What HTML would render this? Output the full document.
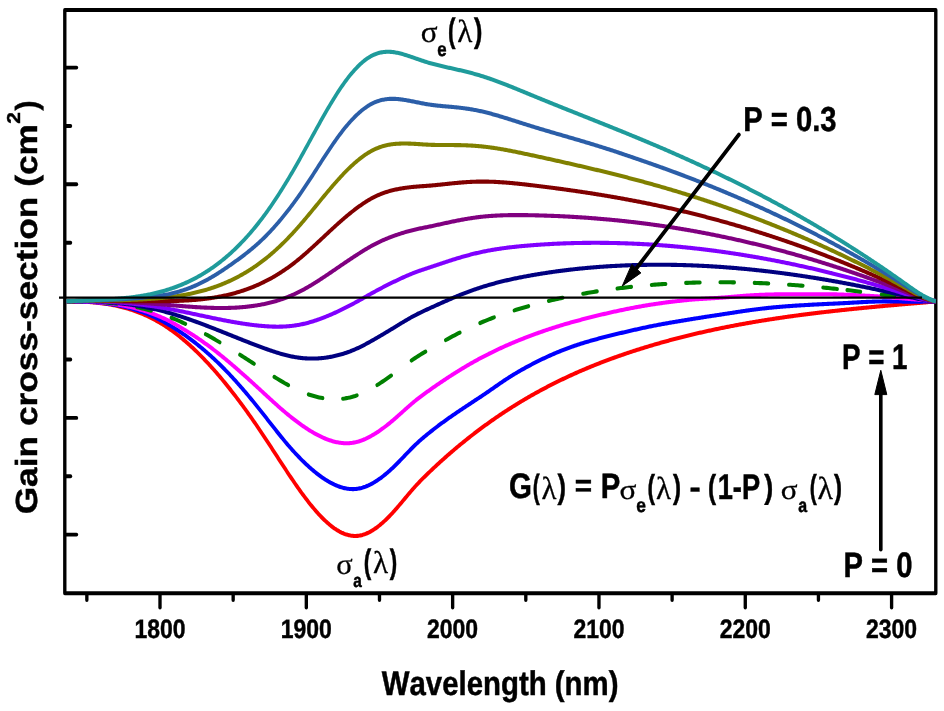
<!DOCTYPE html>
<html><head><meta charset="utf-8"><style>
html,body{margin:0;padding:0;background:#fff;width:944px;height:711px;overflow:hidden}
svg{display:block}
text{font-family:"Liberation Sans",sans-serif;font-weight:bold;fill:#000;font-kerning:none;text-rendering:geometricPrecision}
</style></head><body>
<svg style="will-change:transform" width="944" height="711" viewBox="0 0 944 711">
<rect width="944" height="711" fill="#fff"/>
<g stroke="#000" stroke-width="3.9" stroke-linecap="round" fill="none" transform="scale(0.86,1)">
<rect x="75.35" y="10.0" width="1012.79" height="583.3" stroke-linejoin="round"/>
<line x1="100.98" y1="594.3" x2="100.98" y2="600"/>
<line x1="186.05" y1="594.3" x2="186.05" y2="607.6"/>
<line x1="271.12" y1="594.3" x2="271.12" y2="600"/>
<line x1="356.19" y1="594.3" x2="356.19" y2="607.6"/>
<line x1="441.26" y1="594.3" x2="441.26" y2="600"/>
<line x1="526.33" y1="594.3" x2="526.33" y2="607.6"/>
<line x1="611.40" y1="594.3" x2="611.40" y2="600"/>
<line x1="696.47" y1="594.3" x2="696.47" y2="607.6"/>
<line x1="781.53" y1="594.3" x2="781.53" y2="600"/>
<line x1="866.60" y1="594.3" x2="866.60" y2="607.6"/>
<line x1="951.67" y1="594.3" x2="951.67" y2="600"/>
<line x1="1036.74" y1="594.3" x2="1036.74" y2="607.6"/>
<line x1="76.51" y1="67.6" x2="88.95" y2="67.6"/>
<line x1="76.51" y1="184.3" x2="88.95" y2="184.3"/>
<line x1="76.51" y1="301.1" x2="88.95" y2="301.1"/>
<line x1="76.51" y1="417.9" x2="88.95" y2="417.9"/>
<line x1="76.51" y1="534.6" x2="88.95" y2="534.6"/>
<line x1="76.51" y1="126.0" x2="81.98" y2="126.0"/>
<line x1="76.51" y1="242.7" x2="81.98" y2="242.7"/>
<line x1="76.51" y1="359.5" x2="81.98" y2="359.5"/>
<line x1="76.51" y1="476.2" x2="81.98" y2="476.2"/>
</g>
<g fill="none" stroke-width="4.1" stroke-linejoin="round" transform="scale(0.86,1)">
<path d="M77.33,301.47 L78.49,301.46 L79.65,301.46 L80.81,301.46 L81.98,301.46 L83.14,301.46 L84.30,301.46 L85.47,301.47 L86.63,301.48 L87.79,301.50 L88.95,301.52 L90.12,301.54 L91.28,301.56 L92.44,301.59 L93.60,301.62 L94.77,301.65 L95.93,301.69 L97.09,301.73 L98.26,301.78 L99.42,301.83 L100.58,301.88 L101.74,301.94 L102.91,302.00 L104.07,302.06 L105.23,302.13 L106.40,302.21 L107.56,302.28 L108.72,302.37 L109.88,302.46 L111.05,302.55 L112.21,302.65 L113.37,302.75 L114.53,302.86 L115.70,302.97 L116.86,303.09 L118.02,303.21 L119.19,303.34 L120.35,303.47 L121.51,303.61 L122.67,303.76 L123.84,303.91 L125.00,304.07 L126.16,304.23 L127.33,304.40 L128.49,304.57 L129.65,304.75 L130.81,304.94 L131.98,305.14 L133.14,305.34 L134.30,305.54 L135.47,305.76 L136.63,305.98 L137.79,306.20 L138.95,306.44 L140.12,306.68 L141.28,306.93 L142.44,307.18 L143.60,307.45 L144.77,307.72 L145.93,307.99 L147.09,308.28 L148.26,308.57 L149.42,308.87 L150.58,309.18 L151.74,309.50 L152.91,309.82 L154.07,310.15 L155.23,310.49 L156.40,310.84 L157.56,311.20 L158.72,311.56 L159.88,311.94 L161.05,312.32 L162.21,312.71 L163.37,313.11 L164.53,313.52 L165.70,313.94 L166.86,314.36 L168.02,314.80 L169.19,315.24 L170.35,315.70 L171.51,316.16 L172.67,316.64 L173.84,317.12 L175.00,317.61 L176.16,318.11 L177.33,318.63 L178.49,319.15 L179.65,319.68 L180.81,320.22 L181.98,320.78 L183.14,321.34 L184.30,321.91 L185.47,322.50 L186.63,323.09 L187.79,323.70 L188.95,324.31 L190.12,324.94 L191.28,325.58 L192.44,326.23 L193.60,326.88 L194.77,327.56 L195.93,328.24 L197.09,328.93 L198.26,329.63 L199.42,330.34 L200.58,331.07 L201.74,331.80 L202.91,332.55 L204.07,333.31 L205.23,334.07 L206.40,334.85 L207.56,335.64 L208.72,336.43 L209.88,337.24 L211.05,338.06 L212.21,338.89 L213.37,339.73 L214.53,340.57 L215.70,341.43 L216.86,342.30 L218.02,343.18 L219.19,344.07 L220.35,344.97 L221.51,345.88 L222.67,346.79 L223.84,347.72 L225.00,348.66 L226.16,349.61 L227.33,350.56 L228.49,351.53 L229.65,352.51 L230.81,353.49 L231.98,354.49 L233.14,355.49 L234.30,356.50 L235.47,357.53 L236.63,358.56 L237.79,359.60 L238.95,360.65 L240.12,361.71 L241.28,362.78 L242.44,363.86 L243.60,364.94 L244.77,366.04 L245.93,367.14 L247.09,368.26 L248.26,369.38 L249.42,370.51 L250.58,371.65 L251.74,372.80 L252.91,373.95 L254.07,375.12 L255.23,376.29 L256.40,377.47 L257.56,378.66 L258.72,379.86 L259.88,381.07 L261.05,382.29 L262.21,383.51 L263.37,384.74 L264.53,385.98 L265.70,387.23 L266.86,388.49 L268.02,389.75 L269.19,391.02 L270.35,392.30 L271.51,393.59 L272.67,394.89 L273.84,396.19 L275.00,397.50 L276.16,398.82 L277.33,400.15 L278.49,401.48 L279.65,402.82 L280.81,404.17 L281.98,405.53 L283.14,406.89 L284.30,408.27 L285.47,409.64 L286.63,411.03 L287.79,412.42 L288.95,413.83 L290.12,415.23 L291.28,416.65 L292.44,418.07 L293.60,419.50 L294.77,420.93 L295.93,422.38 L297.09,423.83 L298.26,425.28 L299.42,426.75 L300.58,428.22 L301.74,429.69 L302.91,431.18 L304.07,432.67 L305.23,434.16 L306.40,435.67 L307.56,437.17 L308.72,438.69 L309.88,440.21 L311.05,441.73 L312.21,443.26 L313.37,444.79 L314.53,446.32 L315.70,447.86 L316.86,449.40 L318.02,450.94 L319.19,452.48 L320.35,454.02 L321.51,455.56 L322.67,457.10 L323.84,458.65 L325.00,460.18 L326.16,461.72 L327.33,463.26 L328.49,464.79 L329.65,466.32 L330.81,467.84 L331.98,469.36 L333.14,470.88 L334.30,472.39 L335.47,473.89 L336.63,475.39 L337.79,476.88 L338.95,478.37 L340.12,479.84 L341.28,481.31 L342.44,482.77 L343.60,484.22 L344.77,485.66 L345.93,487.09 L347.09,488.51 L348.26,489.92 L349.42,491.32 L350.58,492.70 L351.74,494.07 L352.91,495.43 L354.07,496.78 L355.23,498.11 L356.40,499.43 L357.56,500.73 L358.72,502.01 L359.88,503.28 L361.05,504.54 L362.21,505.77 L363.37,506.99 L364.53,508.20 L365.70,509.38 L366.86,510.54 L368.02,511.69 L369.19,512.81 L370.35,513.91 L371.51,515.00 L372.67,516.06 L373.84,517.10 L375.00,518.12 L376.16,519.11 L377.33,520.08 L378.49,521.03 L379.65,521.95 L380.81,522.85 L381.98,523.72 L383.14,524.57 L384.30,525.39 L385.47,526.19 L386.63,526.95 L387.79,527.69 L388.95,528.40 L390.12,529.08 L391.28,529.74 L392.44,530.36 L393.60,530.95 L394.77,531.52 L395.93,532.05 L397.09,532.55 L398.26,533.01 L399.42,533.45 L400.58,533.85 L401.74,534.22 L402.91,534.55 L404.07,534.85 L405.23,535.12 L406.40,535.34 L407.56,535.54 L408.72,535.69 L409.88,535.81 L411.05,535.89 L412.21,535.94 L413.37,535.94 L414.53,535.91 L415.70,535.84 L416.86,535.72 L418.02,535.57 L419.19,535.38 L420.35,535.15 L421.51,534.89 L422.67,534.59 L423.84,534.25 L425.00,533.88 L426.16,533.48 L427.33,533.04 L428.49,532.56 L429.65,532.06 L430.81,531.52 L431.98,530.95 L433.14,530.35 L434.30,529.72 L435.47,529.07 L436.63,528.38 L437.79,527.66 L438.95,526.92 L440.12,526.15 L441.28,525.36 L442.44,524.53 L443.60,523.69 L444.77,522.82 L445.93,521.92 L447.09,521.01 L448.26,520.07 L449.42,519.10 L450.58,518.12 L451.74,517.12 L452.91,516.09 L454.07,515.05 L455.23,513.99 L456.40,512.91 L457.56,511.82 L458.72,510.70 L459.88,509.57 L461.05,508.43 L462.21,507.28 L463.37,506.11 L464.53,504.93 L465.70,503.75 L466.86,502.56 L468.02,501.37 L469.19,500.17 L470.35,498.97 L471.51,497.77 L472.67,496.57 L473.84,495.38 L475.00,494.19 L476.16,493.01 L477.33,491.83 L478.49,490.67 L479.65,489.52 L480.81,488.38 L481.98,487.25 L483.14,486.14 L484.30,485.05 L485.47,483.98 L486.63,482.91 L487.79,481.87 L488.95,480.83 L490.12,479.81 L491.28,478.80 L492.44,477.81 L493.60,476.82 L494.77,475.83 L495.93,474.86 L497.09,473.89 L498.26,472.93 L499.42,471.97 L500.58,471.02 L501.74,470.07 L502.91,469.13 L504.07,468.19 L505.23,467.25 L506.40,466.32 L507.56,465.39 L508.72,464.47 L509.88,463.55 L511.05,462.64 L512.21,461.73 L513.37,460.83 L514.53,459.93 L515.70,459.03 L516.86,458.14 L518.02,457.25 L519.19,456.37 L520.35,455.49 L521.51,454.61 L522.67,453.74 L523.84,452.88 L525.00,452.02 L526.16,451.16 L527.33,450.30 L528.49,449.46 L529.65,448.61 L530.81,447.77 L531.98,446.93 L533.14,446.10 L534.30,445.27 L535.47,444.44 L536.63,443.62 L537.79,442.81 L538.95,441.99 L540.12,441.19 L541.28,440.38 L542.44,439.58 L543.60,438.78 L544.77,437.99 L545.93,437.20 L547.09,436.42 L548.26,435.64 L549.42,434.86 L550.58,434.09 L551.74,433.32 L552.91,432.55 L554.07,431.79 L555.23,431.03 L556.40,430.28 L557.56,429.53 L558.72,428.78 L559.88,428.04 L561.05,427.30 L562.21,426.57 L563.37,425.84 L564.53,425.11 L565.70,424.39 L566.86,423.67 L568.02,422.95 L569.19,422.24 L570.35,421.53 L571.51,420.82 L572.67,420.12 L573.84,419.42 L575.00,418.73 L576.16,418.04 L577.33,417.35 L578.49,416.67 L579.65,415.99 L580.81,415.31 L581.98,414.64 L583.14,413.97 L584.30,413.30 L585.47,412.64 L586.63,411.98 L587.79,411.33 L588.95,410.67 L590.12,410.03 L591.28,409.38 L592.44,408.74 L593.60,408.10 L594.77,407.47 L595.93,406.83 L597.09,406.21 L598.26,405.58 L599.42,404.96 L600.58,404.34 L601.74,403.73 L602.91,403.11 L604.07,402.51 L605.23,401.90 L606.40,401.30 L607.56,400.70 L608.72,400.10 L609.88,399.51 L611.05,398.92 L612.21,398.34 L613.37,397.75 L614.53,397.17 L615.70,396.60 L616.86,396.02 L618.02,395.45 L619.19,394.89 L620.35,394.32 L621.51,393.76 L622.67,393.20 L623.84,392.65 L625.00,392.10 L626.16,391.55 L627.33,391.00 L628.49,390.46 L629.65,389.92 L630.81,389.38 L631.98,388.85 L633.14,388.31 L634.30,387.79 L635.47,387.26 L636.63,386.74 L637.79,386.22 L638.95,385.70 L640.12,385.19 L641.28,384.68 L642.44,384.17 L643.60,383.66 L644.77,383.16 L645.93,382.66 L647.09,382.16 L648.26,381.67 L649.42,381.18 L650.58,380.69 L651.74,380.20 L652.91,379.72 L654.07,379.24 L655.23,378.76 L656.40,378.28 L657.56,377.81 L658.72,377.34 L659.88,376.87 L661.05,376.40 L662.21,375.94 L663.37,375.48 L664.53,375.02 L665.70,374.57 L666.86,374.12 L668.02,373.67 L669.19,373.22 L670.35,372.77 L671.51,372.33 L672.67,371.89 L673.84,371.45 L675.00,371.02 L676.16,370.59 L677.33,370.16 L678.49,369.73 L679.65,369.30 L680.81,368.88 L681.98,368.46 L683.14,368.04 L684.30,367.62 L685.47,367.21 L686.63,366.80 L687.79,366.39 L688.95,365.98 L690.12,365.58 L691.28,365.17 L692.44,364.77 L693.60,364.37 L694.77,363.98 L695.93,363.59 L697.09,363.19 L698.26,362.80 L699.42,362.42 L700.58,362.03 L701.74,361.65 L702.91,361.27 L704.07,360.89 L705.23,360.51 L706.40,360.14 L707.56,359.76 L708.72,359.39 L709.88,359.02 L711.05,358.66 L712.21,358.29 L713.37,357.93 L714.53,357.57 L715.70,357.21 L716.86,356.85 L718.02,356.50 L719.19,356.15 L720.35,355.79 L721.51,355.44 L722.67,355.10 L723.84,354.75 L725.00,354.41 L726.16,354.07 L727.33,353.73 L728.49,353.39 L729.65,353.05 L730.81,352.72 L731.98,352.38 L733.14,352.05 L734.30,351.72 L735.47,351.39 L736.63,351.07 L737.79,350.74 L738.95,350.42 L740.12,350.10 L741.28,349.78 L742.44,349.46 L743.60,349.15 L744.77,348.83 L745.93,348.52 L747.09,348.21 L748.26,347.90 L749.42,347.59 L750.58,347.28 L751.74,346.98 L752.91,346.67 L754.07,346.37 L755.23,346.07 L756.40,345.77 L757.56,345.47 L758.72,345.18 L759.88,344.88 L761.05,344.59 L762.21,344.30 L763.37,344.01 L764.53,343.72 L765.70,343.43 L766.86,343.15 L768.02,342.86 L769.19,342.58 L770.35,342.30 L771.51,342.02 L772.67,341.74 L773.84,341.46 L775.00,341.19 L776.16,340.91 L777.33,340.64 L778.49,340.37 L779.65,340.10 L780.81,339.83 L781.98,339.56 L783.14,339.30 L784.30,339.03 L785.47,338.77 L786.63,338.51 L787.79,338.25 L788.95,337.99 L790.12,337.73 L791.28,337.48 L792.44,337.22 L793.60,336.97 L794.77,336.72 L795.93,336.46 L797.09,336.22 L798.26,335.97 L799.42,335.72 L800.58,335.48 L801.74,335.23 L802.91,334.99 L804.07,334.75 L805.23,334.51 L806.40,334.27 L807.56,334.03 L808.72,333.79 L809.88,333.56 L811.05,333.33 L812.21,333.09 L813.37,332.86 L814.53,332.63 L815.70,332.40 L816.86,332.17 L818.02,331.95 L819.19,331.72 L820.35,331.50 L821.51,331.28 L822.67,331.06 L823.84,330.84 L825.00,330.62 L826.16,330.40 L827.33,330.18 L828.49,329.97 L829.65,329.75 L830.81,329.54 L831.98,329.33 L833.14,329.12 L834.30,328.91 L835.47,328.70 L836.63,328.49 L837.79,328.28 L838.95,328.08 L840.12,327.88 L841.28,327.67 L842.44,327.47 L843.60,327.27 L844.77,327.07 L845.93,326.87 L847.09,326.68 L848.26,326.48 L849.42,326.29 L850.58,326.09 L851.74,325.90 L852.91,325.71 L854.07,325.52 L855.23,325.33 L856.40,325.14 L857.56,324.95 L858.72,324.76 L859.88,324.58 L861.05,324.39 L862.21,324.21 L863.37,324.03 L864.53,323.85 L865.70,323.67 L866.86,323.49 L868.02,323.31 L869.19,323.13 L870.35,322.96 L871.51,322.78 L872.67,322.61 L873.84,322.43 L875.00,322.26 L876.16,322.09 L877.33,321.92 L878.49,321.75 L879.65,321.58 L880.81,321.41 L881.98,321.25 L883.14,321.08 L884.30,320.92 L885.47,320.75 L886.63,320.59 L887.79,320.43 L888.95,320.27 L890.12,320.10 L891.28,319.95 L892.44,319.79 L893.60,319.63 L894.77,319.47 L895.93,319.32 L897.09,319.16 L898.26,319.01 L899.42,318.85 L900.58,318.70 L901.74,318.55 L902.91,318.40 L904.07,318.25 L905.23,318.10 L906.40,317.95 L907.56,317.81 L908.72,317.66 L909.88,317.51 L911.05,317.37 L912.21,317.22 L913.37,317.08 L914.53,316.94 L915.70,316.80 L916.86,316.66 L918.02,316.52 L919.19,316.38 L920.35,316.24 L921.51,316.10 L922.67,315.96 L923.84,315.83 L925.00,315.69 L926.16,315.55 L927.33,315.42 L928.49,315.29 L929.65,315.15 L930.81,315.02 L931.98,314.89 L933.14,314.76 L934.30,314.63 L935.47,314.50 L936.63,314.37 L937.79,314.24 L938.95,314.12 L940.12,313.99 L941.28,313.86 L942.44,313.74 L943.60,313.61 L944.77,313.49 L945.93,313.37 L947.09,313.24 L948.26,313.12 L949.42,313.00 L950.58,312.88 L951.74,312.76 L952.91,312.64 L954.07,312.52 L955.23,312.40 L956.40,312.29 L957.56,312.17 L958.72,312.05 L959.88,311.94 L961.05,311.82 L962.21,311.71 L963.37,311.59 L964.53,311.48 L965.70,311.36 L966.86,311.25 L968.02,311.14 L969.19,311.03 L970.35,310.92 L971.51,310.81 L972.67,310.70 L973.84,310.59 L975.00,310.48 L976.16,310.37 L977.33,310.26 L978.49,310.15 L979.65,310.05 L980.81,309.94 L981.98,309.84 L983.14,309.73 L984.30,309.62 L985.47,309.52 L986.63,309.42 L987.79,309.31 L988.95,309.21 L990.12,309.11 L991.28,309.00 L992.44,308.90 L993.60,308.80 L994.77,308.70 L995.93,308.60 L997.09,308.50 L998.26,308.40 L999.42,308.30 L1000.58,308.20 L1001.74,308.10 L1002.91,308.00 L1004.07,307.90 L1005.23,307.81 L1006.40,307.71 L1007.56,307.61 L1008.72,307.52 L1009.88,307.42 L1011.05,307.32 L1012.21,307.23 L1013.37,307.13 L1014.53,307.04 L1015.70,306.94 L1016.86,306.85 L1018.02,306.76 L1019.19,306.66 L1020.35,306.57 L1021.51,306.48 L1022.67,306.38 L1023.84,306.29 L1025.00,306.20 L1026.16,306.11 L1027.33,306.02 L1028.49,305.92 L1029.65,305.83 L1030.81,305.74 L1031.98,305.65 L1033.14,305.56 L1034.30,305.47 L1035.47,305.38 L1036.63,305.29 L1037.79,305.20 L1038.95,305.11 L1040.12,305.02 L1041.28,304.94 L1042.44,304.85 L1043.60,304.76 L1044.77,304.67 L1045.93,304.58 L1047.09,304.49 L1048.26,304.41 L1049.42,304.32 L1050.58,304.23 L1051.74,304.14 L1052.91,304.06 L1054.07,303.97 L1055.23,303.88 L1056.40,303.80 L1057.56,303.71 L1058.72,303.62 L1059.88,303.54 L1061.05,303.45 L1062.21,303.37 L1063.37,303.28 L1064.53,303.19 L1065.70,303.11 L1066.86,303.02 L1068.02,302.94 L1069.19,302.85 L1070.35,302.77 L1071.51,302.68 L1072.67,302.60 L1073.84,302.51 L1075.00,302.42 L1076.16,302.34 L1077.33,302.25 L1078.49,302.17 L1079.65,302.08 L1080.81,302.00 L1081.98,301.91 L1083.14,301.83 L1084.30,301.74 L1085.47,301.66 L1086.63,301.57 L1088.14,301.49" stroke="#ff0000"/>
<path d="M77.33,301.46 L78.49,301.45 L79.65,301.44 L80.81,301.43 L81.98,301.42 L83.14,301.42 L84.30,301.42 L85.47,301.42 L86.63,301.43 L87.79,301.44 L88.95,301.45 L90.12,301.46 L91.28,301.48 L92.44,301.50 L93.60,301.52 L94.77,301.55 L95.93,301.58 L97.09,301.61 L98.26,301.65 L99.42,301.69 L100.58,301.73 L101.74,301.78 L102.91,301.83 L104.07,301.89 L105.23,301.94 L106.40,302.01 L107.56,302.07 L108.72,302.14 L109.88,302.22 L111.05,302.30 L112.21,302.38 L113.37,302.47 L114.53,302.56 L115.70,302.66 L116.86,302.76 L118.02,302.87 L119.19,302.98 L120.35,303.09 L121.51,303.21 L122.67,303.34 L123.84,303.47 L125.00,303.60 L126.16,303.74 L127.33,303.89 L128.49,304.04 L129.65,304.20 L130.81,304.36 L131.98,304.53 L133.14,304.70 L134.30,304.88 L135.47,305.06 L136.63,305.25 L137.79,305.45 L138.95,305.65 L140.12,305.86 L141.28,306.08 L142.44,306.30 L143.60,306.52 L144.77,306.76 L145.93,307.00 L147.09,307.24 L148.26,307.50 L149.42,307.76 L150.58,308.02 L151.74,308.30 L152.91,308.58 L154.07,308.86 L155.23,309.16 L156.40,309.46 L157.56,309.77 L158.72,310.08 L159.88,310.41 L161.05,310.74 L162.21,311.08 L163.37,311.42 L164.53,311.78 L165.70,312.14 L166.86,312.51 L168.02,312.89 L169.19,313.28 L170.35,313.67 L171.51,314.08 L172.67,314.49 L173.84,314.91 L175.00,315.34 L176.16,315.78 L177.33,316.23 L178.49,316.68 L179.65,317.15 L180.81,317.62 L181.98,318.10 L183.14,318.59 L184.30,319.10 L185.47,319.61 L186.63,320.12 L187.79,320.65 L188.95,321.19 L190.12,321.73 L191.28,322.29 L192.44,322.85 L193.60,323.42 L194.77,324.00 L195.93,324.59 L197.09,325.18 L198.26,325.77 L199.42,326.36 L200.58,326.97 L201.74,327.58 L202.91,328.20 L204.07,328.83 L205.23,329.47 L206.40,330.12 L207.56,330.77 L208.72,331.43 L209.88,332.10 L211.05,332.78 L212.21,333.46 L213.37,334.15 L214.53,334.85 L215.70,335.56 L216.86,336.28 L218.02,337.00 L219.19,337.73 L220.35,338.47 L221.51,339.21 L222.67,339.97 L223.84,340.73 L225.00,341.49 L226.16,342.27 L227.33,343.05 L228.49,343.84 L229.65,344.64 L230.81,345.44 L231.98,346.25 L233.14,347.07 L234.30,347.90 L235.47,348.74 L236.63,349.58 L237.79,350.43 L238.95,351.29 L240.12,352.15 L241.28,353.03 L242.44,353.91 L243.60,354.80 L244.77,355.70 L245.93,356.60 L247.09,357.52 L248.26,358.44 L249.42,359.37 L250.58,360.31 L251.74,361.26 L252.91,362.22 L254.07,363.18 L255.23,364.15 L256.40,365.14 L257.56,366.13 L258.72,367.13 L259.88,368.13 L261.05,369.15 L262.21,370.17 L263.37,371.21 L264.53,372.25 L265.70,373.30 L266.86,374.35 L268.02,375.42 L269.19,376.49 L270.35,377.57 L271.51,378.66 L272.67,379.76 L273.84,380.86 L275.00,381.98 L276.16,383.10 L277.33,384.22 L278.49,385.36 L279.65,386.50 L280.81,387.65 L281.98,388.80 L283.14,389.97 L284.30,391.13 L285.47,392.31 L286.63,393.49 L287.79,394.68 L288.95,395.87 L290.12,397.07 L291.28,398.28 L292.44,399.49 L293.60,400.71 L294.77,401.93 L295.93,403.16 L297.09,404.39 L298.26,405.63 L299.42,406.87 L300.58,408.12 L301.74,409.37 L302.91,410.62 L304.07,411.89 L305.23,413.15 L306.40,414.42 L307.56,415.69 L308.72,416.97 L309.88,418.24 L311.05,419.52 L312.21,420.80 L313.37,422.08 L314.53,423.36 L315.70,424.64 L316.86,425.92 L318.02,427.19 L319.19,428.46 L320.35,429.73 L321.51,430.99 L322.67,432.25 L323.84,433.51 L325.00,434.75 L326.16,436.00 L327.33,437.23 L328.49,438.45 L329.65,439.67 L330.81,440.88 L331.98,442.08 L333.14,443.27 L334.30,444.44 L335.47,445.61 L336.63,446.77 L337.79,447.91 L338.95,449.04 L340.12,450.17 L341.28,451.27 L342.44,452.37 L343.60,453.46 L344.77,454.53 L345.93,455.59 L347.09,456.63 L348.26,457.66 L349.42,458.69 L350.58,459.69 L351.74,460.69 L352.91,461.67 L354.07,462.64 L355.23,463.59 L356.40,464.53 L357.56,465.46 L358.72,466.38 L359.88,467.28 L361.05,468.16 L362.21,469.04 L363.37,469.90 L364.53,470.74 L365.70,471.57 L366.86,472.39 L368.02,473.19 L369.19,473.97 L370.35,474.74 L371.51,475.49 L372.67,476.23 L373.84,476.95 L375.00,477.65 L376.16,478.34 L377.33,479.00 L378.49,479.66 L379.65,480.29 L380.81,480.90 L381.98,481.50 L383.14,482.07 L384.30,482.63 L385.47,483.16 L386.63,483.68 L387.79,484.17 L388.95,484.65 L390.12,485.10 L391.28,485.53 L392.44,485.93 L393.60,486.32 L394.77,486.68 L395.93,487.02 L397.09,487.33 L398.26,487.62 L399.42,487.89 L400.58,488.13 L401.74,488.34 L402.91,488.53 L404.07,488.69 L405.23,488.83 L406.40,488.93 L407.56,489.01 L408.72,489.06 L409.88,489.08 L411.05,489.08 L412.21,489.04 L413.37,488.97 L414.53,488.87 L415.70,488.74 L416.86,488.58 L418.02,488.38 L419.19,488.16 L420.35,487.91 L421.51,487.63 L422.67,487.31 L423.84,486.97 L425.00,486.61 L426.16,486.21 L427.33,485.79 L428.49,485.35 L429.65,484.87 L430.81,484.38 L431.98,483.85 L433.14,483.31 L434.30,482.74 L435.47,482.15 L436.63,481.53 L437.79,480.90 L438.95,480.24 L440.12,479.56 L441.28,478.86 L442.44,478.14 L443.60,477.40 L444.77,476.64 L445.93,475.86 L447.09,475.06 L448.26,474.24 L449.42,473.40 L450.58,472.55 L451.74,471.68 L452.91,470.79 L454.07,469.89 L455.23,468.97 L456.40,468.03 L457.56,467.08 L458.72,466.12 L459.88,465.14 L461.05,464.14 L462.21,463.14 L463.37,462.12 L464.53,461.10 L465.70,460.06 L466.86,459.02 L468.02,457.98 L469.19,456.93 L470.35,455.88 L471.51,454.83 L472.67,453.78 L473.84,452.74 L475.00,451.70 L476.16,450.66 L477.33,449.63 L478.49,448.62 L479.65,447.61 L480.81,446.61 L481.98,445.63 L483.14,444.67 L484.30,443.72 L485.47,442.79 L486.63,441.87 L487.79,440.97 L488.95,440.08 L490.12,439.21 L491.28,438.34 L492.44,437.49 L493.60,436.65 L494.77,435.82 L495.93,434.99 L497.09,434.18 L498.26,433.37 L499.42,432.56 L500.58,431.77 L501.74,430.97 L502.91,430.19 L504.07,429.41 L505.23,428.63 L506.40,427.86 L507.56,427.10 L508.72,426.34 L509.88,425.58 L511.05,424.84 L512.21,424.09 L513.37,423.35 L514.53,422.62 L515.70,421.89 L516.86,421.17 L518.02,420.45 L519.19,419.73 L520.35,419.02 L521.51,418.32 L522.67,417.61 L523.84,416.91 L525.00,416.22 L526.16,415.52 L527.33,414.83 L528.49,414.15 L529.65,413.46 L530.81,412.78 L531.98,412.10 L533.14,411.43 L534.30,410.75 L535.47,410.08 L536.63,409.41 L537.79,408.75 L538.95,408.08 L540.12,407.42 L541.28,406.75 L542.44,406.09 L543.60,405.43 L544.77,404.77 L545.93,404.11 L547.09,403.45 L548.26,402.80 L549.42,402.14 L550.58,401.48 L551.74,400.82 L552.91,400.16 L554.07,399.50 L555.23,398.84 L556.40,398.18 L557.56,397.52 L558.72,396.85 L559.88,396.19 L561.05,395.52 L562.21,394.84 L563.37,394.17 L564.53,393.49 L565.70,392.81 L566.86,392.13 L568.02,391.44 L569.19,390.75 L570.35,390.06 L571.51,389.36 L572.67,388.67 L573.84,387.97 L575.00,387.27 L576.16,386.57 L577.33,385.87 L578.49,385.18 L579.65,384.48 L580.81,383.79 L581.98,383.10 L583.14,382.42 L584.30,381.74 L585.47,381.07 L586.63,380.40 L587.79,379.73 L588.95,379.08 L590.12,378.43 L591.28,377.78 L592.44,377.15 L593.60,376.51 L594.77,375.89 L595.93,375.27 L597.09,374.66 L598.26,374.05 L599.42,373.45 L600.58,372.86 L601.74,372.27 L602.91,371.68 L604.07,371.11 L605.23,370.53 L606.40,369.96 L607.56,369.40 L608.72,368.84 L609.88,368.28 L611.05,367.73 L612.21,367.18 L613.37,366.64 L614.53,366.10 L615.70,365.57 L616.86,365.04 L618.02,364.51 L619.19,363.99 L620.35,363.47 L621.51,362.95 L622.67,362.44 L623.84,361.93 L625.00,361.43 L626.16,360.93 L627.33,360.44 L628.49,359.95 L629.65,359.46 L630.81,358.98 L631.98,358.50 L633.14,358.03 L634.30,357.56 L635.47,357.09 L636.63,356.63 L637.79,356.18 L638.95,355.72 L640.12,355.28 L641.28,354.83 L642.44,354.40 L643.60,353.96 L644.77,353.53 L645.93,353.11 L647.09,352.68 L648.26,352.27 L649.42,351.86 L650.58,351.45 L651.74,351.04 L652.91,350.64 L654.07,350.25 L655.23,349.86 L656.40,349.47 L657.56,349.09 L658.72,348.71 L659.88,348.34 L661.05,347.97 L662.21,347.60 L663.37,347.24 L664.53,346.88 L665.70,346.53 L666.86,346.18 L668.02,345.84 L669.19,345.49 L670.35,345.16 L671.51,344.82 L672.67,344.49 L673.84,344.17 L675.00,343.85 L676.16,343.53 L677.33,343.22 L678.49,342.91 L679.65,342.60 L680.81,342.30 L681.98,342.00 L683.14,341.70 L684.30,341.41 L685.47,341.12 L686.63,340.83 L687.79,340.54 L688.95,340.26 L690.12,339.98 L691.28,339.71 L692.44,339.43 L693.60,339.16 L694.77,338.89 L695.93,338.62 L697.09,338.36 L698.26,338.09 L699.42,337.83 L700.58,337.57 L701.74,337.31 L702.91,337.06 L704.07,336.80 L705.23,336.55 L706.40,336.30 L707.56,336.04 L708.72,335.79 L709.88,335.54 L711.05,335.30 L712.21,335.05 L713.37,334.80 L714.53,334.56 L715.70,334.32 L716.86,334.07 L718.02,333.83 L719.19,333.59 L720.35,333.35 L721.51,333.11 L722.67,332.87 L723.84,332.63 L725.00,332.40 L726.16,332.16 L727.33,331.93 L728.49,331.69 L729.65,331.46 L730.81,331.23 L731.98,330.99 L733.14,330.76 L734.30,330.53 L735.47,330.30 L736.63,330.08 L737.79,329.85 L738.95,329.62 L740.12,329.40 L741.28,329.18 L742.44,328.95 L743.60,328.73 L744.77,328.51 L745.93,328.29 L747.09,328.08 L748.26,327.86 L749.42,327.65 L750.58,327.43 L751.74,327.22 L752.91,327.01 L754.07,326.80 L755.23,326.60 L756.40,326.39 L757.56,326.19 L758.72,325.99 L759.88,325.79 L761.05,325.59 L762.21,325.40 L763.37,325.20 L764.53,325.01 L765.70,324.82 L766.86,324.63 L768.02,324.44 L769.19,324.25 L770.35,324.07 L771.51,323.89 L772.67,323.71 L773.84,323.52 L775.00,323.35 L776.16,323.17 L777.33,322.99 L778.49,322.82 L779.65,322.64 L780.81,322.47 L781.98,322.30 L783.14,322.13 L784.30,321.96 L785.47,321.79 L786.63,321.62 L787.79,321.45 L788.95,321.28 L790.12,321.11 L791.28,320.95 L792.44,320.78 L793.60,320.61 L794.77,320.45 L795.93,320.28 L797.09,320.12 L798.26,319.95 L799.42,319.79 L800.58,319.62 L801.74,319.46 L802.91,319.30 L804.07,319.14 L805.23,318.97 L806.40,318.81 L807.56,318.65 L808.72,318.49 L809.88,318.33 L811.05,318.17 L812.21,318.01 L813.37,317.85 L814.53,317.69 L815.70,317.53 L816.86,317.37 L818.02,317.22 L819.19,317.06 L820.35,316.90 L821.51,316.75 L822.67,316.59 L823.84,316.44 L825.00,316.28 L826.16,316.13 L827.33,315.98 L828.49,315.82 L829.65,315.67 L830.81,315.52 L831.98,315.37 L833.14,315.21 L834.30,315.06 L835.47,314.91 L836.63,314.75 L837.79,314.60 L838.95,314.45 L840.12,314.30 L841.28,314.14 L842.44,313.99 L843.60,313.84 L844.77,313.68 L845.93,313.53 L847.09,313.37 L848.26,313.22 L849.42,313.06 L850.58,312.91 L851.74,312.75 L852.91,312.60 L854.07,312.44 L855.23,312.29 L856.40,312.14 L857.56,311.98 L858.72,311.83 L859.88,311.68 L861.05,311.53 L862.21,311.38 L863.37,311.23 L864.53,311.08 L865.70,310.93 L866.86,310.79 L868.02,310.64 L869.19,310.50 L870.35,310.36 L871.51,310.22 L872.67,310.08 L873.84,309.95 L875.00,309.81 L876.16,309.68 L877.33,309.55 L878.49,309.42 L879.65,309.29 L880.81,309.17 L881.98,309.04 L883.14,308.92 L884.30,308.80 L885.47,308.68 L886.63,308.57 L887.79,308.45 L888.95,308.34 L890.12,308.23 L891.28,308.12 L892.44,308.01 L893.60,307.91 L894.77,307.80 L895.93,307.70 L897.09,307.60 L898.26,307.50 L899.42,307.41 L900.58,307.31 L901.74,307.22 L902.91,307.13 L904.07,307.04 L905.23,306.95 L906.40,306.87 L907.56,306.78 L908.72,306.70 L909.88,306.62 L911.05,306.54 L912.21,306.46 L913.37,306.38 L914.53,306.30 L915.70,306.23 L916.86,306.16 L918.02,306.08 L919.19,306.01 L920.35,305.94 L921.51,305.87 L922.67,305.81 L923.84,305.74 L925.00,305.67 L926.16,305.61 L927.33,305.54 L928.49,305.48 L929.65,305.42 L930.81,305.36 L931.98,305.30 L933.14,305.24 L934.30,305.18 L935.47,305.12 L936.63,305.06 L937.79,305.00 L938.95,304.95 L940.12,304.89 L941.28,304.84 L942.44,304.78 L943.60,304.73 L944.77,304.67 L945.93,304.62 L947.09,304.57 L948.26,304.51 L949.42,304.46 L950.58,304.41 L951.74,304.36 L952.91,304.31 L954.07,304.26 L955.23,304.21 L956.40,304.16 L957.56,304.11 L958.72,304.06 L959.88,304.01 L961.05,303.96 L962.21,303.91 L963.37,303.87 L964.53,303.82 L965.70,303.77 L966.86,303.72 L968.02,303.68 L969.19,303.63 L970.35,303.58 L971.51,303.53 L972.67,303.49 L973.84,303.44 L975.00,303.39 L976.16,303.34 L977.33,303.30 L978.49,303.25 L979.65,303.20 L980.81,303.15 L981.98,303.10 L983.14,303.05 L984.30,303.00 L985.47,302.94 L986.63,302.89 L987.79,302.84 L988.95,302.78 L990.12,302.73 L991.28,302.67 L992.44,302.61 L993.60,302.56 L994.77,302.50 L995.93,302.44 L997.09,302.38 L998.26,302.33 L999.42,302.27 L1000.58,302.21 L1001.74,302.16 L1002.91,302.10 L1004.07,302.05 L1005.23,302.00 L1006.40,301.95 L1007.56,301.90 L1008.72,301.86 L1009.88,301.81 L1011.05,301.77 L1012.21,301.73 L1013.37,301.70 L1014.53,301.66 L1015.70,301.63 L1016.86,301.59 L1018.02,301.57 L1019.19,301.54 L1020.35,301.51 L1021.51,301.49 L1022.67,301.47 L1023.84,301.45 L1025.00,301.43 L1026.16,301.42 L1027.33,301.40 L1028.49,301.39 L1029.65,301.38 L1030.81,301.38 L1031.98,301.37 L1033.14,301.38 L1034.30,301.39 L1035.47,301.41 L1036.63,301.42 L1037.79,301.44 L1038.95,301.45 L1040.12,301.47 L1041.28,301.49 L1042.44,301.50 L1043.60,301.52 L1044.77,301.53 L1045.93,301.55 L1047.09,301.56 L1048.26,301.57 L1049.42,301.59 L1050.58,301.60 L1051.74,301.61 L1052.91,301.62 L1054.07,301.63 L1055.23,301.63 L1056.40,301.64 L1057.56,301.64 L1058.72,301.64 L1059.88,301.65 L1061.05,301.65 L1062.21,301.65 L1063.37,301.64 L1064.53,301.64 L1065.70,301.64 L1066.86,301.64 L1068.02,301.63 L1069.19,301.62 L1070.35,301.61 L1071.51,301.60 L1072.67,301.59 L1073.84,301.57 L1075.00,301.55 L1076.16,301.53 L1077.33,301.51 L1078.49,301.49 L1079.65,301.47 L1080.81,301.44 L1081.98,301.42 L1083.14,301.39 L1084.30,301.36 L1085.47,301.33 L1086.63,301.30 L1088.14,301.26" stroke="#0000ff"/>
<path d="M77.33,301.45 L78.49,301.43 L79.65,301.42 L80.81,301.40 L81.98,301.39 L83.14,301.38 L84.30,301.38 L85.47,301.38 L86.63,301.37 L87.79,301.38 L88.95,301.38 L90.12,301.39 L91.28,301.40 L92.44,301.41 L93.60,301.43 L94.77,301.45 L95.93,301.47 L97.09,301.49 L98.26,301.52 L99.42,301.55 L100.58,301.59 L101.74,301.62 L102.91,301.66 L104.07,301.71 L105.23,301.76 L106.40,301.81 L107.56,301.86 L108.72,301.92 L109.88,301.98 L111.05,302.05 L112.21,302.12 L113.37,302.19 L114.53,302.27 L115.70,302.35 L116.86,302.43 L118.02,302.52 L119.19,302.61 L120.35,302.71 L121.51,302.81 L122.67,302.92 L123.84,303.03 L125.00,303.14 L126.16,303.26 L127.33,303.38 L128.49,303.51 L129.65,303.64 L130.81,303.78 L131.98,303.92 L133.14,304.06 L134.30,304.21 L135.47,304.37 L136.63,304.53 L137.79,304.70 L138.95,304.87 L140.12,305.04 L141.28,305.22 L142.44,305.41 L143.60,305.60 L144.77,305.79 L145.93,306.00 L147.09,306.20 L148.26,306.42 L149.42,306.63 L150.58,306.86 L151.74,307.09 L152.91,307.32 L154.07,307.56 L155.23,307.81 L156.40,308.06 L157.56,308.32 L158.72,308.58 L159.88,308.85 L161.05,309.13 L162.21,309.41 L163.37,309.70 L164.53,310.00 L165.70,310.30 L166.86,310.60 L168.02,310.92 L169.19,311.24 L170.35,311.57 L171.51,311.90 L172.67,312.24 L173.84,312.59 L175.00,312.95 L176.16,313.31 L177.33,313.68 L178.49,314.06 L179.65,314.44 L180.81,314.83 L181.98,315.23 L183.14,315.64 L184.30,316.06 L185.47,316.48 L186.63,316.91 L187.79,317.35 L188.95,317.80 L190.12,318.26 L191.28,318.73 L192.44,319.20 L193.60,319.68 L194.77,320.18 L195.93,320.68 L197.09,321.19 L198.26,321.70 L199.42,322.23 L200.58,322.77 L201.74,323.31 L202.91,323.86 L204.07,324.43 L205.23,325.00 L206.40,325.57 L207.56,326.16 L208.72,326.75 L209.88,327.36 L211.05,327.97 L212.21,328.59 L213.37,329.21 L214.53,329.80 L215.70,330.40 L216.86,331.00 L218.02,331.61 L219.19,332.23 L220.35,332.85 L221.51,333.48 L222.67,334.11 L223.84,334.75 L225.00,335.40 L226.16,336.05 L227.33,336.71 L228.49,337.38 L229.65,338.05 L230.81,338.73 L231.98,339.41 L233.14,340.10 L234.30,340.80 L235.47,341.50 L236.63,342.20 L237.79,342.92 L238.95,343.63 L240.12,344.36 L241.28,345.09 L242.44,345.82 L243.60,346.56 L244.77,347.31 L245.93,348.06 L247.09,348.82 L248.26,349.59 L249.42,350.35 L250.58,351.13 L251.74,351.91 L252.91,352.69 L254.07,353.48 L255.23,354.28 L256.40,355.08 L257.56,355.89 L258.72,356.70 L259.88,357.51 L261.05,358.33 L262.21,359.16 L263.37,359.99 L264.53,360.82 L265.70,361.66 L266.86,362.50 L268.02,363.35 L269.19,364.20 L270.35,365.05 L271.51,365.91 L272.67,366.77 L273.84,367.64 L275.00,368.50 L276.16,369.38 L277.33,370.25 L278.49,371.13 L279.65,372.01 L280.81,372.89 L281.98,373.78 L283.14,374.67 L284.30,375.56 L285.47,376.45 L286.63,377.34 L287.79,378.24 L288.95,379.14 L290.12,380.04 L291.28,380.95 L292.44,381.85 L293.60,382.76 L294.77,383.67 L295.93,384.58 L297.09,385.49 L298.26,386.41 L299.42,387.33 L300.58,388.24 L301.74,389.16 L302.91,390.08 L304.07,391.00 L305.23,391.93 L306.40,392.85 L307.56,393.77 L308.72,394.70 L309.88,395.62 L311.05,396.55 L312.21,397.47 L313.37,398.39 L314.53,399.30 L315.70,400.22 L316.86,401.13 L318.02,402.04 L319.19,402.94 L320.35,403.84 L321.51,404.74 L322.67,405.63 L323.84,406.52 L325.00,407.40 L326.16,408.27 L327.33,409.14 L328.49,410.00 L329.65,410.86 L330.81,411.71 L331.98,412.55 L333.14,413.39 L334.30,414.21 L335.47,415.04 L336.63,415.85 L337.79,416.66 L338.95,417.46 L340.12,418.25 L341.28,419.03 L342.44,419.81 L343.60,420.57 L344.77,421.33 L345.93,422.08 L347.09,422.82 L348.26,423.55 L349.42,424.28 L350.58,424.99 L351.74,425.69 L352.91,426.38 L354.07,427.07 L355.23,427.74 L356.40,428.40 L357.56,429.06 L358.72,429.70 L359.88,430.33 L361.05,430.95 L362.21,431.55 L363.37,432.15 L364.53,432.73 L365.70,433.30 L366.86,433.86 L368.02,434.41 L369.19,434.94 L370.35,435.46 L371.51,435.97 L372.67,436.46 L373.84,436.94 L375.00,437.40 L376.16,437.85 L377.33,438.28 L378.49,438.70 L379.65,439.10 L380.81,439.48 L381.98,439.85 L383.14,440.20 L384.30,440.53 L385.47,440.85 L386.63,441.14 L387.79,441.42 L388.95,441.68 L390.12,441.92 L391.28,442.15 L392.44,442.35 L393.60,442.53 L394.77,442.69 L395.93,442.83 L397.09,442.95 L398.26,443.05 L399.42,443.13 L400.58,443.18 L401.74,443.21 L402.91,443.22 L404.07,443.21 L405.23,443.18 L406.40,443.12 L407.56,443.03 L408.72,442.93 L409.88,442.80 L411.05,442.64 L412.21,442.46 L413.37,442.25 L414.53,442.02 L415.70,441.76 L416.86,441.48 L418.02,441.17 L419.19,440.84 L420.35,440.48 L421.51,440.10 L422.67,439.70 L423.84,439.27 L425.00,438.83 L426.16,438.36 L427.33,437.87 L428.49,437.36 L429.65,436.84 L430.81,436.31 L431.98,435.76 L433.14,435.19 L434.30,434.60 L435.47,434.00 L436.63,433.38 L437.79,432.74 L438.95,432.09 L440.12,431.42 L441.28,430.74 L442.44,430.04 L443.60,429.33 L444.77,428.61 L445.93,427.87 L447.09,427.12 L448.26,426.36 L449.42,425.59 L450.58,424.80 L451.74,424.00 L452.91,423.19 L454.07,422.37 L455.23,421.54 L456.40,420.71 L457.56,419.86 L458.72,419.00 L459.88,418.13 L461.05,417.26 L462.21,416.37 L463.37,415.49 L464.53,414.60 L465.70,413.70 L466.86,412.80 L468.02,411.90 L469.19,411.00 L470.35,410.10 L471.51,409.21 L472.67,408.31 L473.84,407.42 L475.00,406.54 L476.16,405.66 L477.33,404.79 L478.49,403.92 L479.65,403.07 L480.81,402.23 L481.98,401.40 L483.14,400.58 L484.30,399.78 L485.47,398.99 L486.63,398.21 L487.79,397.44 L488.95,396.68 L490.12,395.94 L491.28,395.20 L492.44,394.46 L493.60,393.74 L494.77,393.02 L495.93,392.30 L497.09,391.59 L498.26,390.88 L499.42,390.17 L500.58,389.46 L501.74,388.76 L502.91,388.06 L504.07,387.36 L505.23,386.67 L506.40,385.98 L507.56,385.29 L508.72,384.60 L509.88,383.91 L511.05,383.23 L512.21,382.55 L513.37,381.88 L514.53,381.20 L515.70,380.53 L516.86,379.86 L518.02,379.20 L519.19,378.54 L520.35,377.88 L521.51,377.22 L522.67,376.57 L523.84,375.92 L525.00,375.28 L526.16,374.63 L527.33,374.00 L528.49,373.36 L529.65,372.73 L530.81,372.10 L531.98,371.48 L533.14,370.86 L534.30,370.24 L535.47,369.63 L536.63,369.02 L537.79,368.41 L538.95,367.81 L540.12,367.21 L541.28,366.61 L542.44,366.02 L543.60,365.44 L544.77,364.85 L545.93,364.27 L547.09,363.70 L548.26,363.13 L549.42,362.56 L550.58,361.99 L551.74,361.43 L552.91,360.88 L554.07,360.33 L555.23,359.78 L556.40,359.23 L557.56,358.69 L558.72,358.16 L559.88,357.63 L561.05,357.10 L562.21,356.57 L563.37,356.05 L564.53,355.54 L565.70,355.02 L566.86,354.51 L568.02,354.01 L569.19,353.51 L570.35,353.01 L571.51,352.52 L572.67,352.03 L573.84,351.54 L575.00,351.05 L576.16,350.58 L577.33,350.10 L578.49,349.63 L579.65,349.16 L580.81,348.69 L581.98,348.23 L583.14,347.77 L584.30,347.31 L585.47,346.86 L586.63,346.41 L587.79,345.96 L588.95,345.52 L590.12,345.08 L591.28,344.64 L592.44,344.21 L593.60,343.78 L594.77,343.35 L595.93,342.93 L597.09,342.50 L598.26,342.09 L599.42,341.67 L600.58,341.26 L601.74,340.85 L602.91,340.44 L604.07,340.03 L605.23,339.63 L606.40,339.23 L607.56,338.84 L608.72,338.44 L609.88,338.05 L611.05,337.66 L612.21,337.28 L613.37,336.89 L614.53,336.51 L615.70,336.13 L616.86,335.76 L618.02,335.38 L619.19,335.01 L620.35,334.64 L621.51,334.28 L622.67,333.91 L623.84,333.55 L625.00,333.19 L626.16,332.83 L627.33,332.48 L628.49,332.13 L629.65,331.78 L630.81,331.43 L631.98,331.08 L633.14,330.74 L634.30,330.40 L635.47,330.06 L636.63,329.72 L637.79,329.39 L638.95,329.05 L640.12,328.72 L641.28,328.40 L642.44,328.07 L643.60,327.75 L644.77,327.43 L645.93,327.11 L647.09,326.79 L648.26,326.48 L649.42,326.17 L650.58,325.86 L651.74,325.55 L652.91,325.24 L654.07,324.94 L655.23,324.64 L656.40,324.34 L657.56,324.05 L658.72,323.75 L659.88,323.46 L661.05,323.17 L662.21,322.89 L663.37,322.60 L664.53,322.32 L665.70,322.04 L666.86,321.76 L668.02,321.49 L669.19,321.22 L670.35,320.94 L671.51,320.67 L672.67,320.41 L673.84,320.14 L675.00,319.88 L676.16,319.62 L677.33,319.36 L678.49,319.10 L679.65,318.84 L680.81,318.59 L681.98,318.33 L683.14,318.08 L684.30,317.83 L685.47,317.57 L686.63,317.31 L687.79,317.06 L688.95,316.81 L690.12,316.55 L691.28,316.30 L692.44,316.05 L693.60,315.81 L694.77,315.56 L695.93,315.32 L697.09,315.07 L698.26,314.83 L699.42,314.59 L700.58,314.36 L701.74,314.12 L702.91,313.88 L704.07,313.65 L705.23,313.42 L706.40,313.19 L707.56,312.96 L708.72,312.73 L709.88,312.50 L711.05,312.28 L712.21,312.05 L713.37,311.83 L714.53,311.61 L715.70,311.39 L716.86,311.17 L718.02,310.96 L719.19,310.74 L720.35,310.53 L721.51,310.32 L722.67,310.11 L723.84,309.90 L725.00,309.69 L726.16,309.49 L727.33,309.28 L728.49,309.08 L729.65,308.88 L730.81,308.68 L731.98,308.48 L733.14,308.29 L734.30,308.09 L735.47,307.90 L736.63,307.71 L737.79,307.52 L738.95,307.33 L740.12,307.14 L741.28,306.96 L742.44,306.78 L743.60,306.60 L744.77,306.42 L745.93,306.24 L747.09,306.07 L748.26,305.89 L749.42,305.72 L750.58,305.55 L751.74,305.39 L752.91,305.22 L754.07,305.06 L755.23,304.89 L756.40,304.73 L757.56,304.57 L758.72,304.42 L759.88,304.26 L761.05,304.11 L762.21,303.96 L763.37,303.81 L764.53,303.66 L765.70,303.52 L766.86,303.37 L768.02,303.23 L769.19,303.09 L770.35,302.95 L771.51,302.81 L772.67,302.68 L773.84,302.54 L775.00,302.41 L776.16,302.28 L777.33,302.15 L778.49,302.03 L779.65,301.90 L780.81,301.78 L781.98,301.66 L783.14,301.53 L784.30,301.42 L785.47,301.30 L786.63,301.18 L787.79,301.07 L788.95,300.96 L790.12,300.85 L791.28,300.74 L792.44,300.63 L793.60,300.52 L794.77,300.42 L795.93,300.32 L797.09,300.22 L798.26,300.12 L799.42,300.02 L800.58,299.93 L801.74,299.83 L802.91,299.74 L804.07,299.66 L805.23,299.57 L806.40,299.48 L807.56,299.40 L808.72,299.32 L809.88,299.25 L811.05,299.17 L812.21,299.10 L813.37,299.03 L814.53,298.96 L815.70,298.89 L816.86,298.83 L818.02,298.77 L819.19,298.70 L820.35,298.65 L821.51,298.59 L822.67,298.53 L823.84,298.47 L825.00,298.42 L826.16,298.36 L827.33,298.30 L828.49,298.25 L829.65,298.19 L830.81,298.13 L831.98,298.07 L833.14,298.01 L834.30,297.94 L835.47,297.88 L836.63,297.81 L837.79,297.74 L838.95,297.67 L840.12,297.60 L841.28,297.52 L842.44,297.45 L843.60,297.37 L844.77,297.29 L845.93,297.21 L847.09,297.12 L848.26,297.04 L849.42,296.96 L850.58,296.87 L851.74,296.79 L852.91,296.71 L854.07,296.62 L855.23,296.54 L856.40,296.45 L857.56,296.37 L858.72,296.28 L859.88,296.20 L861.05,296.12 L862.21,296.04 L863.37,295.96 L864.53,295.88 L865.70,295.81 L866.86,295.73 L868.02,295.66 L869.19,295.59 L870.35,295.52 L871.51,295.45 L872.67,295.38 L873.84,295.32 L875.00,295.26 L876.16,295.20 L877.33,295.14 L878.49,295.09 L879.65,295.04 L880.81,294.99 L881.98,294.94 L883.14,294.89 L884.30,294.85 L885.47,294.80 L886.63,294.76 L887.79,294.73 L888.95,294.69 L890.12,294.66 L891.28,294.62 L892.44,294.59 L893.60,294.56 L894.77,294.54 L895.93,294.51 L897.09,294.48 L898.26,294.46 L899.42,294.44 L900.58,294.42 L901.74,294.40 L902.91,294.38 L904.07,294.36 L905.23,294.35 L906.40,294.33 L907.56,294.32 L908.72,294.31 L909.88,294.30 L911.05,294.28 L912.21,294.27 L913.37,294.27 L914.53,294.26 L915.70,294.25 L916.86,294.24 L918.02,294.24 L919.19,294.23 L920.35,294.23 L921.51,294.22 L922.67,294.22 L923.84,294.22 L925.00,294.22 L926.16,294.22 L927.33,294.21 L928.49,294.21 L929.65,294.21 L930.81,294.21 L931.98,294.21 L933.14,294.21 L934.30,294.21 L935.47,294.21 L936.63,294.21 L937.79,294.21 L938.95,294.21 L940.12,294.21 L941.28,294.21 L942.44,294.21 L943.60,294.20 L944.77,294.20 L945.93,294.20 L947.09,294.19 L948.26,294.19 L949.42,294.19 L950.58,294.19 L951.74,294.20 L952.91,294.20 L954.07,294.20 L955.23,294.20 L956.40,294.19 L957.56,294.19 L958.72,294.20 L959.88,294.21 L961.05,294.22 L962.21,294.23 L963.37,294.24 L964.53,294.26 L965.70,294.28 L966.86,294.30 L968.02,294.32 L969.19,294.34 L970.35,294.37 L971.51,294.39 L972.67,294.42 L973.84,294.45 L975.00,294.48 L976.16,294.51 L977.33,294.55 L978.49,294.58 L979.65,294.62 L980.81,294.65 L981.98,294.69 L983.14,294.73 L984.30,294.77 L985.47,294.81 L986.63,294.85 L987.79,294.90 L988.95,294.94 L990.12,294.98 L991.28,295.03 L992.44,295.08 L993.60,295.12 L994.77,295.17 L995.93,295.22 L997.09,295.27 L998.26,295.32 L999.42,295.37 L1000.58,295.42 L1001.74,295.47 L1002.91,295.52 L1004.07,295.58 L1005.23,295.63 L1006.40,295.69 L1007.56,295.74 L1008.72,295.80 L1009.88,295.86 L1011.05,295.92 L1012.21,295.98 L1013.37,296.04 L1014.53,296.10 L1015.70,296.16 L1016.86,296.22 L1018.02,296.29 L1019.19,296.35 L1020.35,296.42 L1021.51,296.49 L1022.67,296.56 L1023.84,296.63 L1025.00,296.70 L1026.16,296.77 L1027.33,296.85 L1028.49,296.92 L1029.65,297.00 L1030.81,297.07 L1031.98,297.15 L1033.14,297.23 L1034.30,297.31 L1035.47,297.39 L1036.63,297.47 L1037.79,297.55 L1038.95,297.63 L1040.12,297.72 L1041.28,297.80 L1042.44,297.88 L1043.60,297.97 L1044.77,298.05 L1045.93,298.13 L1047.09,298.22 L1048.26,298.30 L1049.42,298.39 L1050.58,298.47 L1051.74,298.55 L1052.91,298.64 L1054.07,298.72 L1055.23,298.80 L1056.40,298.89 L1057.56,298.97 L1058.72,299.04 L1059.88,299.12 L1061.05,299.20 L1062.21,299.27 L1063.37,299.35 L1064.53,299.42 L1065.70,299.49 L1066.86,299.55 L1068.02,299.62 L1069.19,299.72 L1070.35,299.82 L1071.51,299.92 L1072.67,300.01 L1073.84,300.10 L1075.00,300.19 L1076.16,300.28 L1077.33,300.36 L1078.49,300.44 L1079.65,300.52 L1080.81,300.59 L1081.98,300.66 L1083.14,300.72 L1084.30,300.78 L1085.47,300.83 L1086.63,300.87 L1088.14,300.92" stroke="#ff00ff"/>
<path d="M79.65,301.39 L81.69,301.36 L83.72,301.34 L85.76,301.32 L87.79,301.32 L89.83,301.31 L91.86,301.32 L93.90,301.34 L95.93,301.36 M119.53,302.27 L121.57,302.41 L123.60,302.57 L125.64,302.73 L127.67,302.90 L129.71,303.09 L131.74,303.28 L133.78,303.49 L135.81,303.71 M159.42,307.22 L161.45,307.61 L163.49,308.01 L165.52,308.43 L167.56,308.87 L169.59,309.32 L171.63,309.78 L173.66,310.26 L175.70,310.76 M199.30,317.74 L201.34,318.45 L203.37,319.18 L205.41,319.92 L207.44,320.68 L209.48,321.45 L211.51,322.24 L213.55,323.04 L215.58,323.85 M239.19,334.25 L241.22,335.22 L243.26,336.20 L245.29,337.19 L247.33,338.18 L249.36,339.19 L251.40,340.21 L253.43,341.23 L255.47,342.26 M279.07,354.75 L281.10,355.86 L283.14,356.97 L285.17,358.09 L287.21,359.21 L289.24,360.34 L291.28,361.47 L293.31,362.60 L295.35,363.73 M318.95,376.85 L320.99,377.95 L323.02,379.03 L325.06,380.10 L327.09,381.16 L329.13,382.19 L331.16,383.21 L333.20,384.21 L335.23,385.19 M358.84,394.42 L360.87,395.01 L362.91,395.56 L364.94,396.07 L366.98,396.55 L369.01,396.99 L371.05,397.39 L373.08,397.75 L375.12,398.08 M398.72,398.67 L400.76,398.44 L402.79,398.15 L404.83,397.82 L406.86,397.43 L408.90,396.99 L410.93,396.50 L412.97,395.96 L415.00,395.36 M438.60,385.04 L440.64,383.94 L442.67,382.81 L444.71,381.66 L446.74,380.49 L448.78,379.29 L450.81,378.07 L452.85,376.84 L454.88,375.59 M478.49,360.55 L480.52,359.33 L482.56,358.14 L484.59,356.98 L486.63,355.86 L488.66,354.76 L490.70,353.69 L492.73,352.64 L494.77,351.61 M518.37,340.01 L520.41,339.05 L522.44,338.09 L524.48,337.15 L526.51,336.21 L528.55,335.29 L530.58,334.37 L532.62,333.47 L534.65,332.57 M558.26,323.02 L560.29,322.27 L562.33,321.53 L564.36,320.81 L566.40,320.10 L568.43,319.40 L570.47,318.71 L572.50,318.03 L574.53,317.37 M598.14,310.37 L600.17,309.82 L602.21,309.28 L604.24,308.75 L606.28,308.23 L608.31,307.72 L610.35,307.21 L612.38,306.71 L614.42,306.21 M638.02,300.92 L640.06,300.50 L642.09,300.09 L644.13,299.68 L646.16,299.28 L648.20,298.88 L650.23,298.49 L652.27,298.11 L654.30,297.73 M677.91,293.72 L679.94,293.41 L681.98,293.10 L684.01,292.80 L686.05,292.50 L688.08,292.21 L690.12,291.92 L692.15,291.64 L694.19,291.36 M717.79,288.48 L719.83,288.26 L721.86,288.05 L723.90,287.84 L725.93,287.63 L727.97,287.43 L730.00,287.23 L732.03,287.04 L734.07,286.85 M757.67,284.94 L759.71,284.80 L761.74,284.67 L763.78,284.54 L765.81,284.41 L767.85,284.28 L769.88,284.16 L771.92,284.05 L773.95,283.93 M797.56,282.90 L799.59,282.84 L801.63,282.78 L803.66,282.72 L805.70,282.66 L807.73,282.61 L809.77,282.56 L811.80,282.52 L813.84,282.48 M837.44,282.26 L839.48,282.26 L841.51,282.27 L843.55,282.28 L845.58,282.29 L847.62,282.30 L849.65,282.32 L851.69,282.34 L853.72,282.37 M877.33,282.89 L879.36,282.96 L881.40,283.02 L883.43,283.09 L885.47,283.17 L887.50,283.24 L889.53,283.32 L891.57,283.41 L893.60,283.49 M917.21,284.69 L919.24,284.81 L921.28,284.93 L923.31,285.06 L925.35,285.19 L927.38,285.32 L929.42,285.45 L931.45,285.59 L933.49,285.73 M957.09,287.54 L959.13,287.71 L961.16,287.88 L963.20,288.06 L965.23,288.24 L967.27,288.42 L969.30,288.60 L971.34,288.79 L973.37,288.97 M985.12,290.11 L987.31,290.32 L989.50,290.55 L991.69,290.77 L993.89,291.00 L996.08,291.23 L998.27,291.46 L1000.47,291.69 M1025.00,294.48 L1027.16,294.74 L1029.32,295.00 L1031.48,295.27 L1033.64,295.53 L1035.80,295.80 L1037.96,296.07 L1040.12,296.34" stroke="#008000" stroke-linecap="round"/>
<path d="M77.33,301.42 L78.49,301.40 L79.65,301.37 L80.81,301.35 L81.98,301.33 L83.14,301.31 L84.30,301.29 L85.47,301.28 L86.63,301.27 L87.79,301.26 L88.95,301.25 L90.12,301.24 L91.28,301.24 L92.44,301.24 L93.60,301.24 L94.77,301.24 L95.93,301.25 L97.09,301.26 L98.26,301.27 L99.42,301.28 L100.58,301.29 L101.74,301.31 L102.91,301.33 L104.07,301.35 L105.23,301.38 L106.40,301.41 L107.56,301.44 L108.72,301.47 L109.88,301.51 L111.05,301.54 L112.21,301.59 L113.37,301.63 L114.53,301.67 L115.70,301.72 L116.86,301.77 L118.02,301.83 L119.19,301.89 L120.35,301.95 L121.51,302.01 L122.67,302.07 L123.84,302.14 L125.00,302.21 L126.16,302.29 L127.33,302.36 L128.49,302.44 L129.65,302.52 L130.81,302.61 L131.98,302.70 L133.14,302.79 L134.30,302.88 L135.47,302.98 L136.63,303.08 L137.79,303.19 L138.95,303.29 L140.12,303.40 L141.28,303.52 L142.44,303.63 L143.60,303.75 L144.77,303.87 L145.93,304.00 L147.09,304.13 L148.26,304.26 L149.42,304.40 L150.58,304.53 L151.74,304.68 L152.91,304.82 L154.07,304.97 L155.23,305.12 L156.40,305.28 L157.56,305.44 L158.72,305.60 L159.88,305.77 L161.05,305.93 L162.21,306.11 L163.37,306.28 L164.53,306.46 L165.70,306.65 L166.86,306.83 L168.02,307.02 L169.19,307.22 L170.35,307.42 L171.51,307.62 L172.67,307.82 L173.84,308.03 L175.00,308.24 L176.16,308.46 L177.33,308.68 L178.49,308.90 L179.65,309.13 L180.81,309.36 L181.98,309.60 L183.14,309.84 L184.30,310.08 L185.47,310.33 L186.63,310.58 L187.79,310.83 L188.95,311.09 L190.12,311.36 L191.28,311.62 L192.44,311.89 L193.60,312.17 L194.77,312.45 L195.93,312.73 L197.09,313.01 L198.26,313.30 L199.42,313.60 L200.58,313.89 L201.74,314.20 L202.91,314.50 L204.07,314.81 L205.23,315.12 L206.40,315.43 L207.56,315.75 L208.72,316.07 L209.88,316.39 L211.05,316.72 L212.21,317.05 L213.37,317.38 L214.53,317.72 L215.70,318.05 L216.86,318.39 L218.02,318.74 L219.19,319.08 L220.35,319.43 L221.51,319.78 L222.67,320.14 L223.84,320.49 L225.00,320.85 L226.16,321.21 L227.33,321.57 L228.49,321.94 L229.65,322.30 L230.81,322.67 L231.98,323.04 L233.14,323.42 L234.30,323.79 L235.47,324.17 L236.63,324.54 L237.79,324.92 L238.95,325.30 L240.12,325.69 L241.28,326.07 L242.44,326.45 L243.60,326.84 L244.77,327.23 L245.93,327.62 L247.09,328.01 L248.26,328.40 L249.42,328.79 L250.58,329.18 L251.74,329.58 L252.91,329.97 L254.07,330.37 L255.23,330.76 L256.40,331.16 L257.56,331.56 L258.72,331.96 L259.88,332.36 L261.05,332.75 L262.21,333.15 L263.37,333.55 L264.53,333.95 L265.70,334.35 L266.86,334.75 L268.02,335.15 L269.19,335.55 L270.35,335.95 L271.51,336.35 L272.67,336.75 L273.84,337.15 L275.00,337.55 L276.16,337.95 L277.33,338.35 L278.49,338.75 L279.65,339.14 L280.81,339.54 L281.98,339.94 L283.14,340.33 L284.30,340.73 L285.47,341.12 L286.63,341.51 L287.79,341.90 L288.95,342.30 L290.12,342.68 L291.28,343.07 L292.44,343.46 L293.60,343.85 L294.77,344.23 L295.93,344.61 L297.09,344.99 L298.26,345.37 L299.42,345.75 L300.58,346.13 L301.74,346.50 L302.91,346.88 L304.07,347.25 L305.23,347.62 L306.40,347.99 L307.56,348.35 L308.72,348.71 L309.88,349.07 L311.05,349.43 L312.21,349.78 L313.37,350.13 L314.53,350.48 L315.70,350.82 L316.86,351.15 L318.02,351.49 L319.19,351.81 L320.35,352.14 L321.51,352.45 L322.67,352.77 L323.84,353.07 L325.00,353.37 L326.16,353.67 L327.33,353.95 L328.49,354.23 L329.65,354.51 L330.81,354.77 L331.98,355.03 L333.14,355.28 L334.30,355.53 L335.47,355.76 L336.63,355.99 L337.79,356.21 L338.95,356.42 L340.12,356.62 L341.28,356.81 L342.44,357.00 L343.60,357.17 L344.77,357.33 L345.93,357.49 L347.09,357.63 L348.26,357.76 L349.42,357.89 L350.58,358.00 L351.74,358.10 L352.91,358.19 L354.07,358.28 L355.23,358.35 L356.40,358.41 L357.56,358.46 L358.72,358.51 L359.88,358.54 L361.05,358.56 L362.21,358.57 L363.37,358.57 L364.53,358.57 L365.70,358.55 L366.86,358.52 L368.02,358.48 L369.19,358.43 L370.35,358.37 L371.51,358.31 L372.67,358.23 L373.84,358.14 L375.00,358.04 L376.16,357.93 L377.33,357.81 L378.49,357.68 L379.65,357.54 L380.81,357.40 L381.98,357.24 L383.14,357.07 L384.30,356.89 L385.47,356.70 L386.63,356.50 L387.79,356.29 L388.95,356.07 L390.12,355.84 L391.28,355.60 L392.44,355.35 L393.60,355.10 L394.77,354.83 L395.93,354.55 L397.09,354.26 L398.26,353.96 L399.42,353.65 L400.58,353.33 L401.74,353.00 L402.91,352.66 L404.07,352.31 L405.23,351.95 L406.40,351.58 L407.56,351.21 L408.72,350.81 L409.88,350.41 L411.05,350.00 L412.21,349.58 L413.37,349.15 L414.53,348.70 L415.70,348.25 L416.86,347.78 L418.02,347.30 L419.19,346.82 L420.35,346.32 L421.51,345.81 L422.67,345.30 L423.84,344.78 L425.00,344.25 L426.16,343.71 L427.33,343.17 L428.49,342.62 L429.65,342.06 L430.81,341.51 L431.98,340.94 L433.14,340.38 L434.30,339.81 L435.47,339.24 L436.63,338.66 L437.79,338.08 L438.95,337.50 L440.12,336.92 L441.28,336.33 L442.44,335.75 L443.60,335.16 L444.77,334.56 L445.93,333.97 L447.09,333.38 L448.26,332.78 L449.42,332.18 L450.58,331.58 L451.74,330.98 L452.91,330.37 L454.07,329.77 L455.23,329.16 L456.40,328.56 L457.56,327.95 L458.72,327.34 L459.88,326.73 L461.05,326.12 L462.21,325.51 L463.37,324.89 L464.53,324.28 L465.70,323.67 L466.86,323.06 L468.02,322.46 L469.19,321.85 L470.35,321.25 L471.51,320.66 L472.67,320.06 L473.84,319.47 L475.00,318.89 L476.16,318.31 L477.33,317.74 L478.49,317.18 L479.65,316.63 L480.81,316.08 L481.98,315.55 L483.14,315.02 L484.30,314.51 L485.47,314.00 L486.63,313.50 L487.79,313.02 L488.95,312.53 L490.12,312.06 L491.28,311.59 L492.44,311.12 L493.60,310.66 L494.77,310.20 L495.93,309.74 L497.09,309.28 L498.26,308.82 L499.42,308.37 L500.58,307.91 L501.74,307.45 L502.91,307.00 L504.07,306.54 L505.23,306.09 L506.40,305.63 L507.56,305.18 L508.72,304.72 L509.88,304.27 L511.05,303.82 L512.21,303.37 L513.37,302.92 L514.53,302.48 L515.70,302.03 L516.86,301.59 L518.02,301.15 L519.19,300.71 L520.35,300.27 L521.51,299.83 L522.67,299.40 L523.84,298.97 L525.00,298.54 L526.16,298.11 L527.33,297.69 L528.49,297.27 L529.65,296.85 L530.81,296.43 L531.98,296.02 L533.14,295.61 L534.30,295.21 L535.47,294.81 L536.63,294.41 L537.79,294.01 L538.95,293.62 L540.12,293.23 L541.28,292.85 L542.44,292.47 L543.60,292.09 L544.77,291.71 L545.93,291.34 L547.09,290.98 L548.26,290.62 L549.42,290.26 L550.58,289.90 L551.74,289.55 L552.91,289.21 L554.07,288.86 L555.23,288.52 L556.40,288.19 L557.56,287.86 L558.72,287.53 L559.88,287.21 L561.05,286.89 L562.21,286.58 L563.37,286.27 L564.53,285.96 L565.70,285.66 L566.86,285.36 L568.02,285.07 L569.19,284.78 L570.35,284.49 L571.51,284.21 L572.67,283.93 L573.84,283.65 L575.00,283.38 L576.16,283.11 L577.33,282.85 L578.49,282.58 L579.65,282.32 L580.81,282.07 L581.98,281.82 L583.14,281.57 L584.30,281.32 L585.47,281.08 L586.63,280.84 L587.79,280.60 L588.95,280.37 L590.12,280.13 L591.28,279.91 L592.44,279.68 L593.60,279.46 L594.77,279.24 L595.93,279.02 L597.09,278.80 L598.26,278.59 L599.42,278.38 L600.58,278.17 L601.74,277.97 L602.91,277.76 L604.07,277.56 L605.23,277.36 L606.40,277.17 L607.56,276.97 L608.72,276.78 L609.88,276.59 L611.05,276.40 L612.21,276.22 L613.37,276.03 L614.53,275.85 L615.70,275.67 L616.86,275.49 L618.02,275.31 L619.19,275.14 L620.35,274.97 L621.51,274.79 L622.67,274.62 L623.84,274.45 L625.00,274.29 L626.16,274.12 L627.33,273.96 L628.49,273.79 L629.65,273.63 L630.81,273.47 L631.98,273.32 L633.14,273.16 L634.30,273.01 L635.47,272.85 L636.63,272.70 L637.79,272.55 L638.95,272.40 L640.12,272.26 L641.28,272.11 L642.44,271.97 L643.60,271.83 L644.77,271.68 L645.93,271.55 L647.09,271.41 L648.26,271.27 L649.42,271.14 L650.58,271.01 L651.74,270.87 L652.91,270.74 L654.07,270.62 L655.23,270.49 L656.40,270.36 L657.56,270.24 L658.72,270.12 L659.88,270.00 L661.05,269.88 L662.21,269.76 L663.37,269.64 L664.53,269.53 L665.70,269.42 L666.86,269.30 L668.02,269.19 L669.19,269.08 L670.35,268.98 L671.51,268.87 L672.67,268.77 L673.84,268.66 L675.00,268.56 L676.16,268.46 L677.33,268.36 L678.49,268.26 L679.65,268.17 L680.81,268.07 L681.98,267.98 L683.14,267.89 L684.30,267.80 L685.47,267.71 L686.63,267.62 L687.79,267.54 L688.95,267.45 L690.12,267.37 L691.28,267.29 L692.44,267.21 L693.60,267.13 L694.77,267.05 L695.93,266.97 L697.09,266.90 L698.26,266.82 L699.42,266.75 L700.58,266.68 L701.74,266.61 L702.91,266.54 L704.07,266.48 L705.23,266.41 L706.40,266.35 L707.56,266.28 L708.72,266.22 L709.88,266.16 L711.05,266.10 L712.21,266.04 L713.37,265.99 L714.53,265.93 L715.70,265.88 L716.86,265.83 L718.02,265.77 L719.19,265.72 L720.35,265.68 L721.51,265.63 L722.67,265.58 L723.84,265.54 L725.00,265.49 L726.16,265.45 L727.33,265.41 L728.49,265.37 L729.65,265.33 L730.81,265.30 L731.98,265.26 L733.14,265.23 L734.30,265.19 L735.47,265.16 L736.63,265.13 L737.79,265.10 L738.95,265.07 L740.12,265.04 L741.28,265.02 L742.44,264.99 L743.60,264.97 L744.77,264.94 L745.93,264.92 L747.09,264.90 L748.26,264.88 L749.42,264.87 L750.58,264.85 L751.74,264.83 L752.91,264.82 L754.07,264.81 L755.23,264.80 L756.40,264.78 L757.56,264.78 L758.72,264.77 L759.88,264.76 L761.05,264.75 L762.21,264.75 L763.37,264.75 L764.53,264.74 L765.70,264.74 L766.86,264.74 L768.02,264.74 L769.19,264.75 L770.35,264.75 L771.51,264.75 L772.67,264.76 L773.84,264.77 L775.00,264.78 L776.16,264.79 L777.33,264.80 L778.49,264.81 L779.65,264.82 L780.81,264.84 L781.98,264.85 L783.14,264.87 L784.30,264.88 L785.47,264.90 L786.63,264.92 L787.79,264.94 L788.95,264.97 L790.12,264.99 L791.28,265.01 L792.44,265.04 L793.60,265.07 L794.77,265.10 L795.93,265.12 L797.09,265.16 L798.26,265.19 L799.42,265.22 L800.58,265.25 L801.74,265.29 L802.91,265.32 L804.07,265.36 L805.23,265.40 L806.40,265.44 L807.56,265.48 L808.72,265.52 L809.88,265.56 L811.05,265.61 L812.21,265.65 L813.37,265.70 L814.53,265.74 L815.70,265.79 L816.86,265.84 L818.02,265.89 L819.19,265.94 L820.35,266.00 L821.51,266.05 L822.67,266.11 L823.84,266.16 L825.00,266.22 L826.16,266.28 L827.33,266.34 L828.49,266.40 L829.65,266.46 L830.81,266.52 L831.98,266.58 L833.14,266.65 L834.30,266.71 L835.47,266.78 L836.63,266.85 L837.79,266.92 L838.95,266.99 L840.12,267.06 L841.28,267.13 L842.44,267.20 L843.60,267.28 L844.77,267.35 L845.93,267.43 L847.09,267.51 L848.26,267.59 L849.42,267.66 L850.58,267.75 L851.74,267.83 L852.91,267.91 L854.07,267.99 L855.23,268.08 L856.40,268.16 L857.56,268.25 L858.72,268.34 L859.88,268.43 L861.05,268.52 L862.21,268.61 L863.37,268.70 L864.53,268.79 L865.70,268.89 L866.86,268.98 L868.02,269.08 L869.19,269.18 L870.35,269.27 L871.51,269.37 L872.67,269.47 L873.84,269.57 L875.00,269.68 L876.16,269.78 L877.33,269.88 L878.49,269.99 L879.65,270.09 L880.81,270.20 L881.98,270.31 L883.14,270.42 L884.30,270.53 L885.47,270.64 L886.63,270.75 L887.79,270.86 L888.95,270.98 L890.12,271.09 L891.28,271.21 L892.44,271.33 L893.60,271.44 L894.77,271.56 L895.93,271.68 L897.09,271.80 L898.26,271.93 L899.42,272.05 L900.58,272.17 L901.74,272.30 L902.91,272.42 L904.07,272.55 L905.23,272.68 L906.40,272.81 L907.56,272.94 L908.72,273.07 L909.88,273.20 L911.05,273.33 L912.21,273.46 L913.37,273.60 L914.53,273.73 L915.70,273.87 L916.86,274.01 L918.02,274.14 L919.19,274.28 L920.35,274.42 L921.51,274.56 L922.67,274.70 L923.84,274.85 L925.00,274.99 L926.16,275.14 L927.33,275.28 L928.49,275.43 L929.65,275.57 L930.81,275.72 L931.98,275.87 L933.14,276.02 L934.30,276.17 L935.47,276.32 L936.63,276.48 L937.79,276.63 L938.95,276.79 L940.12,276.94 L941.28,277.10 L942.44,277.25 L943.60,277.41 L944.77,277.57 L945.93,277.73 L947.09,277.89 L948.26,278.05 L949.42,278.22 L950.58,278.38 L951.74,278.54 L952.91,278.71 L954.07,278.87 L955.23,279.04 L956.40,279.21 L957.56,279.38 L958.72,279.55 L959.88,279.72 L961.05,279.89 L962.21,280.06 L963.37,280.23 L964.53,280.41 L965.70,280.58 L966.86,280.76 L968.02,280.93 L969.19,281.11 L970.35,281.29 L971.51,281.47 L972.67,281.65 L973.84,281.83 L975.00,282.01 L976.16,282.19 L977.33,282.37 L978.49,282.56 L979.65,282.74 L980.81,282.93 L981.98,283.12 L983.14,283.30 L984.30,283.49 L985.47,283.68 L986.63,283.87 L987.79,284.06 L988.95,284.25 L990.12,284.44 L991.28,284.64 L992.44,284.83 L993.60,285.02 L994.77,285.22 L995.93,285.42 L997.09,285.61 L998.26,285.81 L999.42,286.01 L1000.58,286.21 L1001.74,286.41 L1002.91,286.61 L1004.07,286.81 L1005.23,287.01 L1006.40,287.22 L1007.56,287.42 L1008.72,287.63 L1009.88,287.83 L1011.05,288.04 L1012.21,288.25 L1013.37,288.45 L1014.53,288.66 L1015.70,288.87 L1016.86,289.08 L1018.02,289.29 L1019.19,289.51 L1020.35,289.72 L1021.51,289.93 L1022.67,290.15 L1023.84,290.36 L1025.00,290.58 L1026.16,290.79 L1027.33,291.01 L1028.49,291.23 L1029.65,291.45 L1030.81,291.67 L1031.98,291.89 L1033.14,292.11 L1034.30,292.33 L1035.47,292.55 L1036.63,292.78 L1037.79,293.00 L1038.95,293.23 L1040.12,293.45 L1041.28,293.68 L1042.44,293.91 L1043.60,294.13 L1044.77,294.36 L1045.93,294.59 L1047.09,294.82 L1048.26,295.05 L1049.42,295.28 L1050.58,295.52 L1051.74,295.75 L1052.91,295.98 L1054.07,296.22 L1055.23,296.45 L1056.40,296.68 L1057.56,296.91 L1058.72,297.14 L1059.88,297.37 L1061.05,297.60 L1062.21,297.82 L1063.37,298.04 L1064.53,298.26 L1065.70,298.47 L1066.86,298.68 L1068.02,298.89 L1069.19,299.09 L1070.35,299.29 L1071.51,299.48 L1072.67,299.66 L1073.84,299.84 L1075.00,300.02 L1076.16,300.18 L1077.33,300.34 L1078.49,300.49 L1079.65,300.64 L1080.81,300.77 L1081.98,300.90 L1083.14,301.02 L1084.30,301.12 L1085.47,301.22 L1086.63,301.31 L1088.14,301.39" stroke="#000080"/>
<path d="M77.33,301.41 L78.49,301.38 L79.65,301.35 L80.81,301.32 L81.98,301.30 L83.14,301.27 L84.30,301.25 L85.47,301.23 L86.63,301.21 L87.79,301.19 L88.95,301.18 L90.12,301.17 L91.28,301.16 L92.44,301.15 L93.60,301.14 L94.77,301.14 L95.93,301.14 L97.09,301.14 L98.26,301.14 L99.42,301.14 L100.58,301.15 L101.74,301.16 L102.91,301.17 L104.07,301.18 L105.23,301.19 L106.40,301.21 L107.56,301.23 L108.72,301.25 L109.88,301.27 L111.05,301.29 L112.21,301.32 L113.37,301.35 L114.53,301.38 L115.70,301.41 L116.86,301.45 L118.02,301.48 L119.19,301.52 L120.35,301.56 L121.51,301.61 L122.67,301.65 L123.84,301.70 L125.00,301.75 L126.16,301.80 L127.33,301.85 L128.49,301.91 L129.65,301.97 L130.81,302.03 L131.98,302.09 L133.14,302.15 L134.30,302.22 L135.47,302.29 L136.63,302.36 L137.79,302.43 L138.95,302.51 L140.12,302.58 L141.28,302.66 L142.44,302.74 L143.60,302.83 L144.77,302.91 L145.93,303.00 L147.09,303.09 L148.26,303.18 L149.42,303.28 L150.58,303.37 L151.74,303.47 L152.91,303.57 L154.07,303.67 L155.23,303.78 L156.40,303.89 L157.56,304.00 L158.72,304.11 L159.88,304.22 L161.05,304.34 L162.21,304.46 L163.37,304.58 L164.53,304.70 L165.70,304.82 L166.86,304.95 L168.02,305.08 L169.19,305.21 L170.35,305.35 L171.51,305.48 L172.67,305.62 L173.84,305.76 L175.00,305.90 L176.16,306.05 L177.33,306.19 L178.49,306.34 L179.65,306.49 L180.81,306.65 L181.98,306.80 L183.14,306.96 L184.30,307.12 L185.47,307.29 L186.63,307.45 L187.79,307.62 L188.95,307.79 L190.12,307.96 L191.28,308.13 L192.44,308.31 L193.60,308.49 L194.77,308.67 L195.93,308.85 L197.09,309.04 L198.26,309.22 L199.42,309.41 L200.58,309.60 L201.74,309.79 L202.91,309.99 L204.07,310.18 L205.23,310.38 L206.40,310.58 L207.56,310.78 L208.72,310.98 L209.88,311.18 L211.05,311.38 L212.21,311.59 L213.37,311.79 L214.53,312.00 L215.70,312.21 L216.86,312.42 L218.02,312.63 L219.19,312.84 L220.35,313.05 L221.51,313.26 L222.67,313.47 L223.84,313.68 L225.00,313.90 L226.16,314.11 L227.33,314.33 L228.49,314.54 L229.65,314.75 L230.81,314.97 L231.98,315.18 L233.14,315.40 L234.30,315.61 L235.47,315.83 L236.63,316.04 L237.79,316.25 L238.95,316.47 L240.12,316.68 L241.28,316.89 L242.44,317.10 L243.60,317.32 L244.77,317.53 L245.93,317.74 L247.09,317.95 L248.26,318.15 L249.42,318.36 L250.58,318.57 L251.74,318.77 L252.91,318.98 L254.07,319.18 L255.23,319.38 L256.40,319.58 L257.56,319.78 L258.72,319.98 L259.88,320.18 L261.05,320.37 L262.21,320.57 L263.37,320.76 L264.53,320.95 L265.70,321.13 L266.86,321.32 L268.02,321.50 L269.19,321.69 L270.35,321.87 L271.51,322.04 L272.67,322.22 L273.84,322.39 L275.00,322.56 L276.16,322.73 L277.33,322.90 L278.49,323.06 L279.65,323.22 L280.81,323.38 L281.98,323.54 L283.14,323.69 L284.30,323.84 L285.47,323.99 L286.63,324.13 L287.79,324.27 L288.95,324.41 L290.12,324.55 L291.28,324.68 L292.44,324.81 L293.60,324.93 L294.77,325.05 L295.93,325.17 L297.09,325.29 L298.26,325.40 L299.42,325.50 L300.58,325.61 L301.74,325.71 L302.91,325.80 L304.07,325.90 L305.23,325.98 L306.40,326.07 L307.56,326.15 L308.72,326.22 L309.88,326.29 L311.05,326.35 L312.21,326.41 L313.37,326.47 L314.53,326.52 L315.70,326.56 L316.86,326.59 L318.02,326.62 L319.19,326.65 L320.35,326.67 L321.51,326.68 L322.67,326.68 L323.84,326.68 L325.00,326.67 L326.16,326.65 L327.33,326.63 L328.49,326.59 L329.65,326.55 L330.81,326.51 L331.98,326.45 L333.14,326.39 L334.30,326.31 L335.47,326.23 L336.63,326.14 L337.79,326.04 L338.95,325.93 L340.12,325.82 L341.28,325.69 L342.44,325.55 L343.60,325.41 L344.77,325.25 L345.93,325.09 L347.09,324.91 L348.26,324.72 L349.42,324.53 L350.58,324.32 L351.74,324.11 L352.91,323.88 L354.07,323.65 L355.23,323.41 L356.40,323.16 L357.56,322.90 L358.72,322.63 L359.88,322.35 L361.05,322.07 L362.21,321.77 L363.37,321.47 L364.53,321.16 L365.70,320.84 L366.86,320.51 L368.02,320.18 L369.19,319.84 L370.35,319.49 L371.51,319.13 L372.67,318.77 L373.84,318.40 L375.00,318.02 L376.16,317.64 L377.33,317.24 L378.49,316.85 L379.65,316.44 L380.81,316.03 L381.98,315.61 L383.14,315.19 L384.30,314.76 L385.47,314.33 L386.63,313.89 L387.79,313.44 L388.95,312.99 L390.12,312.53 L391.28,312.07 L392.44,311.60 L393.60,311.13 L394.77,310.65 L395.93,310.17 L397.09,309.69 L398.26,309.20 L399.42,308.70 L400.58,308.20 L401.74,307.70 L402.91,307.19 L404.07,306.68 L405.23,306.16 L406.40,305.64 L407.56,305.12 L408.72,304.60 L409.88,304.06 L411.05,303.53 L412.21,302.99 L413.37,302.45 L414.53,301.90 L415.70,301.35 L416.86,300.79 L418.02,300.24 L419.19,299.67 L420.35,299.11 L421.51,298.54 L422.67,297.98 L423.84,297.41 L425.00,296.84 L426.16,296.27 L427.33,295.70 L428.49,295.13 L429.65,294.57 L430.81,294.00 L431.98,293.44 L433.14,292.88 L434.30,292.33 L435.47,291.78 L436.63,291.23 L437.79,290.69 L438.95,290.15 L440.12,289.61 L441.28,289.08 L442.44,288.55 L443.60,288.02 L444.77,287.50 L445.93,286.98 L447.09,286.47 L448.26,285.96 L449.42,285.45 L450.58,284.94 L451.74,284.44 L452.91,283.94 L454.07,283.45 L455.23,282.96 L456.40,282.47 L457.56,281.98 L458.72,281.50 L459.88,281.02 L461.05,280.54 L462.21,280.06 L463.37,279.59 L464.53,279.12 L465.70,278.65 L466.86,278.19 L468.02,277.73 L469.19,277.27 L470.35,276.82 L471.51,276.38 L472.67,275.93 L473.84,275.50 L475.00,275.07 L476.16,274.64 L477.33,274.22 L478.49,273.81 L479.65,273.41 L480.81,273.01 L481.98,272.62 L483.14,272.24 L484.30,271.87 L485.47,271.51 L486.63,271.15 L487.79,270.80 L488.95,270.46 L490.12,270.12 L491.28,269.78 L492.44,269.45 L493.60,269.12 L494.77,268.79 L495.93,268.46 L497.09,268.13 L498.26,267.80 L499.42,267.47 L500.58,267.13 L501.74,266.80 L502.91,266.46 L504.07,266.13 L505.23,265.79 L506.40,265.46 L507.56,265.12 L508.72,264.79 L509.88,264.45 L511.05,264.12 L512.21,263.78 L513.37,263.45 L514.53,263.11 L515.70,262.78 L516.86,262.45 L518.02,262.12 L519.19,261.79 L520.35,261.46 L521.51,261.14 L522.67,260.81 L523.84,260.49 L525.00,260.17 L526.16,259.85 L527.33,259.53 L528.49,259.22 L529.65,258.91 L530.81,258.60 L531.98,258.29 L533.14,257.99 L534.30,257.69 L535.47,257.40 L536.63,257.10 L537.79,256.81 L538.95,256.53 L540.12,256.24 L541.28,255.96 L542.44,255.69 L543.60,255.41 L544.77,255.15 L545.93,254.88 L547.09,254.62 L548.26,254.36 L549.42,254.11 L550.58,253.86 L551.74,253.61 L552.91,253.37 L554.07,253.13 L555.23,252.90 L556.40,252.67 L557.56,252.44 L558.72,252.22 L559.88,252.00 L561.05,251.79 L562.21,251.58 L563.37,251.38 L564.53,251.18 L565.70,250.98 L566.86,250.79 L568.02,250.60 L569.19,250.41 L570.35,250.23 L571.51,250.05 L572.67,249.88 L573.84,249.71 L575.00,249.54 L576.16,249.38 L577.33,249.22 L578.49,249.06 L579.65,248.91 L580.81,248.76 L581.98,248.61 L583.14,248.47 L584.30,248.32 L585.47,248.19 L586.63,248.05 L587.79,247.92 L588.95,247.79 L590.12,247.66 L591.28,247.54 L592.44,247.41 L593.60,247.30 L594.77,247.18 L595.93,247.06 L597.09,246.95 L598.26,246.84 L599.42,246.74 L600.58,246.63 L601.74,246.53 L602.91,246.43 L604.07,246.33 L605.23,246.23 L606.40,246.14 L607.56,246.04 L608.72,245.95 L609.88,245.86 L611.05,245.77 L612.21,245.69 L613.37,245.60 L614.53,245.52 L615.70,245.44 L616.86,245.36 L618.02,245.28 L619.19,245.20 L620.35,245.13 L621.51,245.05 L622.67,244.98 L623.84,244.91 L625.00,244.83 L626.16,244.76 L627.33,244.70 L628.49,244.63 L629.65,244.56 L630.81,244.50 L631.98,244.43 L633.14,244.37 L634.30,244.31 L635.47,244.25 L636.63,244.19 L637.79,244.13 L638.95,244.08 L640.12,244.02 L641.28,243.97 L642.44,243.92 L643.60,243.87 L644.77,243.82 L645.93,243.77 L647.09,243.72 L648.26,243.67 L649.42,243.63 L650.58,243.58 L651.74,243.54 L652.91,243.50 L654.07,243.46 L655.23,243.42 L656.40,243.38 L657.56,243.35 L658.72,243.31 L659.88,243.28 L661.05,243.25 L662.21,243.21 L663.37,243.18 L664.53,243.15 L665.70,243.13 L666.86,243.10 L668.02,243.07 L669.19,243.05 L670.35,243.03 L671.51,243.01 L672.67,242.98 L673.84,242.96 L675.00,242.95 L676.16,242.93 L677.33,242.91 L678.49,242.90 L679.65,242.89 L680.81,242.87 L681.98,242.86 L683.14,242.85 L684.30,242.84 L685.47,242.84 L686.63,242.83 L687.79,242.82 L688.95,242.82 L690.12,242.82 L691.28,242.81 L692.44,242.81 L693.60,242.81 L694.77,242.82 L695.93,242.82 L697.09,242.82 L698.26,242.83 L699.42,242.83 L700.58,242.84 L701.74,242.85 L702.91,242.86 L704.07,242.87 L705.23,242.88 L706.40,242.90 L707.56,242.91 L708.72,242.93 L709.88,242.94 L711.05,242.96 L712.21,242.98 L713.37,243.00 L714.53,243.02 L715.70,243.05 L716.86,243.07 L718.02,243.09 L719.19,243.12 L720.35,243.15 L721.51,243.18 L722.67,243.20 L723.84,243.23 L725.00,243.27 L726.16,243.30 L727.33,243.33 L728.49,243.37 L729.65,243.40 L730.81,243.44 L731.98,243.48 L733.14,243.52 L734.30,243.56 L735.47,243.60 L736.63,243.64 L737.79,243.69 L738.95,243.73 L740.12,243.78 L741.28,243.83 L742.44,243.87 L743.60,243.92 L744.77,243.97 L745.93,244.02 L747.09,244.08 L748.26,244.13 L749.42,244.19 L750.58,244.24 L751.74,244.30 L752.91,244.36 L754.07,244.42 L755.23,244.48 L756.40,244.54 L757.56,244.60 L758.72,244.66 L759.88,244.73 L761.05,244.80 L762.21,244.86 L763.37,244.93 L764.53,245.00 L765.70,245.07 L766.86,245.14 L768.02,245.21 L769.19,245.29 L770.35,245.36 L771.51,245.44 L772.67,245.52 L773.84,245.59 L775.00,245.67 L776.16,245.75 L777.33,245.84 L778.49,245.92 L779.65,246.00 L780.81,246.09 L781.98,246.17 L783.14,246.26 L784.30,246.35 L785.47,246.44 L786.63,246.53 L787.79,246.62 L788.95,246.71 L790.12,246.81 L791.28,246.90 L792.44,247.00 L793.60,247.09 L794.77,247.19 L795.93,247.29 L797.09,247.39 L798.26,247.49 L799.42,247.59 L800.58,247.70 L801.74,247.80 L802.91,247.91 L804.07,248.01 L805.23,248.12 L806.40,248.23 L807.56,248.34 L808.72,248.45 L809.88,248.56 L811.05,248.68 L812.21,248.79 L813.37,248.91 L814.53,249.02 L815.70,249.14 L816.86,249.26 L818.02,249.38 L819.19,249.50 L820.35,249.62 L821.51,249.74 L822.67,249.87 L823.84,249.99 L825.00,250.12 L826.16,250.25 L827.33,250.37 L828.49,250.50 L829.65,250.63 L830.81,250.77 L831.98,250.90 L833.14,251.03 L834.30,251.17 L835.47,251.30 L836.63,251.44 L837.79,251.58 L838.95,251.71 L840.12,251.85 L841.28,251.99 L842.44,252.14 L843.60,252.28 L844.77,252.42 L845.93,252.57 L847.09,252.71 L848.26,252.86 L849.42,253.01 L850.58,253.16 L851.74,253.31 L852.91,253.46 L854.07,253.61 L855.23,253.77 L856.40,253.92 L857.56,254.08 L858.72,254.23 L859.88,254.39 L861.05,254.55 L862.21,254.71 L863.37,254.87 L864.53,255.03 L865.70,255.19 L866.86,255.36 L868.02,255.52 L869.19,255.69 L870.35,255.85 L871.51,256.02 L872.67,256.19 L873.84,256.36 L875.00,256.53 L876.16,256.70 L877.33,256.87 L878.49,257.05 L879.65,257.22 L880.81,257.40 L881.98,257.58 L883.14,257.75 L884.30,257.93 L885.47,258.11 L886.63,258.29 L887.79,258.47 L888.95,258.66 L890.12,258.84 L891.28,259.03 L892.44,259.21 L893.60,259.40 L894.77,259.59 L895.93,259.78 L897.09,259.97 L898.26,260.16 L899.42,260.35 L900.58,260.54 L901.74,260.73 L902.91,260.93 L904.07,261.12 L905.23,261.32 L906.40,261.52 L907.56,261.72 L908.72,261.92 L909.88,262.12 L911.05,262.32 L912.21,262.52 L913.37,262.73 L914.53,262.93 L915.70,263.14 L916.86,263.34 L918.02,263.55 L919.19,263.76 L920.35,263.97 L921.51,264.18 L922.67,264.39 L923.84,264.60 L925.00,264.82 L926.16,265.03 L927.33,265.25 L928.49,265.46 L929.65,265.68 L930.81,265.90 L931.98,266.12 L933.14,266.34 L934.30,266.56 L935.47,266.78 L936.63,267.00 L937.79,267.23 L938.95,267.45 L940.12,267.68 L941.28,267.90 L942.44,268.13 L943.60,268.36 L944.77,268.59 L945.93,268.82 L947.09,269.05 L948.26,269.29 L949.42,269.52 L950.58,269.75 L951.74,269.99 L952.91,270.23 L954.07,270.46 L955.23,270.70 L956.40,270.94 L957.56,271.18 L958.72,271.42 L959.88,271.66 L961.05,271.91 L962.21,272.15 L963.37,272.39 L964.53,272.64 L965.70,272.89 L966.86,273.13 L968.02,273.38 L969.19,273.63 L970.35,273.88 L971.51,274.13 L972.67,274.39 L973.84,274.64 L975.00,274.89 L976.16,275.15 L977.33,275.40 L978.49,275.66 L979.65,275.92 L980.81,276.18 L981.98,276.44 L983.14,276.70 L984.30,276.96 L985.47,277.22 L986.63,277.48 L987.79,277.75 L988.95,278.01 L990.12,278.28 L991.28,278.54 L992.44,278.81 L993.60,279.08 L994.77,279.35 L995.93,279.62 L997.09,279.89 L998.26,280.16 L999.42,280.44 L1000.58,280.71 L1001.74,280.99 L1002.91,281.26 L1004.07,281.54 L1005.23,281.82 L1006.40,282.09 L1007.56,282.37 L1008.72,282.65 L1009.88,282.94 L1011.05,283.22 L1012.21,283.50 L1013.37,283.78 L1014.53,284.07 L1015.70,284.35 L1016.86,284.64 L1018.02,284.93 L1019.19,285.22 L1020.35,285.51 L1021.51,285.80 L1022.67,286.09 L1023.84,286.38 L1025.00,286.67 L1026.16,286.97 L1027.33,287.26 L1028.49,287.56 L1029.65,287.85 L1030.81,288.15 L1031.98,288.45 L1033.14,288.75 L1034.30,289.05 L1035.47,289.35 L1036.63,289.65 L1037.79,289.95 L1038.95,290.25 L1040.12,290.56 L1041.28,290.86 L1042.44,291.17 L1043.60,291.48 L1044.77,291.78 L1045.93,292.09 L1047.09,292.40 L1048.26,292.71 L1049.42,293.02 L1050.58,293.34 L1051.74,293.65 L1052.91,293.96 L1054.07,294.28 L1055.23,294.59 L1056.40,294.90 L1057.56,295.21 L1058.72,295.52 L1059.88,295.83 L1061.05,296.13 L1062.21,296.43 L1063.37,296.73 L1064.53,297.03 L1065.70,297.31 L1066.86,297.60 L1068.02,297.88 L1069.19,298.15 L1070.35,298.42 L1071.51,298.68 L1072.67,298.93 L1073.84,299.18 L1075.00,299.41 L1076.16,299.64 L1077.33,299.86 L1078.49,300.07 L1079.65,300.27 L1080.81,300.46 L1081.98,300.64 L1083.14,300.81 L1084.30,300.97 L1085.47,301.12 L1086.63,301.25 L1088.14,301.37" stroke="#8000ff"/>
<path d="M77.33,301.40 L78.49,301.36 L79.65,301.33 L80.81,301.30 L81.98,301.26 L83.14,301.23 L84.30,301.21 L85.47,301.18 L86.63,301.16 L87.79,301.13 L88.95,301.11 L90.12,301.09 L91.28,301.08 L92.44,301.06 L93.60,301.05 L94.77,301.04 L95.93,301.03 L97.09,301.02 L98.26,301.01 L99.42,301.01 L100.58,301.00 L101.74,301.00 L102.91,301.00 L104.07,301.00 L105.23,301.00 L106.40,301.01 L107.56,301.01 L108.72,301.02 L109.88,301.03 L111.05,301.04 L112.21,301.05 L113.37,301.07 L114.53,301.08 L115.70,301.10 L116.86,301.12 L118.02,301.14 L119.19,301.16 L120.35,301.18 L121.51,301.20 L122.67,301.23 L123.84,301.26 L125.00,301.28 L126.16,301.31 L127.33,301.34 L128.49,301.38 L129.65,301.41 L130.81,301.44 L131.98,301.48 L133.14,301.52 L134.30,301.55 L135.47,301.59 L136.63,301.63 L137.79,301.68 L138.95,301.72 L140.12,301.76 L141.28,301.81 L142.44,301.86 L143.60,301.90 L144.77,301.95 L145.93,302.00 L147.09,302.05 L148.26,302.10 L149.42,302.16 L150.58,302.21 L151.74,302.27 L152.91,302.32 L154.07,302.38 L155.23,302.44 L156.40,302.50 L157.56,302.56 L158.72,302.62 L159.88,302.68 L161.05,302.74 L162.21,302.81 L163.37,302.87 L164.53,302.94 L165.70,303.00 L166.86,303.07 L168.02,303.14 L169.19,303.21 L170.35,303.27 L171.51,303.35 L172.67,303.42 L173.84,303.49 L175.00,303.56 L176.16,303.63 L177.33,303.71 L178.49,303.78 L179.65,303.86 L180.81,303.93 L181.98,304.01 L183.14,304.09 L184.30,304.17 L185.47,304.24 L186.63,304.32 L187.79,304.40 L188.95,304.48 L190.12,304.56 L191.28,304.64 L192.44,304.73 L193.60,304.81 L194.77,304.89 L195.93,304.97 L197.09,305.06 L198.26,305.14 L199.42,305.22 L200.58,305.31 L201.74,305.39 L202.91,305.47 L204.07,305.56 L205.23,305.64 L206.40,305.72 L207.56,305.81 L208.72,305.89 L209.88,305.97 L211.05,306.05 L212.21,306.13 L213.37,306.21 L214.53,306.29 L215.70,306.36 L216.86,306.44 L218.02,306.52 L219.19,306.59 L220.35,306.66 L221.51,306.74 L222.67,306.81 L223.84,306.88 L225.00,306.95 L226.16,307.01 L227.33,307.08 L228.49,307.14 L229.65,307.20 L230.81,307.26 L231.98,307.32 L233.14,307.38 L234.30,307.43 L235.47,307.48 L236.63,307.54 L237.79,307.58 L238.95,307.63 L240.12,307.67 L241.28,307.71 L242.44,307.75 L243.60,307.79 L244.77,307.82 L245.93,307.85 L247.09,307.88 L248.26,307.91 L249.42,307.93 L250.58,307.95 L251.74,307.97 L252.91,307.98 L254.07,307.99 L255.23,308.00 L256.40,308.01 L257.56,308.01 L258.72,308.00 L259.88,308.00 L261.05,307.99 L262.21,307.98 L263.37,307.96 L264.53,307.94 L265.70,307.92 L266.86,307.89 L268.02,307.86 L269.19,307.82 L270.35,307.78 L271.51,307.74 L272.67,307.69 L273.84,307.63 L275.00,307.58 L276.16,307.52 L277.33,307.45 L278.49,307.38 L279.65,307.30 L280.81,307.23 L281.98,307.14 L283.14,307.05 L284.30,306.96 L285.47,306.86 L286.63,306.75 L287.79,306.64 L288.95,306.53 L290.12,306.41 L291.28,306.29 L292.44,306.15 L293.60,306.02 L294.77,305.88 L295.93,305.73 L297.09,305.58 L298.26,305.42 L299.42,305.26 L300.58,305.09 L301.74,304.91 L302.91,304.73 L304.07,304.54 L305.23,304.35 L306.40,304.15 L307.56,303.94 L308.72,303.73 L309.88,303.51 L311.05,303.28 L312.21,303.04 L313.37,302.80 L314.53,302.55 L315.70,302.30 L316.86,302.03 L318.02,301.76 L319.19,301.48 L320.35,301.19 L321.51,300.90 L322.67,300.60 L323.84,300.28 L325.00,299.97 L326.16,299.64 L327.33,299.30 L328.49,298.96 L329.65,298.60 L330.81,298.24 L331.98,297.87 L333.14,297.49 L334.30,297.10 L335.47,296.70 L336.63,296.29 L337.79,295.88 L338.95,295.45 L340.12,295.01 L341.28,294.57 L342.44,294.11 L343.60,293.65 L344.77,293.17 L345.93,292.69 L347.09,292.19 L348.26,291.68 L349.42,291.17 L350.58,290.65 L351.74,290.12 L352.91,289.57 L354.07,289.03 L355.23,288.47 L356.40,287.90 L357.56,287.33 L358.72,286.75 L359.88,286.16 L361.05,285.57 L362.21,284.97 L363.37,284.36 L364.53,283.75 L365.70,283.13 L366.86,282.51 L368.02,281.88 L369.19,281.24 L370.35,280.60 L371.51,279.96 L372.67,279.31 L373.84,278.66 L375.00,278.00 L376.16,277.34 L377.33,276.68 L378.49,276.01 L379.65,275.34 L380.81,274.67 L381.98,273.99 L383.14,273.32 L384.30,272.64 L385.47,271.96 L386.63,271.27 L387.79,270.59 L388.95,269.91 L390.12,269.22 L391.28,268.54 L392.44,267.85 L393.60,267.17 L394.77,266.48 L395.93,265.80 L397.09,265.11 L398.26,264.43 L399.42,263.75 L400.58,263.07 L401.74,262.39 L402.91,261.72 L404.07,261.04 L405.23,260.37 L406.40,259.71 L407.56,259.04 L408.72,258.38 L409.88,257.72 L411.05,257.06 L412.21,256.40 L413.37,255.75 L414.53,255.10 L415.70,254.45 L416.86,253.81 L418.02,253.17 L419.19,252.53 L420.35,251.90 L421.51,251.27 L422.67,250.65 L423.84,250.04 L425.00,249.43 L426.16,248.83 L427.33,248.23 L428.49,247.65 L429.65,247.07 L430.81,246.50 L431.98,245.94 L433.14,245.39 L434.30,244.85 L435.47,244.32 L436.63,243.80 L437.79,243.29 L438.95,242.79 L440.12,242.30 L441.28,241.82 L442.44,241.35 L443.60,240.89 L444.77,240.44 L445.93,239.99 L447.09,239.56 L448.26,239.13 L449.42,238.72 L450.58,238.31 L451.74,237.91 L452.91,237.51 L454.07,237.13 L455.23,236.75 L456.40,236.38 L457.56,236.02 L458.72,235.66 L459.88,235.31 L461.05,234.96 L462.21,234.62 L463.37,234.29 L464.53,233.96 L465.70,233.63 L466.86,233.32 L468.02,233.00 L469.19,232.70 L470.35,232.39 L471.51,232.10 L472.67,231.81 L473.84,231.52 L475.00,231.24 L476.16,230.97 L477.33,230.70 L478.49,230.44 L479.65,230.18 L480.81,229.94 L481.98,229.70 L483.14,229.46 L484.30,229.23 L485.47,229.01 L486.63,228.80 L487.79,228.59 L488.95,228.38 L490.12,228.18 L491.28,227.98 L492.44,227.78 L493.60,227.58 L494.77,227.38 L495.93,227.18 L497.09,226.98 L498.26,226.77 L499.42,226.56 L500.58,226.36 L501.74,226.14 L502.91,225.93 L504.07,225.72 L505.23,225.50 L506.40,225.29 L507.56,225.07 L508.72,224.85 L509.88,224.63 L511.05,224.41 L512.21,224.19 L513.37,223.97 L514.53,223.75 L515.70,223.53 L516.86,223.31 L518.02,223.09 L519.19,222.87 L520.35,222.66 L521.51,222.44 L522.67,222.22 L523.84,222.01 L525.00,221.80 L526.16,221.59 L527.33,221.38 L528.49,221.17 L529.65,220.97 L530.81,220.77 L531.98,220.57 L533.14,220.37 L534.30,220.18 L535.47,219.99 L536.63,219.80 L537.79,219.61 L538.95,219.43 L540.12,219.25 L541.28,219.08 L542.44,218.91 L543.60,218.74 L544.77,218.58 L545.93,218.42 L547.09,218.26 L548.26,218.11 L549.42,217.96 L550.58,217.81 L551.74,217.67 L552.91,217.53 L554.07,217.40 L555.23,217.27 L556.40,217.14 L557.56,217.02 L558.72,216.91 L559.88,216.80 L561.05,216.69 L562.21,216.58 L563.37,216.49 L564.53,216.39 L565.70,216.30 L566.86,216.21 L568.02,216.13 L569.19,216.05 L570.35,215.97 L571.51,215.90 L572.67,215.83 L573.84,215.77 L575.00,215.71 L576.16,215.65 L577.33,215.59 L578.49,215.54 L579.65,215.49 L580.81,215.45 L581.98,215.40 L583.14,215.36 L584.30,215.33 L585.47,215.29 L586.63,215.26 L587.79,215.24 L588.95,215.21 L590.12,215.19 L591.28,215.17 L592.44,215.15 L593.60,215.13 L594.77,215.12 L595.93,215.11 L597.09,215.10 L598.26,215.10 L599.42,215.09 L600.58,215.09 L601.74,215.09 L602.91,215.09 L604.07,215.09 L605.23,215.10 L606.40,215.10 L607.56,215.11 L608.72,215.12 L609.88,215.13 L611.05,215.15 L612.21,215.16 L613.37,215.17 L614.53,215.19 L615.70,215.21 L616.86,215.23 L618.02,215.25 L619.19,215.27 L620.35,215.29 L621.51,215.31 L622.67,215.33 L623.84,215.36 L625.00,215.38 L626.16,215.41 L627.33,215.43 L628.49,215.46 L629.65,215.49 L630.81,215.52 L631.98,215.55 L633.14,215.58 L634.30,215.61 L635.47,215.65 L636.63,215.68 L637.79,215.72 L638.95,215.75 L640.12,215.79 L641.28,215.83 L642.44,215.87 L643.60,215.91 L644.77,215.95 L645.93,215.99 L647.09,216.03 L648.26,216.07 L649.42,216.12 L650.58,216.16 L651.74,216.21 L652.91,216.26 L654.07,216.31 L655.23,216.35 L656.40,216.40 L657.56,216.46 L658.72,216.51 L659.88,216.56 L661.05,216.61 L662.21,216.67 L663.37,216.72 L664.53,216.78 L665.70,216.84 L666.86,216.90 L668.02,216.96 L669.19,217.02 L670.35,217.08 L671.51,217.14 L672.67,217.20 L673.84,217.27 L675.00,217.33 L676.16,217.40 L677.33,217.47 L678.49,217.53 L679.65,217.60 L680.81,217.67 L681.98,217.74 L683.14,217.81 L684.30,217.89 L685.47,217.96 L686.63,218.03 L687.79,218.11 L688.95,218.19 L690.12,218.26 L691.28,218.34 L692.44,218.42 L693.60,218.50 L694.77,218.58 L695.93,218.67 L697.09,218.75 L698.26,218.83 L699.42,218.92 L700.58,219.00 L701.74,219.09 L702.91,219.18 L704.07,219.27 L705.23,219.36 L706.40,219.45 L707.56,219.54 L708.72,219.63 L709.88,219.73 L711.05,219.82 L712.21,219.92 L713.37,220.02 L714.53,220.11 L715.70,220.21 L716.86,220.31 L718.02,220.41 L719.19,220.51 L720.35,220.62 L721.51,220.72 L722.67,220.83 L723.84,220.93 L725.00,221.04 L726.16,221.15 L727.33,221.25 L728.49,221.36 L729.65,221.47 L730.81,221.59 L731.98,221.70 L733.14,221.81 L734.30,221.93 L735.47,222.04 L736.63,222.16 L737.79,222.28 L738.95,222.39 L740.12,222.51 L741.28,222.63 L742.44,222.76 L743.60,222.88 L744.77,223.00 L745.93,223.13 L747.09,223.25 L748.26,223.38 L749.42,223.51 L750.58,223.63 L751.74,223.76 L752.91,223.89 L754.07,224.03 L755.23,224.16 L756.40,224.29 L757.56,224.43 L758.72,224.56 L759.88,224.70 L761.05,224.84 L762.21,224.98 L763.37,225.11 L764.53,225.26 L765.70,225.40 L766.86,225.54 L768.02,225.68 L769.19,225.83 L770.35,225.98 L771.51,226.12 L772.67,226.27 L773.84,226.42 L775.00,226.57 L776.16,226.72 L777.33,226.87 L778.49,227.03 L779.65,227.18 L780.81,227.34 L781.98,227.49 L783.14,227.65 L784.30,227.81 L785.47,227.97 L786.63,228.13 L787.79,228.29 L788.95,228.46 L790.12,228.62 L791.28,228.78 L792.44,228.95 L793.60,229.12 L794.77,229.29 L795.93,229.45 L797.09,229.62 L798.26,229.80 L799.42,229.97 L800.58,230.14 L801.74,230.32 L802.91,230.49 L804.07,230.67 L805.23,230.84 L806.40,231.02 L807.56,231.20 L808.72,231.38 L809.88,231.56 L811.05,231.75 L812.21,231.93 L813.37,232.12 L814.53,232.30 L815.70,232.49 L816.86,232.68 L818.02,232.87 L819.19,233.05 L820.35,233.25 L821.51,233.44 L822.67,233.63 L823.84,233.82 L825.00,234.02 L826.16,234.22 L827.33,234.41 L828.49,234.61 L829.65,234.81 L830.81,235.01 L831.98,235.21 L833.14,235.41 L834.30,235.62 L835.47,235.82 L836.63,236.03 L837.79,236.23 L838.95,236.44 L840.12,236.65 L841.28,236.86 L842.44,237.07 L843.60,237.28 L844.77,237.49 L845.93,237.71 L847.09,237.92 L848.26,238.14 L849.42,238.35 L850.58,238.57 L851.74,238.79 L852.91,239.01 L854.07,239.23 L855.23,239.45 L856.40,239.68 L857.56,239.90 L858.72,240.13 L859.88,240.35 L861.05,240.58 L862.21,240.81 L863.37,241.04 L864.53,241.27 L865.70,241.50 L866.86,241.73 L868.02,241.96 L869.19,242.20 L870.35,242.43 L871.51,242.67 L872.67,242.91 L873.84,243.14 L875.00,243.38 L876.16,243.62 L877.33,243.87 L878.49,244.11 L879.65,244.35 L880.81,244.60 L881.98,244.84 L883.14,245.09 L884.30,245.34 L885.47,245.58 L886.63,245.83 L887.79,246.08 L888.95,246.34 L890.12,246.59 L891.28,246.84 L892.44,247.10 L893.60,247.35 L894.77,247.61 L895.93,247.87 L897.09,248.13 L898.26,248.39 L899.42,248.65 L900.58,248.91 L901.74,249.17 L902.91,249.43 L904.07,249.70 L905.23,249.97 L906.40,250.23 L907.56,250.50 L908.72,250.77 L909.88,251.04 L911.05,251.31 L912.21,251.58 L913.37,251.86 L914.53,252.13 L915.70,252.40 L916.86,252.68 L918.02,252.96 L919.19,253.24 L920.35,253.52 L921.51,253.80 L922.67,254.08 L923.84,254.36 L925.00,254.64 L926.16,254.93 L927.33,255.21 L928.49,255.50 L929.65,255.78 L930.81,256.07 L931.98,256.36 L933.14,256.65 L934.30,256.94 L935.47,257.24 L936.63,257.53 L937.79,257.82 L938.95,258.12 L940.12,258.42 L941.28,258.71 L942.44,259.01 L943.60,259.31 L944.77,259.61 L945.93,259.91 L947.09,260.21 L948.26,260.52 L949.42,260.82 L950.58,261.13 L951.74,261.43 L952.91,261.74 L954.07,262.05 L955.23,262.36 L956.40,262.67 L957.56,262.98 L958.72,263.29 L959.88,263.61 L961.05,263.92 L962.21,264.24 L963.37,264.55 L964.53,264.87 L965.70,265.19 L966.86,265.51 L968.02,265.83 L969.19,266.15 L970.35,266.47 L971.51,266.80 L972.67,267.12 L973.84,267.45 L975.00,267.78 L976.16,268.10 L977.33,268.43 L978.49,268.76 L979.65,269.09 L980.81,269.42 L981.98,269.76 L983.14,270.09 L984.30,270.42 L985.47,270.76 L986.63,271.10 L987.79,271.43 L988.95,271.77 L990.12,272.11 L991.28,272.45 L992.44,272.79 L993.60,273.14 L994.77,273.48 L995.93,273.82 L997.09,274.17 L998.26,274.52 L999.42,274.86 L1000.58,275.21 L1001.74,275.56 L1002.91,275.91 L1004.07,276.27 L1005.23,276.62 L1006.40,276.97 L1007.56,277.33 L1008.72,277.68 L1009.88,278.04 L1011.05,278.40 L1012.21,278.75 L1013.37,279.11 L1014.53,279.47 L1015.70,279.84 L1016.86,280.20 L1018.02,280.56 L1019.19,280.93 L1020.35,281.29 L1021.51,281.66 L1022.67,282.03 L1023.84,282.40 L1025.00,282.77 L1026.16,283.14 L1027.33,283.51 L1028.49,283.88 L1029.65,284.26 L1030.81,284.63 L1031.98,285.01 L1033.14,285.38 L1034.30,285.76 L1035.47,286.14 L1036.63,286.52 L1037.79,286.90 L1038.95,287.28 L1040.12,287.67 L1041.28,288.05 L1042.44,288.43 L1043.60,288.82 L1044.77,289.21 L1045.93,289.60 L1047.09,289.98 L1048.26,290.37 L1049.42,290.77 L1050.58,291.16 L1051.74,291.55 L1052.91,291.94 L1054.07,292.34 L1055.23,292.73 L1056.40,293.12 L1057.56,293.51 L1058.72,293.90 L1059.88,294.29 L1061.05,294.67 L1062.21,295.05 L1063.37,295.42 L1064.53,295.79 L1065.70,296.16 L1066.86,296.51 L1068.02,296.87 L1069.19,297.21 L1070.35,297.55 L1071.51,297.88 L1072.67,298.20 L1073.84,298.51 L1075.00,298.81 L1076.16,299.10 L1077.33,299.38 L1078.49,299.65 L1079.65,299.91 L1080.81,300.16 L1081.98,300.39 L1083.14,300.61 L1084.30,300.82 L1085.47,301.01 L1086.63,301.18 L1088.14,301.34" stroke="#800080"/>
<path d="M77.33,301.39 L78.49,301.35 L79.65,301.31 L80.81,301.27 L81.98,301.23 L83.14,301.20 L84.30,301.16 L85.47,301.13 L86.63,301.10 L87.79,301.07 L88.95,301.05 L90.12,301.02 L91.28,301.00 L92.44,300.97 L93.60,300.95 L94.77,300.93 L95.93,300.91 L97.09,300.90 L98.26,300.88 L99.42,300.87 L100.58,300.86 L101.74,300.84 L102.91,300.83 L104.07,300.82 L105.23,300.82 L106.40,300.81 L107.56,300.80 L108.72,300.80 L109.88,300.79 L111.05,300.79 L112.21,300.79 L113.37,300.79 L114.53,300.79 L115.70,300.79 L116.86,300.79 L118.02,300.79 L119.19,300.80 L120.35,300.80 L121.51,300.80 L122.67,300.81 L123.84,300.81 L125.00,300.82 L126.16,300.83 L127.33,300.84 L128.49,300.84 L129.65,300.85 L130.81,300.86 L131.98,300.87 L133.14,300.88 L134.30,300.89 L135.47,300.90 L136.63,300.91 L137.79,300.92 L138.95,300.93 L140.12,300.94 L141.28,300.96 L142.44,300.97 L143.60,300.98 L144.77,300.99 L145.93,301.00 L147.09,301.01 L148.26,301.03 L149.42,301.04 L150.58,301.05 L151.74,301.06 L152.91,301.07 L154.07,301.08 L155.23,301.10 L156.40,301.11 L157.56,301.12 L158.72,301.13 L159.88,301.14 L161.05,301.15 L162.21,301.16 L163.37,301.16 L164.53,301.17 L165.70,301.18 L166.86,301.19 L168.02,301.19 L169.19,301.20 L170.35,301.20 L171.51,301.21 L172.67,301.21 L173.84,301.22 L175.00,301.22 L176.16,301.22 L177.33,301.22 L178.49,301.22 L179.65,301.22 L180.81,301.22 L181.98,301.22 L183.14,301.21 L184.30,301.21 L185.47,301.20 L186.63,301.19 L187.79,301.19 L188.95,301.18 L190.12,301.17 L191.28,301.16 L192.44,301.14 L193.60,301.13 L194.77,301.11 L195.93,301.10 L197.09,301.08 L198.26,301.06 L199.42,301.04 L200.58,301.01 L201.74,300.99 L202.91,300.96 L204.07,300.93 L205.23,300.90 L206.40,300.87 L207.56,300.83 L208.72,300.80 L209.88,300.76 L211.05,300.71 L212.21,300.67 L213.37,300.62 L214.53,300.57 L215.70,300.52 L216.86,300.46 L218.02,300.41 L219.19,300.34 L220.35,300.28 L221.51,300.21 L222.67,300.14 L223.84,300.07 L225.00,299.99 L226.16,299.91 L227.33,299.83 L228.49,299.74 L229.65,299.65 L230.81,299.56 L231.98,299.46 L233.14,299.36 L234.30,299.25 L235.47,299.14 L236.63,299.03 L237.79,298.91 L238.95,298.79 L240.12,298.67 L241.28,298.54 L242.44,298.40 L243.60,298.26 L244.77,298.12 L245.93,297.97 L247.09,297.82 L248.26,297.66 L249.42,297.50 L250.58,297.34 L251.74,297.16 L252.91,296.99 L254.07,296.81 L255.23,296.62 L256.40,296.43 L257.56,296.23 L258.72,296.03 L259.88,295.82 L261.05,295.61 L262.21,295.39 L263.37,295.16 L264.53,294.93 L265.70,294.70 L266.86,294.45 L268.02,294.21 L269.19,293.95 L270.35,293.69 L271.51,293.43 L272.67,293.15 L273.84,292.88 L275.00,292.59 L276.16,292.30 L277.33,292.00 L278.49,291.70 L279.65,291.38 L280.81,291.07 L281.98,290.74 L283.14,290.41 L284.30,290.07 L285.47,289.73 L286.63,289.37 L287.79,289.01 L288.95,288.65 L290.12,288.27 L291.28,287.89 L292.44,287.50 L293.60,287.11 L294.77,286.70 L295.93,286.29 L297.09,285.87 L298.26,285.44 L299.42,285.01 L300.58,284.56 L301.74,284.11 L302.91,283.65 L304.07,283.19 L305.23,282.71 L306.40,282.23 L307.56,281.73 L308.72,281.23 L309.88,280.72 L311.05,280.20 L312.21,279.68 L313.37,279.14 L314.53,278.59 L315.70,278.04 L316.86,277.47 L318.02,276.90 L319.19,276.32 L320.35,275.72 L321.51,275.12 L322.67,274.51 L323.84,273.89 L325.00,273.26 L326.16,272.62 L327.33,271.97 L328.49,271.32 L329.65,270.65 L330.81,269.97 L331.98,269.29 L333.14,268.59 L334.30,267.88 L335.47,267.17 L336.63,266.44 L337.79,265.71 L338.95,264.96 L340.12,264.21 L341.28,263.44 L342.44,262.67 L343.60,261.88 L344.77,261.09 L345.93,260.28 L347.09,259.47 L348.26,258.65 L349.42,257.81 L350.58,256.97 L351.74,256.12 L352.91,255.27 L354.07,254.40 L355.23,253.53 L356.40,252.65 L357.56,251.77 L358.72,250.87 L359.88,249.98 L361.05,249.08 L362.21,248.17 L363.37,247.26 L364.53,246.34 L365.70,245.42 L366.86,244.50 L368.02,243.58 L369.19,242.65 L370.35,241.72 L371.51,240.79 L372.67,239.85 L373.84,238.92 L375.00,237.98 L376.16,237.05 L377.33,236.11 L378.49,235.17 L379.65,234.24 L380.81,233.30 L381.98,232.37 L383.14,231.44 L384.30,230.51 L385.47,229.58 L386.63,228.66 L387.79,227.74 L388.95,226.82 L390.12,225.91 L391.28,225.00 L392.44,224.10 L393.60,223.20 L394.77,222.31 L395.93,221.42 L397.09,220.54 L398.26,219.67 L399.42,218.80 L400.58,217.94 L401.74,217.09 L402.91,216.25 L404.07,215.41 L405.23,214.58 L406.40,213.77 L407.56,212.96 L408.72,212.16 L409.88,211.37 L411.05,210.58 L412.21,209.81 L413.37,209.05 L414.53,208.30 L415.70,207.56 L416.86,206.82 L418.02,206.10 L419.19,205.39 L420.35,204.69 L421.51,204.00 L422.67,203.33 L423.84,202.67 L425.00,202.02 L426.16,201.38 L427.33,200.76 L428.49,200.16 L429.65,199.57 L430.81,199.00 L431.98,198.44 L433.14,197.90 L434.30,197.37 L435.47,196.86 L436.63,196.37 L437.79,195.90 L438.95,195.44 L440.12,195.00 L441.28,194.57 L442.44,194.16 L443.60,193.76 L444.77,193.38 L445.93,193.01 L447.09,192.65 L448.26,192.31 L449.42,191.99 L450.58,191.67 L451.74,191.37 L452.91,191.08 L454.07,190.81 L455.23,190.54 L456.40,190.29 L457.56,190.05 L458.72,189.82 L459.88,189.60 L461.05,189.38 L462.21,189.18 L463.37,188.98 L464.53,188.79 L465.70,188.61 L466.86,188.44 L468.02,188.28 L469.19,188.12 L470.35,187.97 L471.51,187.82 L472.67,187.68 L473.84,187.54 L475.00,187.42 L476.16,187.29 L477.33,187.18 L478.49,187.07 L479.65,186.96 L480.81,186.86 L481.98,186.77 L483.14,186.68 L484.30,186.60 L485.47,186.52 L486.63,186.45 L487.79,186.38 L488.95,186.31 L490.12,186.24 L491.28,186.17 L492.44,186.11 L493.60,186.04 L494.77,185.97 L495.93,185.90 L497.09,185.82 L498.26,185.74 L499.42,185.66 L500.58,185.58 L501.74,185.49 L502.91,185.40 L504.07,185.31 L505.23,185.21 L506.40,185.11 L507.56,185.01 L508.72,184.91 L509.88,184.81 L511.05,184.71 L512.21,184.60 L513.37,184.49 L514.53,184.39 L515.70,184.28 L516.86,184.17 L518.02,184.07 L519.19,183.96 L520.35,183.85 L521.51,183.74 L522.67,183.64 L523.84,183.53 L525.00,183.43 L526.16,183.33 L527.33,183.23 L528.49,183.13 L529.65,183.03 L530.81,182.93 L531.98,182.84 L533.14,182.75 L534.30,182.66 L535.47,182.58 L536.63,182.49 L537.79,182.42 L538.95,182.34 L540.12,182.27 L541.28,182.20 L542.44,182.13 L543.60,182.07 L544.77,182.01 L545.93,181.95 L547.09,181.90 L548.26,181.85 L549.42,181.81 L550.58,181.76 L551.74,181.73 L552.91,181.69 L554.07,181.67 L555.23,181.64 L556.40,181.62 L557.56,181.61 L558.72,181.59 L559.88,181.59 L561.05,181.59 L562.21,181.59 L563.37,181.59 L564.53,181.60 L565.70,181.62 L566.86,181.64 L568.02,181.66 L569.19,181.68 L570.35,181.71 L571.51,181.75 L572.67,181.78 L573.84,181.82 L575.00,181.87 L576.16,181.92 L577.33,181.97 L578.49,182.02 L579.65,182.08 L580.81,182.14 L581.98,182.20 L583.14,182.26 L584.30,182.33 L585.47,182.40 L586.63,182.48 L587.79,182.55 L588.95,182.63 L590.12,182.71 L591.28,182.80 L592.44,182.89 L593.60,182.97 L594.77,183.06 L595.93,183.16 L597.09,183.25 L598.26,183.35 L599.42,183.45 L600.58,183.55 L601.74,183.65 L602.91,183.75 L604.07,183.86 L605.23,183.96 L606.40,184.07 L607.56,184.18 L608.72,184.29 L609.88,184.40 L611.05,184.52 L612.21,184.63 L613.37,184.74 L614.53,184.86 L615.70,184.98 L616.86,185.09 L618.02,185.21 L619.19,185.33 L620.35,185.45 L621.51,185.57 L622.67,185.69 L623.84,185.81 L625.00,185.93 L626.16,186.05 L627.33,186.17 L628.49,186.30 L629.65,186.42 L630.81,186.54 L631.98,186.67 L633.14,186.79 L634.30,186.92 L635.47,187.05 L636.63,187.17 L637.79,187.30 L638.95,187.43 L640.12,187.56 L641.28,187.69 L642.44,187.82 L643.60,187.95 L644.77,188.08 L645.93,188.21 L647.09,188.34 L648.26,188.48 L649.42,188.61 L650.58,188.74 L651.74,188.88 L652.91,189.01 L654.07,189.15 L655.23,189.29 L656.40,189.43 L657.56,189.56 L658.72,189.70 L659.88,189.84 L661.05,189.98 L662.21,190.12 L663.37,190.26 L664.53,190.41 L665.70,190.55 L666.86,190.69 L668.02,190.84 L669.19,190.98 L670.35,191.13 L671.51,191.27 L672.67,191.42 L673.84,191.57 L675.00,191.72 L676.16,191.87 L677.33,192.02 L678.49,192.17 L679.65,192.32 L680.81,192.47 L681.98,192.62 L683.14,192.78 L684.30,192.93 L685.47,193.09 L686.63,193.24 L687.79,193.40 L688.95,193.55 L690.12,193.71 L691.28,193.87 L692.44,194.03 L693.60,194.19 L694.77,194.35 L695.93,194.51 L697.09,194.68 L698.26,194.84 L699.42,195.00 L700.58,195.17 L701.74,195.33 L702.91,195.50 L704.07,195.67 L705.23,195.83 L706.40,196.00 L707.56,196.17 L708.72,196.34 L709.88,196.51 L711.05,196.68 L712.21,196.86 L713.37,197.03 L714.53,197.20 L715.70,197.38 L716.86,197.56 L718.02,197.73 L719.19,197.91 L720.35,198.09 L721.51,198.27 L722.67,198.45 L723.84,198.63 L725.00,198.81 L726.16,198.99 L727.33,199.18 L728.49,199.36 L729.65,199.54 L730.81,199.73 L731.98,199.92 L733.14,200.11 L734.30,200.29 L735.47,200.48 L736.63,200.67 L737.79,200.86 L738.95,201.06 L740.12,201.25 L741.28,201.44 L742.44,201.64 L743.60,201.83 L744.77,202.03 L745.93,202.23 L747.09,202.43 L748.26,202.63 L749.42,202.83 L750.58,203.03 L751.74,203.23 L752.91,203.43 L754.07,203.63 L755.23,203.84 L756.40,204.05 L757.56,204.25 L758.72,204.46 L759.88,204.67 L761.05,204.88 L762.21,205.09 L763.37,205.30 L764.53,205.51 L765.70,205.73 L766.86,205.94 L768.02,206.16 L769.19,206.37 L770.35,206.59 L771.51,206.81 L772.67,207.03 L773.84,207.25 L775.00,207.47 L776.16,207.69 L777.33,207.91 L778.49,208.14 L779.65,208.36 L780.81,208.59 L781.98,208.82 L783.14,209.04 L784.30,209.27 L785.47,209.50 L786.63,209.74 L787.79,209.97 L788.95,210.20 L790.12,210.43 L791.28,210.67 L792.44,210.91 L793.60,211.14 L794.77,211.38 L795.93,211.62 L797.09,211.86 L798.26,212.10 L799.42,212.34 L800.58,212.59 L801.74,212.83 L802.91,213.07 L804.07,213.32 L805.23,213.57 L806.40,213.82 L807.56,214.06 L808.72,214.31 L809.88,214.57 L811.05,214.82 L812.21,215.07 L813.37,215.32 L814.53,215.58 L815.70,215.84 L816.86,216.09 L818.02,216.35 L819.19,216.61 L820.35,216.87 L821.51,217.13 L822.67,217.39 L823.84,217.66 L825.00,217.92 L826.16,218.19 L827.33,218.45 L828.49,218.72 L829.65,218.99 L830.81,219.26 L831.98,219.53 L833.14,219.80 L834.30,220.07 L835.47,220.34 L836.63,220.62 L837.79,220.89 L838.95,221.17 L840.12,221.45 L841.28,221.72 L842.44,222.00 L843.60,222.28 L844.77,222.56 L845.93,222.85 L847.09,223.13 L848.26,223.41 L849.42,223.70 L850.58,223.99 L851.74,224.27 L852.91,224.56 L854.07,224.85 L855.23,225.14 L856.40,225.43 L857.56,225.73 L858.72,226.02 L859.88,226.31 L861.05,226.61 L862.21,226.91 L863.37,227.20 L864.53,227.50 L865.70,227.80 L866.86,228.10 L868.02,228.41 L869.19,228.71 L870.35,229.01 L871.51,229.32 L872.67,229.62 L873.84,229.93 L875.00,230.24 L876.16,230.55 L877.33,230.86 L878.49,231.17 L879.65,231.48 L880.81,231.79 L881.98,232.11 L883.14,232.42 L884.30,232.74 L885.47,233.06 L886.63,233.37 L887.79,233.69 L888.95,234.01 L890.12,234.34 L891.28,234.66 L892.44,234.98 L893.60,235.31 L894.77,235.63 L895.93,235.96 L897.09,236.29 L898.26,236.62 L899.42,236.94 L900.58,237.28 L901.74,237.61 L902.91,237.94 L904.07,238.27 L905.23,238.61 L906.40,238.95 L907.56,239.28 L908.72,239.62 L909.88,239.96 L911.05,240.30 L912.21,240.64 L913.37,240.98 L914.53,241.33 L915.70,241.67 L916.86,242.02 L918.02,242.37 L919.19,242.71 L920.35,243.06 L921.51,243.41 L922.67,243.76 L923.84,244.11 L925.00,244.47 L926.16,244.82 L927.33,245.18 L928.49,245.53 L929.65,245.89 L930.81,246.25 L931.98,246.61 L933.14,246.97 L934.30,247.33 L935.47,247.69 L936.63,248.06 L937.79,248.42 L938.95,248.79 L940.12,249.15 L941.28,249.52 L942.44,249.89 L943.60,250.26 L944.77,250.63 L945.93,251.00 L947.09,251.38 L948.26,251.75 L949.42,252.13 L950.58,252.50 L951.74,252.88 L952.91,253.26 L954.07,253.64 L955.23,254.02 L956.40,254.40 L957.56,254.78 L958.72,255.17 L959.88,255.55 L961.05,255.94 L962.21,256.33 L963.37,256.72 L964.53,257.10 L965.70,257.50 L966.86,257.89 L968.02,258.28 L969.19,258.67 L970.35,259.07 L971.51,259.46 L972.67,259.86 L973.84,260.26 L975.00,260.66 L976.16,261.06 L977.33,261.46 L978.49,261.86 L979.65,262.27 L980.81,262.67 L981.98,263.08 L983.14,263.48 L984.30,263.89 L985.47,264.30 L986.63,264.71 L987.79,265.12 L988.95,265.53 L990.12,265.95 L991.28,266.36 L992.44,266.78 L993.60,267.19 L994.77,267.61 L995.93,268.03 L997.09,268.45 L998.26,268.87 L999.42,269.29 L1000.58,269.72 L1001.74,270.14 L1002.91,270.57 L1004.07,270.99 L1005.23,271.42 L1006.40,271.85 L1007.56,272.28 L1008.72,272.71 L1009.88,273.14 L1011.05,273.57 L1012.21,274.01 L1013.37,274.44 L1014.53,274.88 L1015.70,275.32 L1016.86,275.76 L1018.02,276.20 L1019.19,276.64 L1020.35,277.08 L1021.51,277.52 L1022.67,277.97 L1023.84,278.41 L1025.00,278.86 L1026.16,279.31 L1027.33,279.76 L1028.49,280.21 L1029.65,280.66 L1030.81,281.11 L1031.98,281.57 L1033.14,282.02 L1034.30,282.48 L1035.47,282.93 L1036.63,283.39 L1037.79,283.85 L1038.95,284.31 L1040.12,284.77 L1041.28,285.24 L1042.44,285.70 L1043.60,286.16 L1044.77,286.63 L1045.93,287.10 L1047.09,287.57 L1048.26,288.04 L1049.42,288.51 L1050.58,288.98 L1051.74,289.45 L1052.91,289.93 L1054.07,290.40 L1055.23,290.87 L1056.40,291.34 L1057.56,291.81 L1058.72,292.28 L1059.88,292.75 L1061.05,293.21 L1062.21,293.66 L1063.37,294.11 L1064.53,294.56 L1065.70,295.00 L1066.86,295.43 L1068.02,295.85 L1069.19,296.27 L1070.35,296.68 L1071.51,297.08 L1072.67,297.46 L1073.84,297.84 L1075.00,298.21 L1076.16,298.56 L1077.33,298.91 L1078.49,299.23 L1079.65,299.55 L1080.81,299.85 L1081.98,300.14 L1083.14,300.41 L1084.30,300.66 L1085.47,300.90 L1086.63,301.12 L1088.14,301.32" stroke="#800000"/>
<path d="M77.33,301.38 L78.49,301.33 L79.65,301.29 L80.81,301.24 L81.98,301.20 L83.14,301.16 L84.30,301.12 L85.47,301.08 L86.63,301.05 L87.79,301.01 L88.95,300.98 L90.12,300.95 L91.28,300.92 L92.44,300.89 L93.60,300.86 L94.77,300.83 L95.93,300.80 L97.09,300.78 L98.26,300.75 L99.42,300.73 L100.58,300.71 L101.74,300.69 L102.91,300.67 L104.07,300.65 L105.23,300.63 L106.40,300.61 L107.56,300.59 L108.72,300.57 L109.88,300.56 L111.05,300.54 L112.21,300.52 L113.37,300.51 L114.53,300.49 L115.70,300.48 L116.86,300.46 L118.02,300.45 L119.19,300.43 L120.35,300.42 L121.51,300.40 L122.67,300.39 L123.84,300.37 L125.00,300.36 L126.16,300.34 L127.33,300.33 L128.49,300.31 L129.65,300.29 L130.81,300.28 L131.98,300.26 L133.14,300.24 L134.30,300.22 L135.47,300.21 L136.63,300.19 L137.79,300.17 L138.95,300.15 L140.12,300.13 L141.28,300.10 L142.44,300.08 L143.60,300.06 L144.77,300.03 L145.93,300.00 L147.09,299.98 L148.26,299.95 L149.42,299.92 L150.58,299.89 L151.74,299.86 L152.91,299.82 L154.07,299.79 L155.23,299.75 L156.40,299.72 L157.56,299.68 L158.72,299.64 L159.88,299.59 L161.05,299.55 L162.21,299.50 L163.37,299.46 L164.53,299.41 L165.70,299.36 L166.86,299.30 L168.02,299.25 L169.19,299.19 L170.35,299.13 L171.51,299.07 L172.67,299.01 L173.84,298.94 L175.00,298.88 L176.16,298.81 L177.33,298.73 L178.49,298.66 L179.65,298.58 L180.81,298.50 L181.98,298.42 L183.14,298.34 L184.30,298.25 L185.47,298.16 L186.63,298.07 L187.79,297.97 L188.95,297.87 L190.12,297.77 L191.28,297.67 L192.44,297.56 L193.60,297.45 L194.77,297.34 L195.93,297.22 L197.09,297.10 L198.26,296.98 L199.42,296.85 L200.58,296.72 L201.74,296.59 L202.91,296.45 L204.07,296.31 L205.23,296.16 L206.40,296.01 L207.56,295.86 L208.72,295.70 L209.88,295.54 L211.05,295.38 L212.21,295.21 L213.37,295.04 L214.53,294.86 L215.70,294.67 L216.86,294.49 L218.02,294.29 L219.19,294.10 L220.35,293.90 L221.51,293.69 L222.67,293.48 L223.84,293.26 L225.00,293.04 L226.16,292.81 L227.33,292.58 L228.49,292.34 L229.65,292.10 L230.81,291.85 L231.98,291.60 L233.14,291.34 L234.30,291.08 L235.47,290.80 L236.63,290.53 L237.79,290.24 L238.95,289.96 L240.12,289.66 L241.28,289.36 L242.44,289.05 L243.60,288.74 L244.77,288.42 L245.93,288.09 L247.09,287.76 L248.26,287.42 L249.42,287.07 L250.58,286.72 L251.74,286.36 L252.91,285.99 L254.07,285.62 L255.23,285.24 L256.40,284.85 L257.56,284.45 L258.72,284.05 L259.88,283.64 L261.05,283.22 L262.21,282.80 L263.37,282.37 L264.53,281.93 L265.70,281.48 L266.86,281.02 L268.02,280.56 L269.19,280.09 L270.35,279.61 L271.51,279.12 L272.67,278.62 L273.84,278.12 L275.00,277.60 L276.16,277.08 L277.33,276.55 L278.49,276.01 L279.65,275.47 L280.81,274.91 L281.98,274.34 L283.14,273.77 L284.30,273.19 L285.47,272.60 L286.63,271.99 L287.79,271.38 L288.95,270.76 L290.12,270.14 L291.28,269.50 L292.44,268.85 L293.60,268.19 L294.77,267.53 L295.93,266.85 L297.09,266.16 L298.26,265.47 L299.42,264.76 L300.58,264.04 L301.74,263.32 L302.91,262.58 L304.07,261.83 L305.23,261.07 L306.40,260.31 L307.56,259.53 L308.72,258.74 L309.88,257.94 L311.05,257.13 L312.21,256.31 L313.37,255.47 L314.53,254.63 L315.70,253.78 L316.86,252.91 L318.02,252.04 L319.19,251.15 L320.35,250.25 L321.51,249.34 L322.67,248.43 L323.84,247.50 L325.00,246.56 L326.16,245.61 L327.33,244.65 L328.49,243.68 L329.65,242.70 L330.81,241.71 L331.98,240.70 L333.14,239.69 L334.30,238.67 L335.47,237.64 L336.63,236.59 L337.79,235.54 L338.95,234.48 L340.12,233.40 L341.28,232.32 L342.44,231.23 L343.60,230.12 L344.77,229.01 L345.93,227.88 L347.09,226.75 L348.26,225.61 L349.42,224.46 L350.58,223.30 L351.74,222.13 L352.91,220.96 L354.07,219.78 L355.23,218.59 L356.40,217.40 L357.56,216.20 L358.72,215.00 L359.88,213.79 L361.05,212.58 L362.21,211.37 L363.37,210.15 L364.53,208.94 L365.70,207.72 L366.86,206.50 L368.02,205.28 L369.19,204.05 L370.35,202.83 L371.51,201.61 L372.67,200.39 L373.84,199.18 L375.00,197.96 L376.16,196.75 L377.33,195.54 L378.49,194.34 L379.65,193.14 L380.81,191.94 L381.98,190.75 L383.14,189.56 L384.30,188.39 L385.47,187.21 L386.63,186.05 L387.79,184.89 L388.95,183.74 L390.12,182.60 L391.28,181.47 L392.44,180.35 L393.60,179.24 L394.77,178.14 L395.93,177.05 L397.09,175.97 L398.26,174.90 L399.42,173.85 L400.58,172.81 L401.74,171.79 L402.91,170.77 L404.07,169.78 L405.23,168.79 L406.40,167.83 L407.56,166.87 L408.72,165.94 L409.88,165.02 L411.05,164.11 L412.21,163.22 L413.37,162.35 L414.53,161.50 L415.70,160.66 L416.86,159.84 L418.02,159.03 L419.19,158.25 L420.35,157.48 L421.51,156.73 L422.67,156.01 L423.84,155.30 L425.00,154.61 L426.16,153.94 L427.33,153.30 L428.49,152.67 L429.65,152.07 L430.81,151.49 L431.98,150.93 L433.14,150.40 L434.30,149.89 L435.47,149.41 L436.63,148.94 L437.79,148.50 L438.95,148.08 L440.12,147.69 L441.28,147.31 L442.44,146.96 L443.60,146.63 L444.77,146.31 L445.93,146.02 L447.09,145.75 L448.26,145.49 L449.42,145.25 L450.58,145.04 L451.74,144.84 L452.91,144.65 L454.07,144.49 L455.23,144.34 L456.40,144.20 L457.56,144.08 L458.72,143.98 L459.88,143.88 L461.05,143.80 L462.21,143.74 L463.37,143.68 L464.53,143.63 L465.70,143.59 L466.86,143.57 L468.02,143.55 L469.19,143.54 L470.35,143.54 L471.51,143.54 L472.67,143.55 L473.84,143.57 L475.00,143.59 L476.16,143.62 L477.33,143.66 L478.49,143.69 L479.65,143.74 L480.81,143.79 L481.98,143.84 L483.14,143.90 L484.30,143.96 L485.47,144.03 L486.63,144.09 L487.79,144.16 L488.95,144.23 L490.12,144.30 L491.28,144.37 L492.44,144.44 L493.60,144.50 L494.77,144.56 L495.93,144.62 L497.09,144.67 L498.26,144.72 L499.42,144.76 L500.58,144.80 L501.74,144.84 L502.91,144.87 L504.07,144.89 L505.23,144.92 L506.40,144.94 L507.56,144.96 L508.72,144.98 L509.88,144.99 L511.05,145.00 L512.21,145.01 L513.37,145.02 L514.53,145.03 L515.70,145.03 L516.86,145.03 L518.02,145.04 L519.19,145.04 L520.35,145.04 L521.51,145.05 L522.67,145.05 L523.84,145.05 L525.00,145.06 L526.16,145.06 L527.33,145.07 L528.49,145.08 L529.65,145.09 L530.81,145.10 L531.98,145.11 L533.14,145.13 L534.30,145.15 L535.47,145.17 L536.63,145.19 L537.79,145.22 L538.95,145.25 L540.12,145.28 L541.28,145.31 L542.44,145.35 L543.60,145.39 L544.77,145.44 L545.93,145.49 L547.09,145.54 L548.26,145.59 L549.42,145.65 L550.58,145.72 L551.74,145.79 L552.91,145.86 L554.07,145.93 L555.23,146.01 L556.40,146.10 L557.56,146.19 L558.72,146.28 L559.88,146.38 L561.05,146.48 L562.21,146.59 L563.37,146.70 L564.53,146.82 L565.70,146.94 L566.86,147.06 L568.02,147.19 L569.19,147.32 L570.35,147.45 L571.51,147.59 L572.67,147.74 L573.84,147.88 L575.00,148.03 L576.16,148.18 L577.33,148.34 L578.49,148.50 L579.65,148.66 L580.81,148.82 L581.98,148.99 L583.14,149.16 L584.30,149.34 L585.47,149.51 L586.63,149.69 L587.79,149.87 L588.95,150.06 L590.12,150.24 L591.28,150.43 L592.44,150.62 L593.60,150.81 L594.77,151.01 L595.93,151.20 L597.09,151.40 L598.26,151.60 L599.42,151.80 L600.58,152.00 L601.74,152.21 L602.91,152.41 L604.07,152.62 L605.23,152.83 L606.40,153.04 L607.56,153.25 L608.72,153.46 L609.88,153.67 L611.05,153.89 L612.21,154.10 L613.37,154.31 L614.53,154.53 L615.70,154.75 L616.86,154.96 L618.02,155.18 L619.19,155.39 L620.35,155.61 L621.51,155.83 L622.67,156.04 L623.84,156.26 L625.00,156.48 L626.16,156.70 L627.33,156.91 L628.49,157.13 L629.65,157.35 L630.81,157.57 L631.98,157.79 L633.14,158.01 L634.30,158.22 L635.47,158.44 L636.63,158.66 L637.79,158.88 L638.95,159.10 L640.12,159.32 L641.28,159.55 L642.44,159.77 L643.60,159.99 L644.77,160.21 L645.93,160.43 L647.09,160.65 L648.26,160.88 L649.42,161.10 L650.58,161.32 L651.74,161.55 L652.91,161.77 L654.07,162.00 L655.23,162.22 L656.40,162.45 L657.56,162.67 L658.72,162.90 L659.88,163.12 L661.05,163.35 L662.21,163.58 L663.37,163.81 L664.53,164.03 L665.70,164.26 L666.86,164.49 L668.02,164.72 L669.19,164.95 L670.35,165.18 L671.51,165.41 L672.67,165.64 L673.84,165.87 L675.00,166.10 L676.16,166.34 L677.33,166.57 L678.49,166.80 L679.65,167.03 L680.81,167.27 L681.98,167.50 L683.14,167.74 L684.30,167.97 L685.47,168.21 L686.63,168.45 L687.79,168.68 L688.95,168.92 L690.12,169.16 L691.28,169.40 L692.44,169.64 L693.60,169.88 L694.77,170.12 L695.93,170.36 L697.09,170.60 L698.26,170.84 L699.42,171.09 L700.58,171.33 L701.74,171.57 L702.91,171.82 L704.07,172.06 L705.23,172.31 L706.40,172.55 L707.56,172.80 L708.72,173.05 L709.88,173.30 L711.05,173.55 L712.21,173.79 L713.37,174.04 L714.53,174.30 L715.70,174.55 L716.86,174.80 L718.02,175.05 L719.19,175.30 L720.35,175.56 L721.51,175.81 L722.67,176.07 L723.84,176.32 L725.00,176.58 L726.16,176.84 L727.33,177.10 L728.49,177.36 L729.65,177.62 L730.81,177.88 L731.98,178.14 L733.14,178.40 L734.30,178.66 L735.47,178.92 L736.63,179.19 L737.79,179.45 L738.95,179.72 L740.12,179.99 L741.28,180.25 L742.44,180.52 L743.60,180.79 L744.77,181.06 L745.93,181.33 L747.09,181.60 L748.26,181.87 L749.42,182.14 L750.58,182.42 L751.74,182.69 L752.91,182.97 L754.07,183.24 L755.23,183.52 L756.40,183.80 L757.56,184.08 L758.72,184.36 L759.88,184.64 L761.05,184.92 L762.21,185.20 L763.37,185.48 L764.53,185.77 L765.70,186.05 L766.86,186.34 L768.02,186.63 L769.19,186.91 L770.35,187.20 L771.51,187.49 L772.67,187.78 L773.84,188.07 L775.00,188.37 L776.16,188.66 L777.33,188.95 L778.49,189.25 L779.65,189.54 L780.81,189.84 L781.98,190.14 L783.14,190.44 L784.30,190.74 L785.47,191.04 L786.63,191.34 L787.79,191.64 L788.95,191.94 L790.12,192.25 L791.28,192.55 L792.44,192.86 L793.60,193.17 L794.77,193.48 L795.93,193.78 L797.09,194.09 L798.26,194.41 L799.42,194.72 L800.58,195.03 L801.74,195.34 L802.91,195.66 L804.07,195.97 L805.23,196.29 L806.40,196.61 L807.56,196.93 L808.72,197.25 L809.88,197.57 L811.05,197.89 L812.21,198.21 L813.37,198.53 L814.53,198.86 L815.70,199.18 L816.86,199.51 L818.02,199.84 L819.19,200.17 L820.35,200.49 L821.51,200.82 L822.67,201.16 L823.84,201.49 L825.00,201.82 L826.16,202.16 L827.33,202.49 L828.49,202.83 L829.65,203.16 L830.81,203.50 L831.98,203.84 L833.14,204.18 L834.30,204.52 L835.47,204.86 L836.63,205.21 L837.79,205.55 L838.95,205.89 L840.12,206.24 L841.28,206.59 L842.44,206.94 L843.60,207.28 L844.77,207.63 L845.93,207.99 L847.09,208.34 L848.26,208.69 L849.42,209.04 L850.58,209.40 L851.74,209.76 L852.91,210.11 L854.07,210.47 L855.23,210.83 L856.40,211.19 L857.56,211.55 L858.72,211.91 L859.88,212.28 L861.05,212.64 L862.21,213.01 L863.37,213.37 L864.53,213.74 L865.70,214.11 L866.86,214.48 L868.02,214.85 L869.19,215.22 L870.35,215.59 L871.51,215.96 L872.67,216.34 L873.84,216.71 L875.00,217.09 L876.16,217.47 L877.33,217.85 L878.49,218.23 L879.65,218.61 L880.81,218.99 L881.98,219.37 L883.14,219.76 L884.30,220.14 L885.47,220.53 L886.63,220.92 L887.79,221.30 L888.95,221.69 L890.12,222.08 L891.28,222.47 L892.44,222.87 L893.60,223.26 L894.77,223.65 L895.93,224.05 L897.09,224.45 L898.26,224.84 L899.42,225.24 L900.58,225.64 L901.74,226.04 L902.91,226.45 L904.07,226.85 L905.23,227.25 L906.40,227.66 L907.56,228.07 L908.72,228.47 L909.88,228.88 L911.05,229.29 L912.21,229.70 L913.37,230.11 L914.53,230.53 L915.70,230.94 L916.86,231.36 L918.02,231.77 L919.19,232.19 L920.35,232.61 L921.51,233.03 L922.67,233.45 L923.84,233.87 L925.00,234.29 L926.16,234.72 L927.33,235.14 L928.49,235.57 L929.65,235.99 L930.81,236.42 L931.98,236.85 L933.14,237.28 L934.30,237.72 L935.47,238.15 L936.63,238.58 L937.79,239.02 L938.95,239.45 L940.12,239.89 L941.28,240.33 L942.44,240.77 L943.60,241.21 L944.77,241.65 L945.93,242.09 L947.09,242.54 L948.26,242.98 L949.42,243.43 L950.58,243.88 L951.74,244.33 L952.91,244.78 L954.07,245.23 L955.23,245.68 L956.40,246.13 L957.56,246.59 L958.72,247.04 L959.88,247.50 L961.05,247.96 L962.21,248.42 L963.37,248.88 L964.53,249.34 L965.70,249.80 L966.86,250.26 L968.02,250.73 L969.19,251.19 L970.35,251.66 L971.51,252.13 L972.67,252.60 L973.84,253.07 L975.00,253.54 L976.16,254.01 L977.33,254.49 L978.49,254.96 L979.65,255.44 L980.81,255.92 L981.98,256.40 L983.14,256.88 L984.30,257.36 L985.47,257.84 L986.63,258.32 L987.79,258.81 L988.95,259.29 L990.12,259.78 L991.28,260.27 L992.44,260.76 L993.60,261.25 L994.77,261.74 L995.93,262.23 L997.09,262.73 L998.26,263.22 L999.42,263.72 L1000.58,264.22 L1001.74,264.72 L1002.91,265.22 L1004.07,265.72 L1005.23,266.22 L1006.40,266.73 L1007.56,267.23 L1008.72,267.74 L1009.88,268.24 L1011.05,268.75 L1012.21,269.26 L1013.37,269.77 L1014.53,270.29 L1015.70,270.80 L1016.86,271.32 L1018.02,271.83 L1019.19,272.35 L1020.35,272.87 L1021.51,273.39 L1022.67,273.91 L1023.84,274.43 L1025.00,274.96 L1026.16,275.48 L1027.33,276.01 L1028.49,276.53 L1029.65,277.06 L1030.81,277.59 L1031.98,278.12 L1033.14,278.66 L1034.30,279.19 L1035.47,279.73 L1036.63,280.26 L1037.79,280.80 L1038.95,281.34 L1040.12,281.88 L1041.28,282.42 L1042.44,282.96 L1043.60,283.51 L1044.77,284.05 L1045.93,284.60 L1047.09,285.15 L1048.26,285.70 L1049.42,286.25 L1050.58,286.80 L1051.74,287.35 L1052.91,287.91 L1054.07,288.46 L1055.23,289.01 L1056.40,289.56 L1057.56,290.11 L1058.72,290.66 L1059.88,291.20 L1061.05,291.74 L1062.21,292.28 L1063.37,292.80 L1064.53,293.32 L1065.70,293.84 L1066.86,294.34 L1068.02,294.84 L1069.19,295.33 L1070.35,295.81 L1071.51,296.28 L1072.67,296.73 L1073.84,297.18 L1075.00,297.61 L1076.16,298.02 L1077.33,298.43 L1078.49,298.82 L1079.65,299.19 L1080.81,299.54 L1081.98,299.88 L1083.14,300.20 L1084.30,300.51 L1085.47,300.79 L1086.63,301.05 L1088.14,301.29" stroke="#808000"/>
<path d="M77.33,301.37 L78.49,301.32 L79.65,301.27 L80.81,301.22 L81.98,301.17 L83.14,301.12 L84.30,301.08 L85.47,301.03 L86.63,300.99 L87.79,300.95 L88.95,300.91 L90.12,300.87 L91.28,300.84 L92.44,300.80 L93.60,300.76 L94.77,300.73 L95.93,300.69 L97.09,300.66 L98.26,300.63 L99.42,300.60 L100.58,300.56 L101.74,300.53 L102.91,300.50 L104.07,300.47 L105.23,300.44 L106.40,300.41 L107.56,300.38 L108.72,300.35 L109.88,300.32 L111.05,300.29 L112.21,300.26 L113.37,300.23 L114.53,300.20 L115.70,300.17 L116.86,300.13 L118.02,300.10 L119.19,300.07 L120.35,300.03 L121.51,300.00 L122.67,299.97 L123.84,299.93 L125.00,299.89 L126.16,299.86 L127.33,299.82 L128.49,299.78 L129.65,299.74 L130.81,299.69 L131.98,299.65 L133.14,299.61 L134.30,299.56 L135.47,299.51 L136.63,299.46 L137.79,299.41 L138.95,299.36 L140.12,299.31 L141.28,299.25 L142.44,299.19 L143.60,299.14 L144.77,299.07 L145.93,299.01 L147.09,298.95 L148.26,298.88 L149.42,298.81 L150.58,298.74 L151.74,298.66 L152.91,298.59 L154.07,298.51 L155.23,298.43 L156.40,298.35 L157.56,298.26 L158.72,298.18 L159.88,298.09 L161.05,298.00 L162.21,297.90 L163.37,297.81 L164.53,297.71 L165.70,297.61 L166.86,297.51 L168.02,297.40 L169.19,297.30 L170.35,297.19 L171.51,297.08 L172.67,296.97 L173.84,296.85 L175.00,296.74 L176.16,296.62 L177.33,296.50 L178.49,296.38 L179.65,296.25 L180.81,296.13 L181.98,296.00 L183.14,295.87 L184.30,295.74 L185.47,295.60 L186.63,295.46 L187.79,295.32 L188.95,295.18 L190.12,295.04 L191.28,294.89 L192.44,294.74 L193.60,294.58 L194.77,294.42 L195.93,294.25 L197.09,294.07 L198.26,293.84 L199.42,293.59 L200.58,293.34 L201.74,293.08 L202.91,292.82 L204.07,292.55 L205.23,292.27 L206.40,291.99 L207.56,291.70 L208.72,291.40 L209.88,291.10 L211.05,290.79 L212.21,290.46 L213.37,290.14 L214.53,289.80 L215.70,289.46 L216.86,289.10 L218.02,288.74 L219.19,288.37 L220.35,288.00 L221.51,287.61 L222.67,287.21 L223.84,286.81 L225.00,286.39 L226.16,285.97 L227.33,285.53 L228.49,285.09 L229.65,284.64 L230.81,284.18 L231.98,283.70 L233.14,283.22 L234.30,282.73 L235.47,282.23 L236.63,281.72 L237.79,281.20 L238.95,280.67 L240.12,280.13 L241.28,279.58 L242.44,279.02 L243.60,278.45 L244.77,277.88 L245.93,277.29 L247.09,276.70 L248.26,276.10 L249.42,275.49 L250.58,274.87 L251.74,274.25 L252.91,273.62 L254.07,272.98 L255.23,272.33 L256.40,271.68 L257.56,271.03 L258.72,270.36 L259.88,269.70 L261.05,269.03 L262.21,268.35 L263.37,267.67 L264.53,266.98 L265.70,266.29 L266.86,265.60 L268.02,264.90 L269.19,264.20 L270.35,263.49 L271.51,262.78 L272.67,262.07 L273.84,261.35 L275.00,260.63 L276.16,259.91 L277.33,259.18 L278.49,258.44 L279.65,257.70 L280.81,256.95 L281.98,256.20 L283.14,255.44 L284.30,254.68 L285.47,253.91 L286.63,253.13 L287.79,252.34 L288.95,251.54 L290.12,250.74 L291.28,249.93 L292.44,249.10 L293.60,248.27 L294.77,247.42 L295.93,246.57 L297.09,245.70 L298.26,244.82 L299.42,243.93 L300.58,243.03 L301.74,242.12 L302.91,241.19 L304.07,240.25 L305.23,239.29 L306.40,238.33 L307.56,237.34 L308.72,236.35 L309.88,235.34 L311.05,234.32 L312.21,233.28 L313.37,232.23 L314.53,231.17 L315.70,230.09 L316.86,229.00 L318.02,227.90 L319.19,226.78 L320.35,225.65 L321.51,224.51 L322.67,223.36 L323.84,222.19 L325.00,221.01 L326.16,219.82 L327.33,218.62 L328.49,217.40 L329.65,216.18 L330.81,214.94 L331.98,213.69 L333.14,212.43 L334.30,211.15 L335.47,209.87 L336.63,208.57 L337.79,207.26 L338.95,205.94 L340.12,204.61 L341.28,203.26 L342.44,201.90 L343.60,200.53 L344.77,199.14 L345.93,197.74 L347.09,196.33 L348.26,194.91 L349.42,193.47 L350.58,192.02 L351.74,190.56 L352.91,189.08 L354.07,187.60 L355.23,186.11 L356.40,184.60 L357.56,183.09 L358.72,181.57 L359.88,180.04 L361.05,178.50 L362.21,176.96 L363.37,175.41 L364.53,173.86 L365.70,172.30 L366.86,170.74 L368.02,169.18 L369.19,167.61 L370.35,166.05 L371.51,164.49 L372.67,162.93 L373.84,161.38 L375.00,159.82 L376.16,158.28 L377.33,156.74 L378.49,155.20 L379.65,153.68 L380.81,152.16 L381.98,150.65 L383.14,149.15 L384.30,147.67 L385.47,146.19 L386.63,144.73 L387.79,143.29 L388.95,141.85 L390.12,140.44 L391.28,139.03 L392.44,137.65 L393.60,136.28 L394.77,134.93 L395.93,133.60 L397.09,132.28 L398.26,130.99 L399.42,129.71 L400.58,128.46 L401.74,127.22 L402.91,126.01 L404.07,124.82 L405.23,123.66 L406.40,122.52 L407.56,121.40 L408.72,120.30 L409.88,119.23 L411.05,118.18 L412.21,117.16 L413.37,116.16 L414.53,115.19 L415.70,114.24 L416.86,113.32 L418.02,112.42 L419.19,111.55 L420.35,110.71 L421.51,109.90 L422.67,109.12 L423.84,108.36 L425.00,107.64 L426.16,106.94 L427.33,106.27 L428.49,105.64 L429.65,105.03 L430.81,104.45 L431.98,103.91 L433.14,103.39 L434.30,102.91 L435.47,102.46 L436.63,102.03 L437.79,101.64 L438.95,101.27 L440.12,100.94 L441.28,100.63 L442.44,100.34 L443.60,100.08 L444.77,99.85 L445.93,99.65 L447.09,99.46 L448.26,99.31 L449.42,99.17 L450.58,99.06 L451.74,98.97 L452.91,98.90 L454.07,98.86 L455.23,98.83 L456.40,98.83 L457.56,98.84 L458.72,98.87 L459.88,98.92 L461.05,98.98 L462.21,99.06 L463.37,99.15 L464.53,99.25 L465.70,99.37 L466.86,99.49 L468.02,99.63 L469.19,99.77 L470.35,99.93 L471.51,100.09 L472.67,100.26 L473.84,100.43 L475.00,100.61 L476.16,100.80 L477.33,100.98 L478.49,101.18 L479.65,101.37 L480.81,101.57 L481.98,101.77 L483.14,101.98 L484.30,102.18 L485.47,102.38 L486.63,102.59 L487.79,102.79 L488.95,102.99 L490.12,103.19 L491.28,103.38 L492.44,103.57 L493.60,103.76 L494.77,103.94 L495.93,104.11 L497.09,104.27 L498.26,104.43 L499.42,104.58 L500.58,104.73 L501.74,104.87 L502.91,105.00 L504.07,105.13 L505.23,105.25 L506.40,105.37 L507.56,105.48 L508.72,105.59 L509.88,105.70 L511.05,105.80 L512.21,105.90 L513.37,106.00 L514.53,106.09 L515.70,106.18 L516.86,106.27 L518.02,106.36 L519.19,106.45 L520.35,106.54 L521.51,106.62 L522.67,106.71 L523.84,106.80 L525.00,106.89 L526.16,106.98 L527.33,107.08 L528.49,107.17 L529.65,107.27 L530.81,107.37 L531.98,107.47 L533.14,107.58 L534.30,107.69 L535.47,107.81 L536.63,107.93 L537.79,108.05 L538.95,108.18 L540.12,108.31 L541.28,108.45 L542.44,108.59 L543.60,108.73 L544.77,108.89 L545.93,109.04 L547.09,109.20 L548.26,109.37 L549.42,109.54 L550.58,109.72 L551.74,109.91 L552.91,110.09 L554.07,110.29 L555.23,110.49 L556.40,110.69 L557.56,110.91 L558.72,111.12 L559.88,111.35 L561.05,111.58 L562.21,111.81 L563.37,112.05 L564.53,112.29 L565.70,112.54 L566.86,112.80 L568.02,113.06 L569.19,113.32 L570.35,113.59 L571.51,113.86 L572.67,114.13 L573.84,114.41 L575.00,114.69 L576.16,114.98 L577.33,115.27 L578.49,115.56 L579.65,115.85 L580.81,116.15 L581.98,116.45 L583.14,116.75 L584.30,117.05 L585.47,117.36 L586.63,117.67 L587.79,117.98 L588.95,118.29 L590.12,118.60 L591.28,118.92 L592.44,119.23 L593.60,119.55 L594.77,119.87 L595.93,120.18 L597.09,120.50 L598.26,120.82 L599.42,121.14 L600.58,121.46 L601.74,121.78 L602.91,122.10 L604.07,122.41 L605.23,122.73 L606.40,123.05 L607.56,123.37 L608.72,123.69 L609.88,124.00 L611.05,124.32 L612.21,124.63 L613.37,124.95 L614.53,125.26 L615.70,125.57 L616.86,125.89 L618.02,126.20 L619.19,126.50 L620.35,126.81 L621.51,127.12 L622.67,127.43 L623.84,127.73 L625.00,128.03 L626.16,128.34 L627.33,128.64 L628.49,128.94 L629.65,129.24 L630.81,129.54 L631.98,129.84 L633.14,130.13 L634.30,130.43 L635.47,130.73 L636.63,131.02 L637.79,131.32 L638.95,131.61 L640.12,131.91 L641.28,132.20 L642.44,132.49 L643.60,132.78 L644.77,133.08 L645.93,133.37 L647.09,133.66 L648.26,133.95 L649.42,134.24 L650.58,134.53 L651.74,134.82 L652.91,135.11 L654.07,135.40 L655.23,135.69 L656.40,135.98 L657.56,136.27 L658.72,136.56 L659.88,136.85 L661.05,137.14 L662.21,137.43 L663.37,137.72 L664.53,138.01 L665.70,138.31 L666.86,138.60 L668.02,138.89 L669.19,139.18 L670.35,139.48 L671.51,139.77 L672.67,140.07 L673.84,140.36 L675.00,140.66 L676.16,140.96 L677.33,141.26 L678.49,141.55 L679.65,141.85 L680.81,142.15 L681.98,142.46 L683.14,142.76 L684.30,143.06 L685.47,143.36 L686.63,143.67 L687.79,143.97 L688.95,144.28 L690.12,144.59 L691.28,144.89 L692.44,145.20 L693.60,145.51 L694.77,145.82 L695.93,146.13 L697.09,146.44 L698.26,146.76 L699.42,147.07 L700.58,147.38 L701.74,147.70 L702.91,148.01 L704.07,148.33 L705.23,148.65 L706.40,148.96 L707.56,149.28 L708.72,149.60 L709.88,149.92 L711.05,150.24 L712.21,150.56 L713.37,150.88 L714.53,151.22 L715.70,151.56 L716.86,151.89 L718.02,152.23 L719.19,152.57 L720.35,152.91 L721.51,153.25 L722.67,153.59 L723.84,153.92 L725.00,154.26 L726.16,154.60 L727.33,154.94 L728.49,155.28 L729.65,155.62 L730.81,155.97 L731.98,156.31 L733.14,156.65 L734.30,156.99 L735.47,157.33 L736.63,157.67 L737.79,158.01 L738.95,158.36 L740.12,158.70 L741.28,159.04 L742.44,159.39 L743.60,159.73 L744.77,160.07 L745.93,160.42 L747.09,160.76 L748.26,161.11 L749.42,161.46 L750.58,161.80 L751.74,162.15 L752.91,162.50 L754.07,162.85 L755.23,163.20 L756.40,163.55 L757.56,163.90 L758.72,164.25 L759.88,164.61 L761.05,164.96 L762.21,165.31 L763.37,165.67 L764.53,166.02 L765.70,166.38 L766.86,166.74 L768.02,167.10 L769.19,167.45 L770.35,167.81 L771.51,168.18 L772.67,168.54 L773.84,168.90 L775.00,169.26 L776.16,169.63 L777.33,169.99 L778.49,170.36 L779.65,170.72 L780.81,171.09 L781.98,171.46 L783.14,171.83 L784.30,172.20 L785.47,172.57 L786.63,172.94 L787.79,173.32 L788.95,173.69 L790.12,174.06 L791.28,174.44 L792.44,174.82 L793.60,175.19 L794.77,175.57 L795.93,175.95 L797.09,176.33 L798.26,176.71 L799.42,177.09 L800.58,177.47 L801.74,177.86 L802.91,178.24 L804.07,178.63 L805.23,179.01 L806.40,179.40 L807.56,179.79 L808.72,180.18 L809.88,180.57 L811.05,180.96 L812.21,181.35 L813.37,181.74 L814.53,182.14 L815.70,182.53 L816.86,182.93 L818.02,183.32 L819.19,183.72 L820.35,184.12 L821.51,184.52 L822.67,184.92 L823.84,185.32 L825.00,185.72 L826.16,186.12 L827.33,186.53 L828.49,186.93 L829.65,187.34 L830.81,187.75 L831.98,188.15 L833.14,188.56 L834.30,188.97 L835.47,189.38 L836.63,189.80 L837.79,190.21 L838.95,190.62 L840.12,191.04 L841.28,191.45 L842.44,191.87 L843.60,192.29 L844.77,192.71 L845.93,193.12 L847.09,193.55 L848.26,193.97 L849.42,194.39 L850.58,194.81 L851.74,195.24 L852.91,195.66 L854.07,196.09 L855.23,196.52 L856.40,196.95 L857.56,197.38 L858.72,197.81 L859.88,198.24 L861.05,198.67 L862.21,199.11 L863.37,199.54 L864.53,199.98 L865.70,200.41 L866.86,200.85 L868.02,201.29 L869.19,201.73 L870.35,202.17 L871.51,202.61 L872.67,203.06 L873.84,203.50 L875.00,203.95 L876.16,204.39 L877.33,204.84 L878.49,205.29 L879.65,205.74 L880.81,206.19 L881.98,206.64 L883.14,207.09 L884.30,207.55 L885.47,208.00 L886.63,208.46 L887.79,208.91 L888.95,209.37 L890.12,209.83 L891.28,210.29 L892.44,210.75 L893.60,211.21 L894.77,211.68 L895.93,212.14 L897.09,212.61 L898.26,213.07 L899.42,213.54 L900.58,214.01 L901.74,214.48 L902.91,214.95 L904.07,215.42 L905.23,215.90 L906.40,216.37 L907.56,216.85 L908.72,217.32 L909.88,217.80 L911.05,218.28 L912.21,218.76 L913.37,219.24 L914.53,219.73 L915.70,220.21 L916.86,220.69 L918.02,221.18 L919.19,221.67 L920.35,222.15 L921.51,222.64 L922.67,223.13 L923.84,223.63 L925.00,224.12 L926.16,224.61 L927.33,225.11 L928.49,225.60 L929.65,226.10 L930.81,226.60 L931.98,227.10 L933.14,227.60 L934.30,228.10 L935.47,228.60 L936.63,229.11 L937.79,229.61 L938.95,230.12 L940.12,230.63 L941.28,231.14 L942.44,231.65 L943.60,232.16 L944.77,232.67 L945.93,233.18 L947.09,233.70 L948.26,234.22 L949.42,234.73 L950.58,235.25 L951.74,235.77 L952.91,236.29 L954.07,236.81 L955.23,237.34 L956.40,237.86 L957.56,238.39 L958.72,238.92 L959.88,239.44 L961.05,239.97 L962.21,240.50 L963.37,241.04 L964.53,241.57 L965.70,242.10 L966.86,242.64 L968.02,243.18 L969.19,243.71 L970.35,244.25 L971.51,244.79 L972.67,245.34 L973.84,245.88 L975.00,246.42 L976.16,246.97 L977.33,247.52 L978.49,248.06 L979.65,248.61 L980.81,249.16 L981.98,249.72 L983.14,250.27 L984.30,250.82 L985.47,251.38 L986.63,251.94 L987.79,252.49 L988.95,253.05 L990.12,253.61 L991.28,254.18 L992.44,254.74 L993.60,255.30 L994.77,255.87 L995.93,256.44 L997.09,257.01 L998.26,257.58 L999.42,258.15 L1000.58,258.72 L1001.74,259.29 L1002.91,259.87 L1004.07,260.45 L1005.23,261.02 L1006.40,261.60 L1007.56,262.18 L1008.72,262.76 L1009.88,263.35 L1011.05,263.93 L1012.21,264.52 L1013.37,265.10 L1014.53,265.69 L1015.70,266.28 L1016.86,266.87 L1018.02,267.47 L1019.19,268.06 L1020.35,268.66 L1021.51,269.25 L1022.67,269.85 L1023.84,270.45 L1025.00,271.05 L1026.16,271.65 L1027.33,272.26 L1028.49,272.86 L1029.65,273.47 L1030.81,274.07 L1031.98,274.68 L1033.14,275.29 L1034.30,275.91 L1035.47,276.52 L1036.63,277.13 L1037.79,277.75 L1038.95,278.37 L1040.12,278.99 L1041.28,279.61 L1042.44,280.23 L1043.60,280.85 L1044.77,281.48 L1045.93,282.10 L1047.09,282.73 L1048.26,283.36 L1049.42,283.99 L1050.58,284.62 L1051.74,285.25 L1052.91,285.89 L1054.07,286.52 L1055.23,287.15 L1056.40,287.79 L1057.56,288.41 L1058.72,289.04 L1059.88,289.66 L1061.05,290.28 L1062.21,290.89 L1063.37,291.49 L1064.53,292.09 L1065.70,292.68 L1066.86,293.26 L1068.02,293.83 L1069.19,294.39 L1070.35,294.94 L1071.51,295.48 L1072.67,296.00 L1073.84,296.51 L1075.00,297.00 L1076.16,297.49 L1077.33,297.95 L1078.49,298.40 L1079.65,298.83 L1080.81,299.24 L1081.98,299.63 L1083.14,300.00 L1084.30,300.35 L1085.47,300.68 L1086.63,300.99 L1088.14,301.27" stroke="#2b5ea8"/>
<path d="M77.33,301.36 L78.49,301.30 L79.65,301.24 L80.81,301.19 L81.98,301.14 L83.14,301.08 L84.30,301.03 L85.47,300.99 L86.63,300.94 L87.79,300.89 L88.95,300.84 L90.12,300.80 L91.28,300.75 L92.44,300.71 L93.60,300.67 L94.77,300.63 L95.93,300.58 L97.09,300.54 L98.26,300.50 L99.42,300.46 L100.58,300.42 L101.74,300.38 L102.91,300.33 L104.07,300.29 L105.23,300.25 L106.40,300.21 L107.56,300.17 L108.72,300.12 L109.88,300.08 L111.05,300.04 L112.21,299.99 L113.37,299.95 L114.53,299.90 L115.70,299.85 L116.86,299.81 L118.02,299.76 L119.19,299.70 L120.35,299.65 L121.51,299.60 L122.67,299.54 L123.84,299.49 L125.00,299.43 L126.16,299.37 L127.33,299.31 L128.49,299.24 L129.65,299.18 L130.81,299.11 L131.98,299.04 L133.14,298.97 L134.30,298.90 L135.47,298.82 L136.63,298.74 L137.79,298.66 L138.95,298.57 L140.12,298.49 L141.28,298.40 L142.44,298.30 L143.60,298.21 L144.77,298.11 L145.93,298.01 L147.09,297.90 L148.26,297.79 L149.42,297.68 L150.58,297.57 L151.74,297.45 L152.91,297.32 L154.07,297.20 L155.23,297.07 L156.40,296.93 L157.56,296.80 L158.72,296.65 L159.88,296.51 L161.05,296.36 L162.21,296.20 L163.37,296.04 L164.53,295.88 L165.70,295.71 L166.86,295.54 L168.02,295.36 L169.19,295.18 L170.35,294.99 L171.51,294.80 L172.67,294.60 L173.84,294.40 L175.00,294.19 L176.16,293.98 L177.33,293.76 L178.49,293.54 L179.65,293.31 L180.81,293.07 L181.98,292.83 L183.14,292.59 L184.30,292.33 L185.47,292.08 L186.63,291.81 L187.79,291.54 L188.95,291.26 L190.12,290.98 L191.28,290.69 L192.44,290.39 L193.60,290.09 L194.77,289.78 L195.93,289.47 L197.09,289.14 L198.26,288.81 L199.42,288.48 L200.58,288.13 L201.74,287.78 L202.91,287.42 L204.07,287.06 L205.23,286.69 L206.40,286.31 L207.56,285.92 L208.72,285.52 L209.88,285.12 L211.05,284.71 L212.21,284.29 L213.37,283.86 L214.53,283.43 L215.70,282.98 L216.86,282.53 L218.02,282.07 L219.19,281.61 L220.35,281.13 L221.51,280.64 L222.67,280.15 L223.84,279.65 L225.00,279.14 L226.16,278.62 L227.33,278.09 L228.49,277.55 L229.65,277.00 L230.81,276.44 L231.98,275.88 L233.14,275.30 L234.30,274.72 L235.47,274.12 L236.63,273.52 L237.79,272.91 L238.95,272.28 L240.12,271.65 L241.28,271.01 L242.44,270.35 L243.60,269.69 L244.77,269.01 L245.93,268.33 L247.09,267.64 L248.26,266.93 L249.42,266.21 L250.58,265.49 L251.74,264.75 L252.91,264.00 L254.07,263.24 L255.23,262.47 L256.40,261.69 L257.56,260.90 L258.72,260.10 L259.88,259.28 L261.05,258.46 L262.21,257.62 L263.37,256.77 L264.53,255.91 L265.70,255.04 L266.86,254.15 L268.02,253.26 L269.19,252.35 L270.35,251.43 L271.51,250.50 L272.67,249.55 L273.84,248.60 L275.00,247.63 L276.16,246.65 L277.33,245.65 L278.49,244.65 L279.65,243.63 L280.81,242.59 L281.98,241.55 L283.14,240.49 L284.30,239.42 L285.47,238.33 L286.63,237.24 L287.79,236.12 L288.95,235.00 L290.12,233.86 L291.28,232.71 L292.44,231.55 L293.60,230.37 L294.77,229.17 L295.93,227.97 L297.09,226.75 L298.26,225.51 L299.42,224.26 L300.58,223.00 L301.74,221.72 L302.91,220.43 L304.07,219.12 L305.23,217.80 L306.40,216.47 L307.56,215.12 L308.72,213.75 L309.88,212.37 L311.05,210.98 L312.21,209.57 L313.37,208.14 L314.53,206.71 L315.70,205.26 L316.86,203.79 L318.02,202.31 L319.19,200.82 L320.35,199.31 L321.51,197.79 L322.67,196.26 L323.84,194.71 L325.00,193.15 L326.16,191.58 L327.33,190.00 L328.49,188.40 L329.65,186.79 L330.81,185.17 L331.98,183.54 L333.14,181.90 L334.30,180.24 L335.47,178.57 L336.63,176.89 L337.79,175.20 L338.95,173.50 L340.12,171.79 L341.28,170.07 L342.44,168.34 L343.60,166.60 L344.77,164.84 L345.93,163.08 L347.09,161.31 L348.26,159.53 L349.42,157.74 L350.58,155.95 L351.74,154.14 L352.91,152.34 L354.07,150.52 L355.23,148.71 L356.40,146.89 L357.56,145.07 L358.72,143.24 L359.88,141.42 L361.05,139.59 L362.21,137.77 L363.37,135.94 L364.53,134.12 L365.70,132.30 L366.86,130.48 L368.02,128.67 L369.19,126.86 L370.35,125.06 L371.51,123.27 L372.67,121.48 L373.84,119.70 L375.00,117.92 L376.16,116.16 L377.33,114.41 L378.49,112.66 L379.65,110.93 L380.81,109.21 L381.98,107.51 L383.14,105.81 L384.30,104.13 L385.47,102.47 L386.63,100.82 L387.79,99.19 L388.95,97.58 L390.12,95.98 L391.28,94.40 L392.44,92.85 L393.60,91.31 L394.77,89.79 L395.93,88.30 L397.09,86.83 L398.26,85.38 L399.42,83.95 L400.58,82.55 L401.74,81.18 L402.91,79.83 L404.07,78.51 L405.23,77.21 L406.40,75.95 L407.56,74.71 L408.72,73.50 L409.88,72.32 L411.05,71.17 L412.21,70.04 L413.37,68.95 L414.53,67.89 L415.70,66.86 L416.86,65.87 L418.02,64.90 L419.19,63.97 L420.35,63.06 L421.51,62.20 L422.67,61.36 L423.84,60.56 L425.00,59.79 L426.16,59.06 L427.33,58.36 L428.49,57.70 L429.65,57.07 L430.81,56.48 L431.98,55.93 L433.14,55.41 L434.30,54.93 L435.47,54.49 L436.63,54.08 L437.79,53.71 L438.95,53.38 L440.12,53.07 L441.28,52.80 L442.44,52.57 L443.60,52.36 L444.77,52.19 L445.93,52.04 L447.09,51.93 L448.26,51.85 L449.42,51.79 L450.58,51.76 L451.74,51.77 L452.91,51.79 L454.07,51.85 L455.23,51.92 L456.40,52.03 L457.56,52.15 L458.72,52.30 L459.88,52.46 L461.05,52.65 L462.21,52.85 L463.37,53.07 L464.53,53.31 L465.70,53.56 L466.86,53.82 L468.02,54.09 L469.19,54.38 L470.35,54.68 L471.51,54.98 L472.67,55.30 L473.84,55.62 L475.00,55.94 L476.16,56.27 L477.33,56.61 L478.49,56.95 L479.65,57.29 L480.81,57.64 L481.98,57.99 L483.14,58.34 L484.30,58.69 L485.47,59.04 L486.63,59.39 L487.79,59.74 L488.95,60.08 L490.12,60.42 L491.28,60.76 L492.44,61.09 L493.60,61.42 L494.77,61.74 L495.93,62.06 L497.09,62.36 L498.26,62.66 L499.42,62.96 L500.58,63.25 L501.74,63.53 L502.91,63.80 L504.07,64.07 L505.23,64.34 L506.40,64.60 L507.56,64.85 L508.72,65.10 L509.88,65.35 L511.05,65.59 L512.21,65.83 L513.37,66.07 L514.53,66.30 L515.70,66.53 L516.86,66.76 L518.02,66.99 L519.19,67.21 L520.35,67.43 L521.51,67.66 L522.67,67.88 L523.84,68.10 L525.00,68.32 L526.16,68.54 L527.33,68.76 L528.49,68.98 L529.65,69.21 L530.81,69.43 L531.98,69.66 L533.14,69.89 L534.30,70.12 L535.47,70.35 L536.63,70.58 L537.79,70.82 L538.95,71.06 L540.12,71.30 L541.28,71.55 L542.44,71.79 L543.60,72.05 L544.77,72.30 L545.93,72.56 L547.09,72.82 L548.26,73.08 L549.42,73.35 L550.58,73.63 L551.74,73.90 L552.91,74.18 L554.07,74.47 L555.23,74.76 L556.40,75.05 L557.56,75.35 L558.72,75.66 L559.88,75.96 L561.05,76.28 L562.21,76.60 L563.37,76.92 L564.53,77.24 L565.70,77.57 L566.86,77.91 L568.02,78.25 L569.19,78.59 L570.35,78.94 L571.51,79.29 L572.67,79.64 L573.84,80.00 L575.00,80.36 L576.16,80.72 L577.33,81.09 L578.49,81.46 L579.65,81.83 L580.81,82.20 L581.98,82.58 L583.14,82.96 L584.30,83.35 L585.47,83.73 L586.63,84.12 L587.79,84.51 L588.95,84.90 L590.12,85.30 L591.28,85.69 L592.44,86.09 L593.60,86.49 L594.77,86.89 L595.93,87.30 L597.09,87.70 L598.26,88.11 L599.42,88.51 L600.58,88.92 L601.74,89.33 L602.91,89.74 L604.07,90.15 L605.23,90.56 L606.40,90.97 L607.56,91.39 L608.72,91.80 L609.88,92.21 L611.05,92.63 L612.21,93.04 L613.37,93.46 L614.53,93.87 L615.70,94.28 L616.86,94.70 L618.02,95.11 L619.19,95.52 L620.35,95.93 L621.51,96.34 L622.67,96.75 L623.84,97.16 L625.00,97.57 L626.16,97.98 L627.33,98.39 L628.49,98.80 L629.65,99.21 L630.81,99.61 L631.98,100.02 L633.14,100.43 L634.30,100.83 L635.47,101.24 L636.63,101.65 L637.79,102.05 L638.95,102.45 L640.12,102.86 L641.28,103.26 L642.44,103.67 L643.60,104.07 L644.77,104.47 L645.93,104.88 L647.09,105.28 L648.26,105.68 L649.42,106.08 L650.58,106.48 L651.74,106.88 L652.91,107.29 L654.07,107.69 L655.23,108.09 L656.40,108.49 L657.56,108.89 L658.72,109.29 L659.88,109.69 L661.05,110.09 L662.21,110.49 L663.37,110.89 L664.53,111.29 L665.70,111.68 L666.86,112.08 L668.02,112.48 L669.19,112.88 L670.35,113.28 L671.51,113.68 L672.67,114.08 L673.84,114.48 L675.00,114.87 L676.16,115.27 L677.33,115.67 L678.49,116.07 L679.65,116.47 L680.81,116.87 L681.98,117.27 L683.14,117.66 L684.30,118.06 L685.47,118.46 L686.63,118.86 L687.79,119.26 L688.95,119.66 L690.12,120.06 L691.28,120.46 L692.44,120.85 L693.60,121.25 L694.77,121.65 L695.93,122.05 L697.09,122.45 L698.26,122.85 L699.42,123.25 L700.58,123.65 L701.74,124.05 L702.91,124.46 L704.07,124.86 L705.23,125.26 L706.40,125.66 L707.56,126.06 L708.72,126.46 L709.88,126.86 L711.05,127.27 L712.21,127.67 L713.37,128.07 L714.53,128.48 L715.70,128.88 L716.86,129.29 L718.02,129.69 L719.19,130.09 L720.35,130.50 L721.51,130.91 L722.67,131.31 L723.84,131.72 L725.00,132.12 L726.16,132.53 L727.33,132.94 L728.49,133.35 L729.65,133.76 L730.81,134.17 L731.98,134.58 L733.14,134.99 L734.30,135.40 L735.47,135.81 L736.63,136.22 L737.79,136.63 L738.95,137.04 L740.12,137.46 L741.28,137.87 L742.44,138.28 L743.60,138.70 L744.77,139.12 L745.93,139.53 L747.09,139.95 L748.26,140.37 L749.42,140.78 L750.58,141.20 L751.74,141.62 L752.91,142.04 L754.07,142.46 L755.23,142.88 L756.40,143.31 L757.56,143.73 L758.72,144.15 L759.88,144.58 L761.05,145.00 L762.21,145.43 L763.37,145.85 L764.53,146.28 L765.70,146.71 L766.86,147.14 L768.02,147.57 L769.19,148.00 L770.35,148.43 L771.51,148.86 L772.67,149.29 L773.84,149.73 L775.00,150.16 L776.16,150.60 L777.33,151.03 L778.49,151.47 L779.65,151.91 L780.81,152.34 L781.98,152.78 L783.14,153.22 L784.30,153.66 L785.47,154.10 L786.63,154.55 L787.79,154.99 L788.95,155.43 L790.12,155.88 L791.28,156.32 L792.44,156.77 L793.60,157.22 L794.77,157.67 L795.93,158.11 L797.09,158.56 L798.26,159.01 L799.42,159.47 L800.58,159.92 L801.74,160.37 L802.91,160.83 L804.07,161.28 L805.23,161.74 L806.40,162.19 L807.56,162.65 L808.72,163.11 L809.88,163.57 L811.05,164.03 L812.21,164.49 L813.37,164.95 L814.53,165.42 L815.70,165.88 L816.86,166.34 L818.02,166.81 L819.19,167.28 L820.35,167.74 L821.51,168.21 L822.67,168.68 L823.84,169.15 L825.00,169.62 L826.16,170.09 L827.33,170.57 L828.49,171.04 L829.65,171.52 L830.81,171.99 L831.98,172.47 L833.14,172.95 L834.30,173.42 L835.47,173.90 L836.63,174.38 L837.79,174.87 L838.95,175.35 L840.12,175.83 L841.28,176.32 L842.44,176.80 L843.60,177.29 L844.77,177.78 L845.93,178.26 L847.09,178.75 L848.26,179.24 L849.42,179.73 L850.58,180.23 L851.74,180.72 L852.91,181.21 L854.07,181.71 L855.23,182.21 L856.40,182.70 L857.56,183.20 L858.72,183.70 L859.88,184.20 L861.05,184.70 L862.21,185.20 L863.37,185.71 L864.53,186.21 L865.70,186.72 L866.86,187.22 L868.02,187.73 L869.19,188.24 L870.35,188.75 L871.51,189.26 L872.67,189.77 L873.84,190.29 L875.00,190.80 L876.16,191.31 L877.33,191.83 L878.49,192.35 L879.65,192.87 L880.81,193.38 L881.98,193.90 L883.14,194.43 L884.30,194.95 L885.47,195.47 L886.63,196.00 L887.79,196.52 L888.95,197.05 L890.12,197.58 L891.28,198.11 L892.44,198.64 L893.60,199.17 L894.77,199.70 L895.93,200.23 L897.09,200.77 L898.26,201.30 L899.42,201.84 L900.58,202.38 L901.74,202.92 L902.91,203.46 L904.07,204.00 L905.23,204.54 L906.40,205.09 L907.56,205.63 L908.72,206.18 L909.88,206.72 L911.05,207.27 L912.21,207.82 L913.37,208.37 L914.53,208.92 L915.70,209.48 L916.86,210.03 L918.02,210.59 L919.19,211.14 L920.35,211.70 L921.51,212.26 L922.67,212.82 L923.84,213.38 L925.00,213.94 L926.16,214.51 L927.33,215.07 L928.49,215.64 L929.65,216.21 L930.81,216.77 L931.98,217.34 L933.14,217.91 L934.30,218.49 L935.47,219.06 L936.63,219.63 L937.79,220.21 L938.95,220.79 L940.12,221.37 L941.28,221.95 L942.44,222.53 L943.60,223.11 L944.77,223.69 L945.93,224.28 L947.09,224.86 L948.26,225.45 L949.42,226.04 L950.58,226.63 L951.74,227.22 L952.91,227.81 L954.07,228.40 L955.23,229.00 L956.40,229.59 L957.56,230.19 L958.72,230.79 L959.88,231.39 L961.05,231.99 L962.21,232.59 L963.37,233.20 L964.53,233.80 L965.70,234.41 L966.86,235.02 L968.02,235.62 L969.19,236.23 L970.35,236.85 L971.51,237.46 L972.67,238.07 L973.84,238.69 L975.00,239.31 L976.16,239.92 L977.33,240.54 L978.49,241.16 L979.65,241.79 L980.81,242.41 L981.98,243.04 L983.14,243.66 L984.30,244.29 L985.47,244.92 L986.63,245.55 L987.79,246.18 L988.95,246.81 L990.12,247.45 L991.28,248.08 L992.44,248.72 L993.60,249.36 L994.77,250.00 L995.93,250.64 L997.09,251.29 L998.26,251.93 L999.42,252.58 L1000.58,253.22 L1001.74,253.87 L1002.91,254.52 L1004.07,255.17 L1005.23,255.82 L1006.40,256.48 L1007.56,257.13 L1008.72,257.79 L1009.88,258.45 L1011.05,259.11 L1012.21,259.77 L1013.37,260.43 L1014.53,261.10 L1015.70,261.76 L1016.86,262.43 L1018.02,263.10 L1019.19,263.77 L1020.35,264.44 L1021.51,265.12 L1022.67,265.79 L1023.84,266.47 L1025.00,267.14 L1026.16,267.82 L1027.33,268.50 L1028.49,269.19 L1029.65,269.87 L1030.81,270.56 L1031.98,271.24 L1033.14,271.93 L1034.30,272.62 L1035.47,273.31 L1036.63,274.00 L1037.79,274.70 L1038.95,275.40 L1040.12,276.09 L1041.28,276.79 L1042.44,277.49 L1043.60,278.19 L1044.77,278.90 L1045.93,279.60 L1047.09,280.31 L1048.26,281.02 L1049.42,281.73 L1050.58,282.44 L1051.74,283.15 L1052.91,283.87 L1054.07,284.58 L1055.23,285.30 L1056.40,286.01 L1057.56,286.71 L1058.72,287.42 L1059.88,288.12 L1061.05,288.81 L1062.21,289.50 L1063.37,290.18 L1064.53,290.86 L1065.70,291.52 L1066.86,292.17 L1068.02,292.82 L1069.19,293.45 L1070.35,294.07 L1071.51,294.67 L1072.67,295.27 L1073.84,295.84 L1075.00,296.40 L1076.16,296.95 L1077.33,297.47 L1078.49,297.98 L1079.65,298.46 L1080.81,298.93 L1081.98,299.38 L1083.14,299.80 L1084.30,300.20 L1085.47,300.57 L1086.63,300.92 L1088.14,301.25" stroke="#1f9b9b"/>
</g>
<line x1="59" y1="297.6" x2="922" y2="297.6" stroke="#000" stroke-width="2.3"/>

<g stroke="#000" stroke-linecap="round" fill="none" transform="scale(0.86,1)">
<line x1="859.19" y1="134.7" x2="737.21" y2="271.5" stroke-width="4.2"/>
<line x1="1024.19" y1="549.5" x2="1024.19" y2="392" stroke-width="4.2"/>
</g>
<g fill="#000" stroke="#000" stroke-width="1" stroke-linejoin="round">
<polygon points="622.3,285.9 631.8,264.4 640.9,272.9"/>
<polygon points="880.8,370.3 874.8,394.6 886.8,394.6"/>
</g>
<text transform="translate(160.0,638.2) scale(0.86,1)" font-size="26.7" text-anchor="middle" stroke="#000" stroke-width="0.45">1800</text>
<text transform="translate(306.3,638.2) scale(0.86,1)" font-size="26.7" text-anchor="middle" stroke="#000" stroke-width="0.45">1900</text>
<text transform="translate(452.6,638.2) scale(0.86,1)" font-size="26.7" text-anchor="middle" stroke="#000" stroke-width="0.45">2000</text>
<text transform="translate(599.0,638.2) scale(0.86,1)" font-size="26.7" text-anchor="middle" stroke="#000" stroke-width="0.45">2100</text>
<text transform="translate(745.3,638.2) scale(0.86,1)" font-size="26.7" text-anchor="middle" stroke="#000" stroke-width="0.45">2200</text>
<text transform="translate(891.6,638.2) scale(0.86,1)" font-size="26.7" text-anchor="middle" stroke="#000" stroke-width="0.45">2300</text>
<text transform="matrix(0.312860 0 0 0.304899 420.81 42.10)" font-size="100" stroke="#000" stroke-width="0.971" style="font-family:'Liberation Serif',serif;font-weight:normal">σ</text>
<text transform="matrix(0.167733 0 0 0.202610 437.34 55.50)" font-size="100" stroke="#000" stroke-width="2.430" style="font-family:'Liberation Sans',sans-serif;font-weight:bold">e</text>
<text transform="matrix(0.223225 0 0 0.337936 447.99 41.69)" font-size="100" stroke="#000" stroke-width="1.604" style="font-family:'Liberation Sans',sans-serif;font-weight:bold">(</text>
<text transform="matrix(0.311172 0 0 0.320976 457.18 42.00)" font-size="100" stroke="#000" stroke-width="0.949" style="font-family:'Liberation Serif',serif;font-weight:normal">λ</text>
<text transform="matrix(0.251571 0 0 0.337936 473.88 41.69)" font-size="100" stroke="#000" stroke-width="1.527" style="font-family:'Liberation Sans',sans-serif;font-weight:bold">)</text>
<text transform="matrix(0.304627 0 0 0.297228 336.24 573.81)" font-size="100" stroke="#000" stroke-width="0.997" style="font-family:'Liberation Serif',serif;font-weight:normal">σ</text>
<text transform="matrix(0.153788 0 0 0.189832 353.25 586.91)" font-size="100" stroke="#000" stroke-width="2.619" style="font-family:'Liberation Sans',sans-serif;font-weight:bold">a</text>
<text transform="matrix(0.223225 0 0 0.337936 363.79 573.09)" font-size="100" stroke="#000" stroke-width="1.604" style="font-family:'Liberation Sans',sans-serif;font-weight:bold">(</text>
<text transform="matrix(0.311172 0 0 0.315295 372.88 573.40)" font-size="100" stroke="#000" stroke-width="0.958" style="font-family:'Liberation Serif',serif;font-weight:normal">λ</text>
<text transform="matrix(0.223225 0 0 0.337936 389.68 573.09)" font-size="100" stroke="#000" stroke-width="1.604" style="font-family:'Liberation Sans',sans-serif;font-weight:bold">)</text>
<text transform="matrix(0.294900 0 0 0.353103 508.99 498.16)" font-size="100" stroke="#000" stroke-width="1.389" style="font-family:'Liberation Sans',sans-serif;font-weight:bold">G</text>
<text transform="matrix(0.209052 0 0 0.335790 532.86 497.83)" font-size="100" stroke="#000" stroke-width="1.652" style="font-family:'Liberation Sans',sans-serif;font-weight:bold">(</text>
<text transform="matrix(0.308966 0 0 0.319556 541.59 498.50)" font-size="100" stroke="#000" stroke-width="0.955" style="font-family:'Liberation Serif',serif;font-weight:normal">λ</text>
<text transform="matrix(0.255114 0 0 0.335790 557.58 497.83)" font-size="100" stroke="#000" stroke-width="1.523" style="font-family:'Liberation Sans',sans-serif;font-weight:bold">)</text>
<text transform="matrix(0.297130 0 0 0.309581 574.67 496.40)" font-size="100" stroke="#000" stroke-width="1.483" style="font-family:'Liberation Sans',sans-serif;font-weight:bold">=</text>
<text transform="matrix(0.293329 0 0 0.353204 600.64 498.20)" font-size="100" stroke="#000" stroke-width="1.392" style="font-family:'Liberation Sans',sans-serif;font-weight:bold">P</text>
<text transform="matrix(0.314919 0 0 0.283805 619.60 498.62)" font-size="100" stroke="#000" stroke-width="1.002" style="font-family:'Liberation Serif',serif;font-weight:normal">σ</text>
<text transform="matrix(0.173945 0 0 0.202610 636.32 512.30)" font-size="100" stroke="#000" stroke-width="2.390" style="font-family:'Liberation Sans',sans-serif;font-weight:bold">e</text>
<text transform="matrix(0.223225 0 0 0.331499 647.39 497.92)" font-size="100" stroke="#000" stroke-width="1.622" style="font-family:'Liberation Sans',sans-serif;font-weight:bold">(</text>
<text transform="matrix(0.308966 0 0 0.319556 656.09 498.50)" font-size="100" stroke="#000" stroke-width="0.955" style="font-family:'Liberation Serif',serif;font-weight:normal">λ</text>
<text transform="matrix(0.240941 0 0 0.331499 672.98 497.92)" font-size="100" stroke="#000" stroke-width="1.572" style="font-family:'Liberation Sans',sans-serif;font-weight:bold">)</text>
<text transform="matrix(0.334769 0 0 0.318951 689.49 498.47)" font-size="100" stroke="#000" stroke-width="1.377" style="font-family:'Liberation Sans',sans-serif;font-weight:bold">-</text>
<text transform="matrix(0.240941 0 0 0.331499 708.00 497.92)" font-size="100" stroke="#000" stroke-width="1.572" style="font-family:'Liberation Sans',sans-serif;font-weight:bold">(</text>
<text transform="matrix(0.272793 0 0 0.357564 717.68 498.50)" font-size="100" stroke="#000" stroke-width="1.428" style="font-family:'Liberation Sans',sans-serif;font-weight:bold">1-P</text>
<text transform="matrix(0.269287 0 0 0.331499 764.27 497.92)" font-size="100" stroke="#000" stroke-width="1.498" style="font-family:'Liberation Sans',sans-serif;font-weight:bold">)</text>
<text transform="matrix(0.312860 0 0 0.283805 780.71 498.62)" font-size="100" stroke="#000" stroke-width="1.006" style="font-family:'Liberation Serif',serif;font-weight:normal">σ</text>
<text transform="matrix(0.159414 0 0 0.193483 798.33 511.81)" font-size="100" stroke="#000" stroke-width="2.550" style="font-family:'Liberation Sans',sans-serif;font-weight:bold">a</text>
<text transform="matrix(0.209052 0 0 0.331499 809.66 497.92)" font-size="100" stroke="#000" stroke-width="1.665" style="font-family:'Liberation Sans',sans-serif;font-weight:bold">(</text>
<text transform="matrix(0.317793 0 0 0.319556 817.46 498.50)" font-size="100" stroke="#000" stroke-width="0.941" style="font-family:'Liberation Serif',serif;font-weight:normal">λ</text>
<text transform="matrix(0.240941 0 0 0.331499 833.98 497.92)" font-size="100" stroke="#000" stroke-width="1.572" style="font-family:'Liberation Sans',sans-serif;font-weight:bold">)</text>
<text transform="matrix(0.291879 0 0 0.345327 743.25 130.91)" font-size="100" stroke="#000" stroke-width="1.412" style="font-family:'Liberation Sans',sans-serif;font-weight:bold">P = 0.3</text>
<text transform="matrix(0.277770 0 0 0.356111 841.94 368.90)" font-size="100" stroke="#000" stroke-width="1.420" style="font-family:'Liberation Sans',sans-serif;font-weight:bold">P = 1</text>
<text transform="matrix(0.291811 0 0 0.353103 843.55 577.46)" font-size="100" stroke="#000" stroke-width="1.396" style="font-family:'Liberation Sans',sans-serif;font-weight:bold">P = 0</text>
<text transform="matrix(0.293821 0 0 0.340621 381.77 694.68)" font-size="100" stroke="#000" stroke-width="1.419" style="font-family:'Liberation Sans',sans-serif;font-weight:bold">Wavelength (nm)</text>
<text transform="matrix(0 -0.352956 0.305752 0 36.66 514.35)" font-size="100" stroke="#000" stroke-width="1.366" style="font-family:'Liberation Sans',sans-serif;font-weight:bold">Gain cross-section (cm</text>
<text transform="matrix(0 -0.209785 0.186182 0 20.10 123.73)" font-size="100" stroke="#000" stroke-width="2.273" style="font-family:'Liberation Sans',sans-serif;font-weight:bold">2</text>
<text transform="matrix(0 -0.297633 0.305752 0 36.66 110.43)" font-size="100" stroke="#000" stroke-width="1.492" style="font-family:'Liberation Sans',sans-serif;font-weight:bold">)</text>
</svg>
</body></html>
